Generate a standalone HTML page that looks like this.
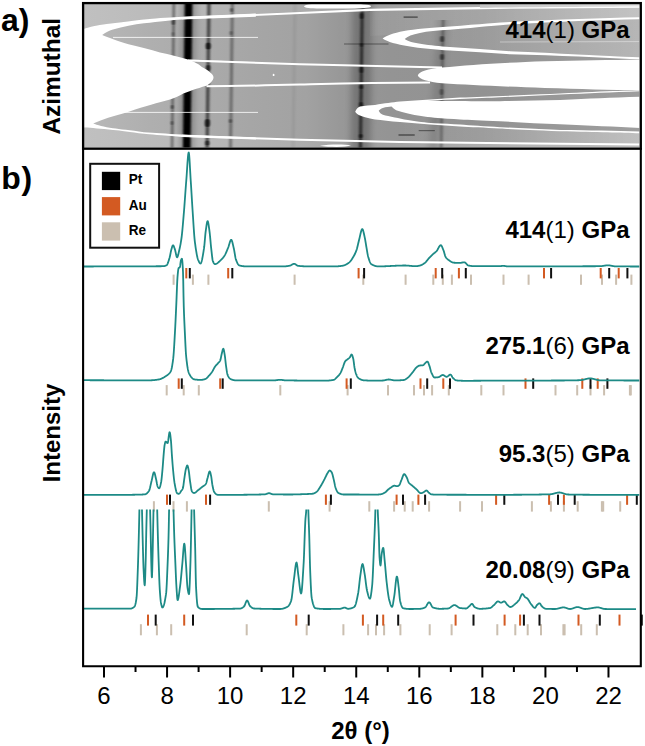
<!DOCTYPE html>
<html><head><meta charset="utf-8"><style>
html,body{margin:0;padding:0;background:#fff;width:645px;height:746px;overflow:hidden}
svg{display:block}
text{font-family:"Liberation Sans", sans-serif}
</style></head><body>
<svg width="645" height="746" viewBox="0 0 645 746">
<defs>
<clipPath id="ca"><rect x="84" y="4" width="555.5" height="143.6"/></clipPath>
<filter id="bl1" x="-100%" y="-5%" width="300%" height="110%"><feGaussianBlur stdDeviation="1.0 0.4"/></filter>
<filter id="bl2" x="-100%" y="-5%" width="300%" height="110%"><feGaussianBlur stdDeviation="3 0.5"/></filter>
<linearGradient id="gbg" x1="84" y1="0" x2="640" y2="0" gradientUnits="userSpaceOnUse">
      <stop offset="0" stop-color="#b8b8b8"/><stop offset="0.12" stop-color="#afafaf"/>
      <stop offset="0.30" stop-color="#a6a6a6"/><stop offset="0.40" stop-color="#a2a2a2"/>
      <stop offset="0.46" stop-color="#989898"/><stop offset="0.55" stop-color="#949494"/>
      <stop offset="0.64" stop-color="#939393"/><stop offset="0.72" stop-color="#929292"/><stop offset="0.85" stop-color="#989898"/><stop offset="1" stop-color="#9e9e9e"/></linearGradient>
<linearGradient id="gR0" x1="84" y1="0" x2="640" y2="0" gradientUnits="userSpaceOnUse">
      <stop offset="0" stop-color="#c0c0c0"/><stop offset="0.2" stop-color="#b8b8b8"/><stop offset="0.4" stop-color="#acacac"/>
      <stop offset="0.5" stop-color="#a0a0a0"/><stop offset="0.62" stop-color="#a6a6a6"/><stop offset="0.8" stop-color="#b4b4b4"/><stop offset="1" stop-color="#bcbcbc"/></linearGradient>
<linearGradient id="gTop" x1="480" y1="0" x2="640" y2="0" gradientUnits="userSpaceOnUse"><stop offset="0" stop-color="#c4c4c4"/><stop offset="0.6" stop-color="#d4d4d4"/><stop offset="1" stop-color="#e4e4e4"/></linearGradient>
<linearGradient id="gTB" x1="370" y1="0" x2="640" y2="0" gradientUnits="userSpaceOnUse"><stop offset="0" stop-color="#fff" stop-opacity="0.05"/><stop offset="0.5" stop-color="#fff" stop-opacity="0.2"/><stop offset="1" stop-color="#fff" stop-opacity="0.38"/></linearGradient>
<linearGradient id="gCI" x1="404" y1="0" x2="640" y2="0" gradientUnits="userSpaceOnUse"><stop offset="0" stop-color="#fff" stop-opacity="0.02"/><stop offset="0.5" stop-color="#fff" stop-opacity="0.12"/><stop offset="1" stop-color="#fff" stop-opacity="0.25"/></linearGradient>
<linearGradient id="gRB" x1="400" y1="0" x2="640" y2="0" gradientUnits="userSpaceOnUse"><stop offset="0" stop-color="#fff" stop-opacity="0.0"/><stop offset="0.5" stop-color="#fff" stop-opacity="0.15"/><stop offset="1" stop-color="#fff" stop-opacity="0.35"/></linearGradient>
<mask id="mw" maskUnits="userSpaceOnUse" x="0" y="0" width="645" height="160">
<path d="M84,28.7 C95,25.5 105,24 113,23.3 C125,21.8 135,20.3 144,19.4 C160,18 172,17.2 182,16.7 L256,13.6 L256,139.4 L182,136.9 C160,135.2 150,134.5 144,133.8 C130,131.8 120,130.6 113,129.9 C100,128.8 92,128 84,127.6 Z" fill="#fff"/><path d="M102.2,34.9 C106,32 110,30.3 113,29.5 C123,26.5 134,24.6 144,23.3 C160,21.3 172,20 182,19.4 L258,16.6 L258,62.3 L188,59.6 C178,56.3 170,54.5 160,52.4 C150,49.4 140,47 128.5,44.2 C117,40.5 108,37.5 102.2,34.9 Z" fill="#000"/><path d="M93.2,123.4 C103,119.3 113,116 123.9,113.3 L129.5,111.5 C145,106.5 158,102.6 170,99.6 C176,97.6 180,95.6 183.3,93.5 C193,89.8 201,87.2 206.5,85.7 L258,85.3 L258,137.7 L182,134.5 C165,133.5 155,133 144,132.2 C130,130.3 120,129.2 113,128.3 C104,126.6 97,125 93.2,123.4 Z" fill="#000"/><path d="M188,59.6 C195,62 199,64.5 201.9,67.1 C208,70.5 213.5,74 213.5,77.2 C213.5,80.5 210,83.5 206.5,85.7 L258,85.3 L258,62.3 Z" fill="#000"/>
<path d="M382.6,38.4 C390,32.5 410,28.5 450,26.4 C480,24 500,22.5 510,21.9 C560,19.5 600,18.2 640,17.3 L640,59.5 C600,57.5 560,55.6 510,54.3 C490,53 470,51.9 450,50.6 C420,48.5 392,45 382.6,38.4 Z" fill="#fff"/><path d="M404.7,39 C410,34 425,31 450,29.8 C480,26.8 500,25.2 510,24.4 C560,21.7 600,20.1 640,19.3 L640,57.3 C600,55.5 560,53.3 510,51.2 C490,49.8 470,48.4 450,47 C430,45.4 410,43.5 404.7,39 Z" fill="#000"/>
<path d="M417.8,75.4 C419,71.8 428,68.8 442,67.6 C470,64.8 500,62.8 545,61.2 C580,60.5 610,60 640,59.8 L640,90.6 C610,90 580,89 545,88 C500,86.3 470,85 442,83.2 C428,81.6 419,79 417.8,75.4 Z" fill="#fff"/>
<path d="M355.2,111.8 C356.5,109 358,107.4 360,106.6 C365,105.6 370,105.2 375,104.9 C385,103.4 392,102.5 400,101.6 C410,100.8 420,100.2 430,99.6 C440,98.9 450,98.2 460,97.6 C480,96.8 500,96.2 530,94.8 C560,93.5 580,92.5 600,91.5 C620,91 630,90.8 640,90.6 L640,133.2 C620,132.7 600,132.2 560,131.2 C530,130 510,129.1 500,128.5 C485,127.8 470,127.1 460,126.6 C450,125.9 440,125.3 430,124.6 C420,123.7 410,122.9 400,122 C390,121.1 382,120.2 375,119.4 C368,118.2 363,116.8 360,115.5 C357.5,114.6 356,113.3 355.2,111.8 Z" fill="#fff"/><path d="M378.7,110.8 C379.6,109.4 381,108.5 382.9,107.9 C386,107.2 389,106.8 391.5,106.6 C392.8,107.9 394.3,109.2 396.1,110.2 C400,111.4 404,112.5 407.9,113.4 C412,114.3 417,115.3 421.1,116.1 C425,116.7 430,117.3 434.3,117.7 C443,118.3 452,118.9 460,119.4 C470,119.9 480,120.3 500,121.2 C520,122.4 540,123.6 560,124.3 C590,125.6 615,126.8 640,127.9 L640,131.5 C615,131 590,130.6 560,130.1 C540,129.1 520,128.1 500,127.2 C485,126.5 470,125.4 460,124.6 C452,124.1 443,123.7 434.3,123.3 C430,122.9 425,122.5 421.1,122 C416,121.4 412,120.7 407.9,120 C403,119.1 399,118.2 394.8,117.4 C390,116.6 386,115.7 382.9,114.8 C381,114.1 379.5,112.5 378.7,110.8 Z M427.7,100.9 C438,100.2 450,99.5 460,99 C475,98.4 490,97.8 500,97.3 C520,96.4 540,95.4 560,94.5 C590,93.2 610,92.2 640,91.2 L640,96.8 C610,97.8 590,98.6 560,100 C540,100.5 520,100.9 500,101.2 C490,101.2 475,101.1 460,100.9 C450,100.9 438,100.9 427.7,100.9 Z" fill="#000"/>
</mask>
</defs>
<g clip-path="url(#ca)">
<rect x="84" y="4" width="556" height="144" fill="url(#gbg)"/>
<path d="M84,4 L84,28.7 C95,25.5 105,24 113,23.3 C135,20.3 160,18 182,16.7 C260,13.4 330,10.5 370,9.8 C470,8 560,7 640,6.6 L640,4 Z" fill="url(#gR0)"/>
<path d="M84,148 L84,127.6 C100,128.8 130,131.8 182,136.9 C260,139 330,141 400,141.9 C500,143.3 600,144.3 640,144.5 L640,148 Z" fill="url(#gR0)"/>
<path d="M370,9.8 C470,8 560,7 640,6.6 L640,19 C600,20 560,21.5 510,24 C470,26.5 430,29 405,34 L370,36 Z" fill="url(#gTB)"/>
<path d="M404.7,39 C410,34 425,31 450,29.8 C480,26.8 500,25.2 510,24.4 C560,21.7 600,20.1 640,19.3 L640,57.3 C600,55.5 560,53.3 510,51.2 C490,49.8 470,48.4 450,47 C430,45.4 410,43.5 404.7,39 Z" fill="url(#gCI)"/>
<path d="M400,121 C480,126.5 560,130.5 640,132.5 L640,144.5 C600,144.3 500,143.3 400,141.9 Z" fill="url(#gRB)"/>
<path d="M172.6,0 h2.6 L173.3,150 h-2.6 Z" fill="#000" opacity="0.42" filter="url(#bl1)"/>
<path d="M184.8,0 h7.6 L190.5,150 h-7.6 Z" fill="#000" opacity="1.0" filter="url(#bl1)"/>
<path d="M207.3,0 h3.4 L208.8,150 h-3.4 Z" fill="#000" opacity="0.58" filter="url(#bl1)"/>
<path d="M230.9,0 h3.0 L232.0,150 h-3.0 Z" fill="#000" opacity="0.36" filter="url(#bl1)"/>
<path d="M293.5,0 h3 L294.6,150 h-3 Z" fill="#000" opacity="0.05" filter="url(#bl1)"/>
<path d="M360.7,0 h3.2 L362.0,150 h-3.2 Z" fill="#000" opacity="0.62" filter="url(#bl1)"/>
<path d="M181.7,0 h14 L193.8,150 h-14 Z" fill="#000" opacity="0.22" filter="url(#bl2)"/>
<path d="M352.3,0 h20 L370.4,150 h-20 Z" fill="#000" opacity="0.22" filter="url(#bl2)"/>
<path d="M441.9,20 h2.5 L442.4,150 h-2.5 Z" fill="#000" opacity="0.3" filter="url(#bl1)"/>
<path d="M437.9,20 h10 L438.4,150 h-10 Z" fill="#000" opacity="0.12" filter="url(#bl2)"/>
<ellipse cx="173.3" cy="22" rx="1.6" ry="3" fill="#000" opacity="0.5" filter="url(#bl1)"/>
<ellipse cx="173" cy="34" rx="1.2" ry="2" fill="#000" opacity="0.3" filter="url(#bl1)"/>
<ellipse cx="172.2" cy="107" rx="1.3" ry="2" fill="#000" opacity="0.45" filter="url(#bl1)"/>
<ellipse cx="172" cy="123" rx="1.3" ry="2" fill="#000" opacity="0.4" filter="url(#bl1)"/>
<ellipse cx="208.2" cy="46" rx="2.4" ry="3.6" fill="#000" opacity="0.75" filter="url(#bl1)"/>
<ellipse cx="208.2" cy="68" rx="2.2" ry="3" fill="#000" opacity="0.6" filter="url(#bl1)"/>
<ellipse cx="207.4" cy="123" rx="2.6" ry="4" fill="#000" opacity="0.7" filter="url(#bl1)"/>
<ellipse cx="207.3" cy="143" rx="2.2" ry="2.5" fill="#000" opacity="0.6" filter="url(#bl1)"/>
<ellipse cx="231.5" cy="10" rx="1.5" ry="2" fill="#000" opacity="0.4" filter="url(#bl1)"/>
<ellipse cx="231" cy="33" rx="1.5" ry="2" fill="#000" opacity="0.3" filter="url(#bl1)"/>
<ellipse cx="230.4" cy="121" rx="1.5" ry="2" fill="#000" opacity="0.4" filter="url(#bl1)"/>
<ellipse cx="361.5" cy="16" rx="1.8" ry="3" fill="#000" opacity="0.6" filter="url(#bl1)"/>
<ellipse cx="361.5" cy="45" rx="1.6" ry="2" fill="#000" opacity="0.5" filter="url(#bl1)"/>
<ellipse cx="361.3" cy="70" rx="2.0" ry="3" fill="#000" opacity="0.5" filter="url(#bl1)"/>
<ellipse cx="361.2" cy="87" rx="1.8" ry="2" fill="#000" opacity="0.6" filter="url(#bl1)"/>
<ellipse cx="361" cy="105" rx="1.8" ry="3" fill="#000" opacity="0.6" filter="url(#bl1)"/>
<ellipse cx="360.8" cy="136" rx="1.8" ry="2" fill="#000" opacity="0.6" filter="url(#bl1)"/>
<ellipse cx="442" cy="39" rx="2" ry="3" fill="#000" opacity="0.5" filter="url(#bl1)"/>
<ellipse cx="442" cy="57" rx="2" ry="3" fill="#000" opacity="0.5" filter="url(#bl1)"/>
<ellipse cx="441.5" cy="92" rx="2" ry="3" fill="#000" opacity="0.3" filter="url(#bl1)"/>
<rect x="403.6" y="16.5" width="14.099999999999966" height="1.2" fill="#000" opacity="0.6"/>
<rect x="344" y="43.4" width="44.5" height="1.2" fill="#000" opacity="0.35"/>
<rect x="398.5" y="134.4" width="16.19999999999999" height="1.2" fill="#000" opacity="0.6"/>
<rect x="418.7" y="130.0" width="16.100000000000023" height="1.2" fill="#000" opacity="0.4"/>
<rect x="84" y="4" width="556" height="144" fill="#fff" mask="url(#mw)"/>
<path d="M182,18.1 C220,16.4 260,14.9 300,13 C330,11.6 350,10.6 370,9.8 C420,8.8 470,8 510,7.6 C560,7.1 600,6.8 640,6.6" fill="none" stroke="#fff" stroke-width="2.2" opacity="1"/>
<path d="M188,60.4 C220,61.7 260,63 300,64.2 C340,65.2 370,66.0 442,67.6" fill="none" stroke="#fff" stroke-width="2.0" opacity="1"/>
<path d="M206.5,86.3 C230,86.2 260,85.6 300,84.6 C340,83.6 370,82.7 430,82.6" fill="none" stroke="#fff" stroke-width="2.0" opacity="1"/>
<path d="M182,135.8 C220,137.2 250,138.3 300,139.8 C330,140.6 360,141.1 400,141.9 C450,142.7 500,143.3 560,143.8 C600,144.1 620,144.3 640,144.5" fill="none" stroke="#fff" stroke-width="2.0" opacity="1"/>
<path d="M113,37.4 L258,37.4" fill="none" stroke="#fff" stroke-width="1.0" opacity="0.8"/>
<path d="M124,112.4 L258,112.4" fill="none" stroke="#fff" stroke-width="1.0" opacity="0.8"/>
<path d="M500,42 L640,41.6" fill="none" stroke="#fff" stroke-width="1.0" opacity="0.4"/>
<path d="M480,4 L640,4 L640,6.6 C600,6.8 560,7.1 480,7.8 Z" fill="url(#gTop)"/>
<path d="M304,6.2 C306,4 312,4 320,4 L358,4 C366,4 371,5 371,6.3 C371,7.8 365,8.4 355,8.4 L320,8.4 C310,8.4 304,7.8 304,6.2 Z" fill="#fff"/>
<ellipse cx="273.6" cy="74.9" rx="0.9" ry="1.2" fill="#fff"/>
<path d="M320,145.8 C330,144.2 345,144.2 351,145.6 C345,147.4 330,147.4 320,145.8 Z" fill="#fff"/>
</g>
<rect x="83.1" y="3.1" width="557.7" height="145.6" fill="none" stroke="#000" stroke-width="2.3"/>
<text x="629.6" y="37.8" text-anchor="end" font-size="24" font-family='"Liberation Sans", sans-serif'><tspan font-weight="bold">414</tspan>(1)<tspan font-weight="bold"> GPa</tspan></text>
<defs><clipPath id="cb"><rect x="84" y="150" width="555.5" height="516"/></clipPath>
<clipPath id="c4"><rect x="84" y="509.5" width="560" height="200"/></clipPath></defs>
<rect x="172.6" y="274.6" width="2" height="10.2" fill="#cbbfb0"/>
<rect x="191.9" y="274.6" width="2" height="10.2" fill="#cbbfb0"/>
<rect x="207.4" y="274.6" width="2" height="10.2" fill="#cbbfb0"/>
<rect x="293.6" y="274.6" width="2" height="10.2" fill="#cbbfb0"/>
<rect x="362.3" y="274.6" width="2" height="10.2" fill="#cbbfb0"/>
<rect x="404.6" y="274.6" width="2" height="10.2" fill="#cbbfb0"/>
<rect x="432.3" y="274.6" width="2" height="10.2" fill="#cbbfb0"/>
<rect x="441.8" y="274.6" width="2" height="10.2" fill="#cbbfb0"/>
<rect x="450.9" y="274.6" width="2" height="10.2" fill="#cbbfb0"/>
<rect x="470.0" y="274.6" width="2" height="10.2" fill="#cbbfb0"/>
<rect x="502.5" y="274.6" width="2" height="10.2" fill="#cbbfb0"/>
<rect x="527.6" y="274.6" width="2" height="10.2" fill="#cbbfb0"/>
<rect x="580.0" y="274.6" width="2" height="10.2" fill="#cbbfb0"/>
<rect x="601.0" y="274.6" width="2" height="10.2" fill="#cbbfb0"/>
<rect x="615.1" y="274.6" width="2" height="10.2" fill="#cbbfb0"/>
<rect x="630.4" y="274.6" width="2" height="10.2" fill="#cbbfb0"/>
<rect x="185.3" y="268" width="2" height="10.4" fill="#d35a22"/>
<rect x="227.2" y="268" width="2" height="10.4" fill="#d35a22"/>
<rect x="357.6" y="268" width="2" height="10.4" fill="#d35a22"/>
<rect x="434.7" y="268" width="2" height="10.4" fill="#d35a22"/>
<rect x="457.9" y="268" width="2" height="10.4" fill="#d35a22"/>
<rect x="543.0" y="268" width="2" height="10.4" fill="#d35a22"/>
<rect x="599.7" y="268" width="2" height="10.4" fill="#d35a22"/>
<rect x="617.7" y="268" width="2" height="10.4" fill="#d35a22"/>
<rect x="188.8" y="268" width="2" height="10.4" fill="#111"/>
<rect x="231.3" y="268" width="2" height="10.4" fill="#111"/>
<rect x="363.1" y="268" width="2" height="10.4" fill="#111"/>
<rect x="441.2" y="268" width="2" height="10.4" fill="#111"/>
<rect x="464.8" y="268" width="2" height="10.4" fill="#111"/>
<rect x="550.1" y="268" width="2" height="10.4" fill="#111"/>
<rect x="608.2" y="268" width="2" height="10.4" fill="#111"/>
<rect x="626.4" y="268" width="2" height="10.4" fill="#111"/>
<rect x="165.7" y="385.1" width="2" height="10.3" fill="#cbbfb0"/>
<rect x="182.7" y="385.1" width="2" height="10.3" fill="#cbbfb0"/>
<rect x="197.8" y="385.1" width="2" height="10.3" fill="#cbbfb0"/>
<rect x="279.3" y="385.1" width="2" height="10.3" fill="#cbbfb0"/>
<rect x="346.6" y="385.1" width="2" height="10.3" fill="#cbbfb0"/>
<rect x="387.0" y="385.1" width="2" height="10.3" fill="#cbbfb0"/>
<rect x="413.0" y="385.1" width="2" height="10.3" fill="#cbbfb0"/>
<rect x="423.0" y="385.1" width="2" height="10.3" fill="#cbbfb0"/>
<rect x="431.1" y="385.1" width="2" height="10.3" fill="#cbbfb0"/>
<rect x="447.8" y="385.1" width="2" height="10.3" fill="#cbbfb0"/>
<rect x="480.3" y="385.1" width="2" height="10.3" fill="#cbbfb0"/>
<rect x="502.5" y="385.1" width="2" height="10.3" fill="#cbbfb0"/>
<rect x="554.5" y="385.1" width="2" height="10.3" fill="#cbbfb0"/>
<rect x="576.2" y="385.1" width="2" height="10.3" fill="#cbbfb0"/>
<rect x="589.5" y="385.1" width="2" height="10.3" fill="#cbbfb0"/>
<rect x="603.1" y="385.1" width="2" height="10.3" fill="#cbbfb0"/>
<rect x="628.9" y="385.1" width="2" height="10.3" fill="#cbbfb0"/>
<rect x="629.8" y="385.1" width="2" height="10.3" fill="#cbbfb0"/>
<rect x="177.7" y="378.4" width="2" height="10.4" fill="#d35a22"/>
<rect x="219.2" y="378.4" width="2" height="10.4" fill="#d35a22"/>
<rect x="345.6" y="378.4" width="2" height="10.4" fill="#d35a22"/>
<rect x="419.5" y="378.4" width="2" height="10.4" fill="#d35a22"/>
<rect x="442.3" y="378.4" width="2" height="10.4" fill="#d35a22"/>
<rect x="524.5" y="378.4" width="2" height="10.4" fill="#d35a22"/>
<rect x="581.3" y="378.4" width="2" height="10.4" fill="#d35a22"/>
<rect x="596.7" y="378.4" width="2" height="10.4" fill="#d35a22"/>
<rect x="180.8" y="378.4" width="2" height="10.4" fill="#111"/>
<rect x="221.7" y="378.4" width="2" height="10.4" fill="#111"/>
<rect x="349.8" y="378.4" width="2" height="10.4" fill="#111"/>
<rect x="426.2" y="378.4" width="2" height="10.4" fill="#111"/>
<rect x="449.0" y="378.4" width="2" height="10.4" fill="#111"/>
<rect x="532.2" y="378.4" width="2" height="10.4" fill="#111"/>
<rect x="589.5" y="378.4" width="2" height="10.4" fill="#111"/>
<rect x="606.4" y="378.4" width="2" height="10.4" fill="#111"/>
<rect x="152.9" y="501.2" width="2" height="10.4" fill="#cbbfb0"/>
<rect x="172.5" y="501.2" width="2" height="10.4" fill="#cbbfb0"/>
<rect x="185.9" y="501.2" width="2" height="10.4" fill="#cbbfb0"/>
<rect x="267.8" y="501.2" width="2" height="10.4" fill="#cbbfb0"/>
<rect x="328.6" y="501.2" width="2" height="10.4" fill="#cbbfb0"/>
<rect x="368.3" y="501.2" width="2" height="10.4" fill="#cbbfb0"/>
<rect x="393.1" y="501.2" width="2" height="10.4" fill="#cbbfb0"/>
<rect x="403.7" y="501.2" width="2" height="10.4" fill="#cbbfb0"/>
<rect x="411.7" y="501.2" width="2" height="10.4" fill="#cbbfb0"/>
<rect x="428.1" y="501.2" width="2" height="10.4" fill="#cbbfb0"/>
<rect x="459.1" y="501.2" width="2" height="10.4" fill="#cbbfb0"/>
<rect x="481.0" y="501.2" width="2" height="10.4" fill="#cbbfb0"/>
<rect x="530.9" y="501.2" width="2" height="10.4" fill="#cbbfb0"/>
<rect x="549.9" y="501.2" width="2" height="10.4" fill="#cbbfb0"/>
<rect x="562.9" y="501.2" width="2" height="10.4" fill="#cbbfb0"/>
<rect x="576.7" y="501.2" width="2" height="10.4" fill="#cbbfb0"/>
<rect x="600.9" y="501.2" width="2" height="10.4" fill="#cbbfb0"/>
<rect x="602.2" y="501.2" width="2" height="10.4" fill="#cbbfb0"/>
<rect x="619.2" y="501.2" width="2" height="10.4" fill="#cbbfb0"/>
<rect x="166.0" y="494.6" width="2" height="10.2" fill="#d35a22"/>
<rect x="205.0" y="494.6" width="2" height="10.2" fill="#d35a22"/>
<rect x="324.9" y="494.6" width="2" height="10.2" fill="#d35a22"/>
<rect x="395.6" y="494.6" width="2" height="10.2" fill="#d35a22"/>
<rect x="417.4" y="494.6" width="2" height="10.2" fill="#d35a22"/>
<rect x="495.1" y="494.6" width="2" height="10.2" fill="#d35a22"/>
<rect x="548.1" y="494.6" width="2" height="10.2" fill="#d35a22"/>
<rect x="562.9" y="494.6" width="2" height="10.2" fill="#d35a22"/>
<rect x="626.1" y="494.6" width="2" height="10.2" fill="#d35a22"/>
<rect x="169.0" y="494.6" width="2" height="10.2" fill="#111"/>
<rect x="209.1" y="494.6" width="2" height="10.2" fill="#111"/>
<rect x="329.9" y="494.6" width="2" height="10.2" fill="#111"/>
<rect x="402.0" y="494.6" width="2" height="10.2" fill="#111"/>
<rect x="424.1" y="494.6" width="2" height="10.2" fill="#111"/>
<rect x="503.3" y="494.6" width="2" height="10.2" fill="#111"/>
<rect x="557.0" y="494.6" width="2" height="10.2" fill="#111"/>
<rect x="573.7" y="494.6" width="2" height="10.2" fill="#111"/>
<rect x="635.8" y="494.6" width="2" height="10.2" fill="#111"/>
<rect x="139.9" y="624.2" width="2" height="11.1" fill="#cbbfb0"/>
<rect x="155.9" y="624.2" width="2" height="11.1" fill="#cbbfb0"/>
<rect x="170.2" y="624.2" width="2" height="11.1" fill="#cbbfb0"/>
<rect x="245.7" y="624.2" width="2" height="11.1" fill="#cbbfb0"/>
<rect x="305.7" y="624.2" width="2" height="11.1" fill="#cbbfb0"/>
<rect x="342.4" y="624.2" width="2" height="11.1" fill="#cbbfb0"/>
<rect x="367.1" y="624.2" width="2" height="11.1" fill="#cbbfb0"/>
<rect x="375.0" y="624.2" width="2" height="11.1" fill="#cbbfb0"/>
<rect x="383.1" y="624.2" width="2" height="11.1" fill="#cbbfb0"/>
<rect x="399.4" y="624.2" width="2" height="11.1" fill="#cbbfb0"/>
<rect x="428.7" y="624.2" width="2" height="11.1" fill="#cbbfb0"/>
<rect x="450.6" y="624.2" width="2" height="11.1" fill="#cbbfb0"/>
<rect x="496.3" y="624.2" width="2" height="11.1" fill="#cbbfb0"/>
<rect x="514.3" y="624.2" width="2" height="11.1" fill="#cbbfb0"/>
<rect x="526.7" y="624.2" width="2" height="11.1" fill="#cbbfb0"/>
<rect x="540.0" y="624.2" width="2" height="11.1" fill="#cbbfb0"/>
<rect x="562.4" y="624.2" width="2" height="11.1" fill="#cbbfb0"/>
<rect x="563.6" y="624.2" width="2" height="11.1" fill="#cbbfb0"/>
<rect x="580.2" y="624.2" width="2" height="11.1" fill="#cbbfb0"/>
<rect x="595.8" y="624.2" width="2" height="11.1" fill="#cbbfb0"/>
<rect x="147.0" y="614.6" width="2" height="11.0" fill="#d35a22"/>
<rect x="183.2" y="614.6" width="2" height="11.0" fill="#d35a22"/>
<rect x="295.3" y="614.6" width="2" height="11.0" fill="#d35a22"/>
<rect x="361.9" y="614.6" width="2" height="11.0" fill="#d35a22"/>
<rect x="382.2" y="614.6" width="2" height="11.0" fill="#d35a22"/>
<rect x="454.6" y="614.6" width="2" height="11.0" fill="#d35a22"/>
<rect x="503.6" y="614.6" width="2" height="11.0" fill="#d35a22"/>
<rect x="519.1" y="614.6" width="2" height="11.0" fill="#d35a22"/>
<rect x="577.5" y="614.6" width="2" height="11.0" fill="#d35a22"/>
<rect x="618.5" y="614.6" width="2" height="11.0" fill="#d35a22"/>
<rect x="154.7" y="614.6" width="2" height="11.0" fill="#111"/>
<rect x="192.0" y="614.6" width="2" height="11.0" fill="#111"/>
<rect x="307.7" y="614.6" width="2" height="11.0" fill="#111"/>
<rect x="376.1" y="614.6" width="2" height="11.0" fill="#111"/>
<rect x="397.2" y="614.6" width="2" height="11.0" fill="#111"/>
<rect x="472.5" y="614.6" width="2" height="11.0" fill="#111"/>
<rect x="522.9" y="614.6" width="2" height="11.0" fill="#111"/>
<rect x="538.5" y="614.6" width="2" height="11.0" fill="#111"/>
<rect x="598.8" y="614.6" width="2" height="11.0" fill="#111"/>
<rect x="640.8" y="614.6" width="2" height="11.0" fill="#111"/>
<g clip-path="url(#cb)">
<polyline points="84.00,266.50 84.25,266.50 84.50,266.50 84.75,266.50 85.00,266.50 85.25,266.50 85.50,266.50 85.75,266.50 86.00,266.50 86.25,266.49 86.50,266.49 86.75,266.49 87.00,266.49 87.25,266.49 87.50,266.49 87.75,266.49 88.00,266.49 88.25,266.49 88.50,266.49 88.75,266.49 89.00,266.49 89.25,266.49 89.50,266.49 89.75,266.49 90.00,266.48 90.25,266.48 90.50,266.48 90.75,266.48 91.00,266.48 91.25,266.48 91.50,266.48 91.75,266.48 92.00,266.48 92.25,266.48 92.50,266.48 92.75,266.48 93.00,266.48 93.25,266.48 93.50,266.48 93.75,266.47 94.00,266.47 94.25,266.47 94.50,266.47 94.75,266.47 95.00,266.47 95.25,266.47 95.50,266.47 95.75,266.47 96.00,266.47 96.25,266.47 96.50,266.47 96.75,266.47 97.00,266.47 97.25,266.47 97.50,266.46 97.75,266.46 98.00,266.46 98.25,266.46 98.50,266.46 98.75,266.46 99.00,266.46 99.25,266.46 99.50,266.46 99.75,266.46 100.00,266.46 100.25,266.46 100.50,266.46 100.75,266.46 101.00,266.46 101.25,266.45 101.50,266.45 101.75,266.45 102.00,266.45 102.25,266.45 102.50,266.45 102.75,266.45 103.00,266.45 103.25,266.45 103.50,266.45 103.75,266.45 104.00,266.45 104.25,266.45 104.50,266.45 104.75,266.44 105.00,266.44 105.25,266.44 105.50,266.44 105.75,266.44 106.00,266.44 106.25,266.44 106.50,266.44 106.75,266.44 107.00,266.44 107.25,266.44 107.50,266.44 107.75,266.44 108.00,266.44 108.25,266.43 108.50,266.43 108.75,266.43 109.00,266.43 109.25,266.43 109.50,266.43 109.75,266.43 110.00,266.43 110.25,266.43 110.50,266.43 110.75,266.43 111.00,266.43 111.25,266.43 111.50,266.43 111.75,266.42 112.00,266.42 112.25,266.42 112.50,266.42 112.75,266.42 113.00,266.42 113.25,266.42 113.50,266.42 113.75,266.42 114.00,266.42 114.25,266.42 114.50,266.42 114.75,266.42 115.00,266.42 115.25,266.41 115.50,266.41 115.75,266.41 116.00,266.41 116.25,266.41 116.50,266.41 116.75,266.41 117.00,266.41 117.25,266.41 117.50,266.41 117.75,266.41 118.00,266.41 118.25,266.41 118.50,266.40 118.75,266.40 119.00,266.40 119.25,266.40 119.50,266.40 119.75,266.40 120.00,266.40 120.25,266.40 120.50,266.40 120.75,266.40 121.00,266.40 121.25,266.40 121.50,266.40 121.75,266.39 122.00,266.39 122.25,266.39 122.50,266.39 122.75,266.39 123.00,266.39 123.25,266.39 123.50,266.39 123.75,266.39 124.00,266.39 124.25,266.39 124.50,266.39 124.75,266.39 125.00,266.39 125.25,266.38 125.50,266.38 125.75,266.38 126.00,266.38 126.25,266.38 126.50,266.38 126.75,266.38 127.00,266.38 127.25,266.38 127.50,266.38 127.75,266.38 128.00,266.38 128.25,266.38 128.50,266.38 128.75,266.37 129.00,266.37 129.25,266.37 129.50,266.37 129.75,266.37 130.00,266.37 130.25,266.37 130.50,266.37 130.75,266.37 131.00,266.37 131.25,266.37 131.50,266.37 131.75,266.37 132.00,266.37 132.25,266.37 132.50,266.36 132.75,266.36 133.00,266.36 133.25,266.36 133.50,266.36 133.75,266.36 134.00,266.36 134.25,266.36 134.50,266.36 134.75,266.36 135.00,266.36 135.25,266.36 135.50,266.36 135.75,266.35 136.00,266.35 136.25,266.35 136.50,266.35 136.75,266.35 137.00,266.35 137.25,266.35 137.50,266.35 137.75,266.35 138.00,266.35 138.25,266.35 138.50,266.35 138.75,266.35 139.00,266.34 139.25,266.34 139.50,266.34 139.75,266.34 140.00,266.34 140.25,266.34 140.50,266.34 140.75,266.34 141.00,266.34 141.25,266.34 141.50,266.34 141.75,266.33 142.00,266.33 142.25,266.33 142.50,266.33 142.75,266.33 143.00,266.33 143.25,266.33 143.50,266.33 143.75,266.33 144.00,266.33 144.25,266.33 144.50,266.32 144.75,266.32 145.00,266.32 145.25,266.32 145.50,266.32 145.75,266.32 146.00,266.32 146.25,266.32 146.50,266.32 146.75,266.31 147.00,266.31 147.25,266.31 147.50,266.31 147.75,266.31 148.00,266.31 148.25,266.31 148.50,266.31 148.75,266.31 149.00,266.30 149.25,266.30 149.50,266.30 149.75,266.30 150.00,266.30 150.25,266.30 150.50,266.30 150.75,266.30 151.00,266.30 151.25,266.29 151.50,266.29 151.75,266.29 152.00,266.29 152.25,266.29 152.50,266.29 152.75,266.29 153.00,266.29 153.25,266.29 153.50,266.29 153.75,266.28 154.00,266.28 154.25,266.28 154.50,266.28 154.75,266.28 155.00,266.28 155.25,266.28 155.50,266.28 155.75,266.28 156.00,266.27 156.25,266.27 156.50,266.27 156.75,266.27 157.00,266.27 157.25,266.27 157.50,266.27 157.75,266.26 158.00,266.26 158.25,266.26 158.50,266.26 158.75,266.26 159.00,266.25 159.25,266.25 159.50,266.25 159.75,266.25 160.00,266.24 160.25,266.24 160.50,266.24 160.75,266.23 161.00,266.23 161.25,266.23 161.50,266.22 161.75,266.22 162.00,266.22 162.25,266.21 162.50,266.21 162.75,266.20 163.00,266.20 163.25,266.19 163.50,266.17 163.75,266.15 164.00,266.11 164.25,266.06 164.50,266.01 164.75,265.95 165.00,265.88 165.25,265.80 165.50,265.72 165.75,265.62 166.00,265.52 166.25,265.42 166.50,265.30 166.75,265.12 167.00,264.82 167.25,264.41 167.50,263.91 167.75,263.33 168.00,262.68 168.25,261.97 168.50,261.22 168.75,260.43 169.00,259.63 169.25,258.81 169.50,258.00 169.75,257.08 170.00,255.98 170.25,254.76 170.50,253.48 170.75,252.20 171.00,250.99 171.25,249.90 171.50,249.00 171.75,248.18 172.00,247.34 172.25,246.56 172.50,245.91 172.75,245.46 173.00,245.30 173.25,245.42 173.50,245.74 173.75,246.22 174.00,246.82 174.25,247.49 174.50,248.19 174.75,248.87 175.00,249.61 175.25,250.58 175.50,251.72 175.75,252.93 176.00,254.13 176.25,255.25 176.50,256.20 176.75,256.90 177.00,257.27 177.25,257.24 177.50,256.91 177.75,256.32 178.00,255.53 178.25,254.59 178.50,253.53 178.75,252.42 179.00,251.29 179.25,250.21 179.50,249.16 179.75,248.05 180.00,246.88 180.25,245.63 180.50,244.30 180.75,242.88 181.00,241.36 181.25,239.74 181.50,238.00 181.75,236.06 182.00,233.84 182.25,231.41 182.50,228.78 182.75,225.99 183.00,223.10 183.25,220.12 183.50,217.11 183.75,214.09 184.00,211.09 184.25,207.95 184.50,204.66 184.75,201.26 185.00,197.80 185.25,194.30 185.50,190.81 185.75,187.38 186.00,184.04 186.25,180.82 186.50,177.57 186.75,173.96 187.00,170.15 187.25,166.32 187.50,162.63 187.75,159.27 188.00,156.40 188.25,154.21 188.50,152.86 188.75,152.53 189.00,153.61 189.25,156.00 189.50,159.40 189.75,163.49 190.00,168.00 190.25,172.61 190.50,177.02 190.75,180.95 191.00,184.81 191.25,188.82 191.50,192.93 191.75,197.09 192.00,201.24 192.25,205.32 192.50,209.27 192.75,213.05 193.00,216.87 193.25,220.80 193.50,224.72 193.75,228.54 194.00,232.15 194.25,235.46 194.50,238.37 194.75,240.79 195.00,242.78 195.25,244.69 195.50,246.52 195.75,248.26 196.00,249.91 196.25,251.47 196.50,252.94 196.75,254.30 197.00,255.56 197.25,256.71 197.50,257.75 197.75,258.67 198.00,259.48 198.25,260.15 198.50,260.71 198.75,261.24 199.00,261.75 199.25,262.22 199.50,262.64 199.75,263.00 200.00,263.27 200.25,263.44 200.50,263.50 200.75,263.38 201.00,263.05 201.25,262.52 201.50,261.80 201.75,260.91 202.00,259.88 202.25,258.72 202.50,257.44 202.75,256.07 203.00,254.62 203.25,253.11 203.50,251.56 203.75,249.98 204.00,248.40 204.25,246.47 204.50,243.99 204.75,241.17 205.00,238.24 205.25,235.42 205.50,232.92 205.75,230.95 206.00,229.12 206.25,227.28 206.50,225.51 206.75,223.92 207.00,222.60 207.25,221.64 207.50,221.15 207.75,221.20 208.00,221.80 208.25,222.83 208.50,224.22 208.75,225.85 209.00,227.64 209.25,229.49 209.50,231.30 209.75,233.31 210.00,235.73 210.25,238.40 210.50,241.20 210.75,243.96 211.00,246.55 211.25,248.83 211.50,251.10 211.75,253.43 212.00,255.69 212.25,257.75 212.50,259.47 212.75,260.72 213.00,261.44 213.25,262.00 213.50,262.51 213.75,262.96 214.00,263.35 214.25,263.67 214.50,263.90 214.75,264.05 215.00,264.10 215.25,264.09 215.50,264.05 215.75,263.99 216.00,263.91 216.25,263.81 216.50,263.69 216.75,263.55 217.00,263.40 217.25,263.23 217.50,263.05 217.75,262.86 218.00,262.66 218.25,262.44 218.50,262.23 218.75,262.00 219.00,261.77 219.25,261.54 219.50,261.31 219.75,261.08 220.00,260.84 220.25,260.61 220.50,260.39 220.75,260.17 221.00,259.94 221.25,259.70 221.50,259.45 221.75,259.19 222.00,258.93 222.25,258.65 222.50,258.36 222.75,258.07 223.00,257.76 223.25,257.44 223.50,257.11 223.75,256.77 224.00,256.41 224.25,256.05 224.50,255.67 224.75,255.28 225.00,254.87 225.25,254.41 225.50,253.93 225.75,253.41 226.00,252.86 226.25,252.29 226.50,251.69 226.75,251.09 227.00,250.47 227.25,249.85 227.50,249.23 227.75,248.60 228.00,247.99 228.25,247.38 228.50,246.70 228.75,245.93 229.00,245.11 229.25,244.26 229.50,243.41 229.75,242.59 230.00,241.82 230.25,241.13 230.50,240.56 230.75,240.13 231.00,239.87 231.25,239.81 231.50,239.99 231.75,240.42 232.00,241.04 232.25,241.84 232.50,242.77 232.75,243.80 233.00,244.89 233.25,246.01 233.50,247.12 233.75,248.19 234.00,249.30 234.25,250.63 234.50,252.10 234.75,253.63 235.00,255.16 235.25,256.61 235.50,257.89 235.75,258.92 236.00,259.67 236.25,260.34 236.50,260.99 236.75,261.60 237.00,262.19 237.25,262.73 237.50,263.24 237.75,263.71 238.00,264.13 238.25,264.50 238.50,264.81 238.75,265.06 239.00,265.26 239.25,265.38 239.50,265.46 239.75,265.53 240.00,265.61 240.25,265.67 240.50,265.74 240.75,265.80 241.00,265.85 241.25,265.91 241.50,265.96 241.75,266.00 242.00,266.05 242.25,266.09 242.50,266.12 242.75,266.16 243.00,266.19 243.25,266.21 243.50,266.24 243.75,266.26 244.00,266.27 244.25,266.28 244.50,266.29 244.75,266.30 245.00,266.30 245.25,266.30 245.50,266.30 245.75,266.30 246.00,266.30 246.25,266.30 246.50,266.30 246.75,266.30 247.00,266.30 247.25,266.30 247.50,266.30 247.75,266.30 248.00,266.30 248.25,266.30 248.50,266.30 248.75,266.30 249.00,266.30 249.25,266.30 249.50,266.30 249.75,266.30 250.00,266.30 250.25,266.30 250.50,266.30 250.75,266.30 251.00,266.30 251.25,266.30 251.50,266.30 251.75,266.30 252.00,266.30 252.25,266.30 252.50,266.30 252.75,266.30 253.00,266.30 253.25,266.30 253.50,266.30 253.75,266.30 254.00,266.30 254.25,266.30 254.50,266.30 254.75,266.30 255.00,266.30 255.25,266.30 255.50,266.30 255.75,266.30 256.00,266.30 256.25,266.30 256.50,266.30 256.75,266.30 257.00,266.30 257.25,266.30 257.50,266.30 257.75,266.30 258.00,266.30 258.25,266.30 258.50,266.30 258.75,266.30 259.00,266.30 259.25,266.30 259.50,266.30 259.75,266.30 260.00,266.30 260.25,266.30 260.50,266.30 260.75,266.30 261.00,266.30 261.25,266.30 261.50,266.30 261.75,266.30 262.00,266.30 262.25,266.30 262.50,266.30 262.75,266.30 263.00,266.30 263.25,266.30 263.50,266.30 263.75,266.30 264.00,266.30 264.25,266.30 264.50,266.30 264.75,266.30 265.00,266.30 265.25,266.30 265.50,266.30 265.75,266.30 266.00,266.30 266.25,266.30 266.50,266.30 266.75,266.30 267.00,266.30 267.25,266.30 267.50,266.30 267.75,266.30 268.00,266.30 268.25,266.30 268.50,266.30 268.75,266.30 269.00,266.30 269.25,266.30 269.50,266.30 269.75,266.30 270.00,266.30 270.25,266.30 270.50,266.30 270.75,266.30 271.00,266.30 271.25,266.30 271.50,266.30 271.75,266.30 272.00,266.30 272.25,266.30 272.50,266.30 272.75,266.30 273.00,266.30 273.25,266.30 273.50,266.30 273.75,266.30 274.00,266.30 274.25,266.30 274.50,266.30 274.75,266.30 275.00,266.30 275.25,266.30 275.50,266.30 275.75,266.30 276.00,266.30 276.25,266.30 276.50,266.30 276.75,266.30 277.00,266.30 277.25,266.30 277.50,266.30 277.75,266.30 278.00,266.30 278.25,266.30 278.50,266.30 278.75,266.30 279.00,266.30 279.25,266.30 279.50,266.30 279.75,266.30 280.00,266.30 280.25,266.30 280.50,266.30 280.75,266.30 281.00,266.30 281.25,266.30 281.50,266.30 281.75,266.30 282.00,266.30 282.25,266.30 282.50,266.30 282.75,266.30 283.00,266.30 283.25,266.30 283.50,266.30 283.75,266.30 284.00,266.30 284.25,266.30 284.50,266.30 284.75,266.30 285.00,266.30 285.25,266.30 285.50,266.29 285.75,266.28 286.00,266.26 286.25,266.24 286.50,266.22 286.75,266.19 287.00,266.16 287.25,266.12 287.50,266.08 287.75,266.04 288.00,266.00 288.25,265.96 288.50,265.91 288.75,265.86 289.00,265.81 289.25,265.76 289.50,265.71 289.75,265.65 290.00,265.60 290.25,265.53 290.50,265.44 290.75,265.33 291.00,265.21 291.25,265.07 291.50,264.92 291.75,264.77 292.00,264.62 292.25,264.47 292.50,264.33 292.75,264.19 293.00,264.07 293.25,263.97 293.50,263.89 293.75,263.83 294.00,263.80 294.25,263.81 294.50,263.85 294.75,263.94 295.00,264.05 295.25,264.19 295.50,264.34 295.75,264.52 296.00,264.70 296.25,264.88 296.50,265.06 296.75,265.24 297.00,265.40 297.25,265.54 297.50,265.66 297.75,265.75 298.00,265.80 298.25,265.83 298.50,265.87 298.75,265.90 299.00,265.93 299.25,265.95 299.50,265.98 299.75,266.01 300.00,266.03 300.25,266.06 300.50,266.08 300.75,266.10 301.00,266.12 301.25,266.14 301.50,266.16 301.75,266.18 302.00,266.19 302.25,266.21 302.50,266.22 302.75,266.24 303.00,266.25 303.25,266.26 303.50,266.27 303.75,266.28 304.00,266.28 304.25,266.29 304.50,266.29 304.75,266.30 305.00,266.30 305.25,266.30 305.50,266.30 305.75,266.31 306.00,266.31 306.25,266.31 306.50,266.31 306.75,266.31 307.00,266.31 307.25,266.32 307.50,266.32 307.75,266.32 308.00,266.32 308.25,266.32 308.50,266.33 308.75,266.33 309.00,266.33 309.25,266.33 309.50,266.33 309.75,266.33 310.00,266.33 310.25,266.34 310.50,266.34 310.75,266.34 311.00,266.34 311.25,266.34 311.50,266.34 311.75,266.34 312.00,266.35 312.25,266.35 312.50,266.35 312.75,266.35 313.00,266.35 313.25,266.35 313.50,266.35 313.75,266.36 314.00,266.36 314.25,266.36 314.50,266.36 314.75,266.36 315.00,266.36 315.25,266.36 315.50,266.36 315.75,266.36 316.00,266.37 316.25,266.37 316.50,266.37 316.75,266.37 317.00,266.37 317.25,266.37 317.50,266.37 317.75,266.37 318.00,266.37 318.25,266.37 318.50,266.37 318.75,266.38 319.00,266.38 319.25,266.38 319.50,266.38 319.75,266.38 320.00,266.38 320.25,266.38 320.50,266.38 320.75,266.38 321.00,266.38 321.25,266.38 321.50,266.38 321.75,266.38 322.00,266.39 322.25,266.39 322.50,266.39 322.75,266.39 323.00,266.39 323.25,266.39 323.50,266.39 323.75,266.39 324.00,266.39 324.25,266.39 324.50,266.39 324.75,266.39 325.00,266.39 325.25,266.39 325.50,266.39 325.75,266.39 326.00,266.39 326.25,266.39 326.50,266.39 326.75,266.39 327.00,266.39 327.25,266.40 327.50,266.40 327.75,266.40 328.00,266.40 328.25,266.40 328.50,266.40 328.75,266.40 329.00,266.40 329.25,266.40 329.50,266.40 329.75,266.40 330.00,266.40 330.25,266.40 330.50,266.40 330.75,266.40 331.00,266.40 331.25,266.40 331.50,266.40 331.75,266.40 332.00,266.40 332.25,266.40 332.50,266.40 332.75,266.40 333.00,266.40 333.25,266.40 333.50,266.40 333.75,266.40 334.00,266.40 334.25,266.40 334.50,266.40 334.75,266.40 335.00,266.40 335.25,266.40 335.50,266.40 335.75,266.39 336.00,266.39 336.25,266.38 336.50,266.37 336.75,266.36 337.00,266.35 337.25,266.33 337.50,266.32 337.75,266.30 338.00,266.28 338.25,266.26 338.50,266.24 338.75,266.22 339.00,266.19 339.25,266.17 339.50,266.14 339.75,266.11 340.00,266.09 340.25,266.06 340.50,266.03 340.75,265.99 341.00,265.96 341.25,265.93 341.50,265.89 341.75,265.86 342.00,265.82 342.25,265.78 342.50,265.75 342.75,265.71 343.00,265.67 343.25,265.62 343.50,265.56 343.75,265.49 344.00,265.41 344.25,265.33 344.50,265.24 344.75,265.14 345.00,265.04 345.25,264.93 345.50,264.81 345.75,264.68 346.00,264.55 346.25,264.42 346.50,264.28 346.75,264.13 347.00,263.98 347.25,263.82 347.50,263.66 347.75,263.49 348.00,263.32 348.25,263.15 348.50,262.97 348.75,262.79 349.00,262.60 349.25,262.40 349.50,262.18 349.75,261.94 350.00,261.68 350.25,261.40 350.50,261.11 350.75,260.79 351.00,260.46 351.25,260.12 351.50,259.77 351.75,259.40 352.00,259.02 352.25,258.63 352.50,258.23 352.75,257.83 353.00,257.41 353.25,256.99 353.50,256.57 353.75,256.14 354.00,255.70 354.25,255.24 354.50,254.76 354.75,254.26 355.00,253.74 355.25,253.20 355.50,252.63 355.75,252.03 356.00,251.41 356.25,250.76 356.50,250.07 356.75,249.35 357.00,248.53 357.25,247.60 357.50,246.59 357.75,245.51 358.00,244.41 358.25,243.30 358.50,242.21 358.75,241.17 359.00,240.20 359.25,239.23 359.50,238.18 359.75,237.09 360.00,235.97 360.25,234.85 360.50,233.76 360.75,232.72 361.00,231.76 361.25,230.92 361.50,230.20 361.75,229.64 362.00,229.27 362.25,229.10 362.50,229.19 362.75,229.55 363.00,230.14 363.25,230.92 363.50,231.86 363.75,232.92 364.00,234.06 364.25,235.24 364.50,236.42 364.75,237.58 365.00,238.76 365.25,240.12 365.50,241.61 365.75,243.16 366.00,244.73 366.25,246.24 366.50,247.66 366.75,249.12 367.00,250.62 367.25,252.11 367.50,253.54 367.75,254.87 368.00,256.05 368.25,257.03 368.50,257.85 368.75,258.64 369.00,259.41 369.25,260.14 369.50,260.84 369.75,261.49 370.00,262.08 370.25,262.63 370.50,263.10 370.75,263.51 371.00,263.84 371.25,264.09 371.50,264.26 371.75,264.41 372.00,264.55 372.25,264.69 372.50,264.82 372.75,264.95 373.00,265.07 373.25,265.19 373.50,265.30 373.75,265.41 374.00,265.51 374.25,265.61 374.50,265.70 374.75,265.79 375.00,265.87 375.25,265.94 375.50,266.01 375.75,266.07 376.00,266.13 376.25,266.18 376.50,266.23 376.75,266.27 377.00,266.31 377.25,266.34 377.50,266.36 377.75,266.38 378.00,266.39 378.25,266.40 378.50,266.40 378.75,266.40 379.00,266.40 379.25,266.40 379.50,266.40 379.75,266.39 380.00,266.39 380.25,266.39 380.50,266.38 380.75,266.38 381.00,266.38 381.25,266.37 381.50,266.37 381.75,266.36 382.00,266.36 382.25,266.35 382.50,266.34 382.75,266.34 383.00,266.33 383.25,266.32 383.50,266.31 383.75,266.31 384.00,266.30 384.25,266.29 384.50,266.28 384.75,266.27 385.00,266.26 385.25,266.25 385.50,266.24 385.75,266.23 386.00,266.22 386.25,266.21 386.50,266.20 386.75,266.19 387.00,266.18 387.25,266.17 387.50,266.16 387.75,266.14 388.00,266.13 388.25,266.12 388.50,266.11 388.75,266.10 389.00,266.09 389.25,266.07 389.50,266.06 389.75,266.05 390.00,266.04 390.25,266.02 390.50,266.01 390.75,266.00 391.00,265.99 391.25,265.97 391.50,265.96 391.75,265.95 392.00,265.93 392.25,265.92 392.50,265.91 392.75,265.90 393.00,265.88 393.25,265.87 393.50,265.86 393.75,265.85 394.00,265.83 394.25,265.82 394.50,265.81 394.75,265.80 395.00,265.79 395.25,265.77 395.50,265.76 395.75,265.75 396.00,265.74 396.25,265.73 396.50,265.72 396.75,265.71 397.00,265.70 397.25,265.68 397.50,265.67 397.75,265.66 398.00,265.65 398.25,265.64 398.50,265.63 398.75,265.63 399.00,265.62 399.25,265.61 399.50,265.60 399.75,265.59 400.00,265.58 400.25,265.58 400.50,265.57 400.75,265.56 401.00,265.55 401.25,265.55 401.50,265.54 401.75,265.54 402.00,265.53 402.25,265.53 402.50,265.52 402.75,265.52 403.00,265.51 403.25,265.51 403.50,265.51 403.75,265.51 404.00,265.50 404.25,265.50 404.50,265.50 404.75,265.50 405.00,265.50 405.25,265.50 405.50,265.50 405.75,265.51 406.00,265.52 406.25,265.53 406.50,265.54 406.75,265.55 407.00,265.57 407.25,265.58 407.50,265.60 407.75,265.62 408.00,265.64 408.25,265.66 408.50,265.68 408.75,265.70 409.00,265.73 409.25,265.75 409.50,265.78 409.75,265.80 410.00,265.83 410.25,265.85 410.50,265.87 410.75,265.90 411.00,265.92 411.25,265.95 411.50,265.97 411.75,266.00 412.00,266.02 412.25,266.04 412.50,266.06 412.75,266.08 413.00,266.10 413.25,266.12 413.50,266.13 413.75,266.15 414.00,266.16 414.25,266.17 414.50,266.18 414.75,266.19 415.00,266.20 415.25,266.20 415.50,266.20 415.75,266.20 416.00,266.19 416.25,266.17 416.50,266.16 416.75,266.13 417.00,266.10 417.25,266.07 417.50,266.04 417.75,266.00 418.00,265.95 418.25,265.91 418.50,265.86 418.75,265.81 419.00,265.75 419.25,265.70 419.50,265.64 419.75,265.58 420.00,265.52 420.25,265.46 420.50,265.39 420.75,265.31 421.00,265.21 421.25,265.11 421.50,265.00 421.75,264.88 422.00,264.75 422.25,264.61 422.50,264.47 422.75,264.32 423.00,264.16 423.25,264.00 423.50,263.83 423.75,263.66 424.00,263.48 424.25,263.30 424.50,263.12 424.75,262.94 425.00,262.74 425.25,262.53 425.50,262.30 425.75,262.05 426.00,261.78 426.25,261.50 426.50,261.21 426.75,260.91 427.00,260.60 427.25,260.29 427.50,259.98 427.75,259.66 428.00,259.35 428.25,259.04 428.50,258.73 428.75,258.43 429.00,258.14 429.25,257.86 429.50,257.59 429.75,257.33 430.00,257.07 430.25,256.81 430.50,256.55 430.75,256.29 431.00,256.04 431.25,255.78 431.50,255.53 431.75,255.29 432.00,255.04 432.25,254.80 432.50,254.57 432.75,254.34 433.00,254.11 433.25,253.89 433.50,253.69 433.75,253.49 434.00,253.30 434.25,253.11 434.50,252.92 434.75,252.73 435.00,252.53 435.25,252.34 435.50,252.13 435.75,251.92 436.00,251.69 436.25,251.45 436.50,251.19 436.75,250.89 437.00,250.53 437.25,250.14 437.50,249.71 437.75,249.26 438.00,248.80 438.25,248.33 438.50,247.87 438.75,247.41 439.00,246.98 439.25,246.57 439.50,246.20 439.75,245.88 440.00,245.61 440.25,245.40 440.50,245.26 440.75,245.20 441.00,245.25 441.25,245.44 441.50,245.75 441.75,246.17 442.00,246.67 442.25,247.24 442.50,247.85 442.75,248.48 443.00,249.12 443.25,249.74 443.50,250.35 443.75,251.06 444.00,251.87 444.25,252.75 444.50,253.65 444.75,254.54 445.00,255.38 445.25,256.12 445.50,256.73 445.75,257.18 446.00,257.54 446.25,257.87 446.50,258.17 446.75,258.45 447.00,258.71 447.25,258.94 447.50,259.16 447.75,259.37 448.00,259.56 448.25,259.75 448.50,259.93 448.75,260.11 449.00,260.28 449.25,260.46 449.50,260.64 449.75,260.82 450.00,260.99 450.25,261.16 450.50,261.33 450.75,261.49 451.00,261.65 451.25,261.80 451.50,261.94 451.75,262.07 452.00,262.19 452.25,262.30 452.50,262.40 452.75,262.49 453.00,262.56 453.25,262.62 453.50,262.67 453.75,262.70 454.00,262.71 454.25,262.73 454.50,262.74 454.75,262.76 455.00,262.77 455.25,262.78 455.50,262.80 455.75,262.81 456.00,262.82 456.25,262.83 456.50,262.84 456.75,262.85 457.00,262.86 457.25,262.86 457.50,262.87 457.75,262.88 458.00,262.88 458.25,262.89 458.50,262.89 458.75,262.89 459.00,262.90 459.25,262.90 459.50,262.90 459.75,262.90 460.00,262.89 460.25,262.88 460.50,262.85 460.75,262.82 461.00,262.78 461.25,262.74 461.50,262.70 461.75,262.65 462.00,262.60 462.25,262.55 462.50,262.50 462.75,262.46 463.00,262.42 463.25,262.38 463.50,262.35 463.75,262.32 464.00,262.31 464.25,262.30 464.50,262.32 464.75,262.40 465.00,262.53 465.25,262.70 465.50,262.91 465.75,263.15 466.00,263.41 466.25,263.68 466.50,263.96 466.75,264.24 467.00,264.51 467.25,264.77 467.50,264.99 467.75,265.19 468.00,265.35 468.25,265.46 468.50,265.52 468.75,265.57 469.00,265.62 469.25,265.66 469.50,265.71 469.75,265.75 470.00,265.79 470.25,265.83 470.50,265.87 470.75,265.90 471.00,265.94 471.25,265.97 471.50,266.00 471.75,266.03 472.00,266.06 472.25,266.08 472.50,266.10 472.75,266.12 473.00,266.14 473.25,266.15 473.50,266.17 473.75,266.18 474.00,266.19 474.25,266.19 474.50,266.20 474.75,266.20 475.00,266.20 475.25,266.20 475.50,266.20 475.75,266.20 476.00,266.20 476.25,266.20 476.50,266.20 476.75,266.20 477.00,266.20 477.25,266.20 477.50,266.20 477.75,266.20 478.00,266.20 478.25,266.20 478.50,266.20 478.75,266.20 479.00,266.20 479.25,266.20 479.50,266.20 479.75,266.20 480.00,266.20 480.25,266.20 480.50,266.20 480.75,266.20 481.00,266.20 481.25,266.20 481.50,266.20 481.75,266.20 482.00,266.20 482.25,266.20 482.50,266.20 482.75,266.20 483.00,266.20 483.25,266.20 483.50,266.20 483.75,266.20 484.00,266.20 484.25,266.20 484.50,266.20 484.75,266.20 485.00,266.20 485.25,266.20 485.50,266.20 485.75,266.20 486.00,266.20 486.25,266.20 486.50,266.20 486.75,266.20 487.00,266.20 487.25,266.20 487.50,266.20 487.75,266.20 488.00,266.20 488.25,266.20 488.50,266.20 488.75,266.20 489.00,266.20 489.25,266.20 489.50,266.20 489.75,266.20 490.00,266.20 490.25,266.20 490.50,266.20 490.75,266.20 491.00,266.20 491.25,266.20 491.50,266.20 491.75,266.20 492.00,266.20 492.25,266.20 492.50,266.20 492.75,266.20 493.00,266.20 493.25,266.20 493.50,266.20 493.75,266.20 494.00,266.20 494.25,266.20 494.50,266.20 494.75,266.20 495.00,266.20 495.25,266.20 495.50,266.20 495.75,266.20 496.00,266.20 496.25,266.20 496.50,266.20 496.75,266.20 497.00,266.20 497.25,266.20 497.50,266.20 497.75,266.20 498.00,266.20 498.25,266.20 498.50,266.20 498.75,266.20 499.00,266.20 499.25,266.20 499.50,266.20 499.75,266.20 500.00,266.20 500.25,266.19 500.50,266.17 500.75,266.14 501.00,266.10 501.25,266.05 501.50,266.00 501.75,265.95 502.00,265.90 502.25,265.86 502.50,265.83 502.75,265.81 503.00,265.80 503.25,265.81 503.50,265.82 503.75,265.85 504.00,265.88 504.25,265.92 504.50,265.96 504.75,266.00 505.00,266.05 505.25,266.10 505.50,266.14 505.75,266.18 506.00,266.22 506.25,266.25 506.50,266.28 506.75,266.29 507.00,266.30 507.25,266.30 507.50,266.30 507.75,266.30 508.00,266.30 508.25,266.30 508.50,266.30 508.75,266.30 509.00,266.30 509.25,266.30 509.50,266.30 509.75,266.30 510.00,266.30 510.25,266.30 510.50,266.30 510.75,266.30 511.00,266.30 511.25,266.30 511.50,266.30 511.75,266.30 512.00,266.30 512.25,266.30 512.50,266.30 512.75,266.30 513.00,266.30 513.25,266.30 513.50,266.30 513.75,266.30 514.00,266.30 514.25,266.30 514.50,266.30 514.75,266.30 515.00,266.30 515.25,266.30 515.50,266.30 515.75,266.30 516.00,266.30 516.25,266.30 516.50,266.30 516.75,266.30 517.00,266.30 517.25,266.30 517.50,266.30 517.75,266.30 518.00,266.30 518.25,266.30 518.50,266.30 518.75,266.30 519.00,266.30 519.25,266.30 519.50,266.30 519.75,266.30 520.00,266.30 520.25,266.30 520.50,266.30 520.75,266.30 521.00,266.30 521.25,266.30 521.50,266.30 521.75,266.30 522.00,266.30 522.25,266.30 522.50,266.30 522.75,266.30 523.00,266.30 523.25,266.30 523.50,266.30 523.75,266.30 524.00,266.30 524.25,266.30 524.50,266.30 524.75,266.30 525.00,266.30 525.25,266.30 525.50,266.30 525.75,266.30 526.00,266.30 526.25,266.30 526.50,266.30 526.75,266.30 527.00,266.30 527.25,266.30 527.50,266.30 527.75,266.30 528.00,266.30 528.25,266.30 528.50,266.30 528.75,266.30 529.00,266.30 529.25,266.30 529.50,266.30 529.75,266.30 530.00,266.30 530.25,266.30 530.50,266.30 530.75,266.30 531.00,266.30 531.25,266.30 531.50,266.30 531.75,266.30 532.00,266.30 532.25,266.30 532.50,266.30 532.75,266.30 533.00,266.30 533.25,266.30 533.50,266.30 533.75,266.30 534.00,266.30 534.25,266.30 534.50,266.30 534.75,266.30 535.00,266.30 535.25,266.30 535.50,266.30 535.75,266.30 536.00,266.30 536.25,266.30 536.50,266.30 536.75,266.30 537.00,266.30 537.25,266.30 537.50,266.30 537.75,266.30 538.00,266.30 538.25,266.30 538.50,266.30 538.75,266.30 539.00,266.30 539.25,266.30 539.50,266.30 539.75,266.30 540.00,266.30 540.25,266.30 540.50,266.30 540.75,266.30 541.00,266.30 541.25,266.30 541.50,266.30 541.75,266.30 542.00,266.30 542.25,266.30 542.50,266.30 542.75,266.30 543.00,266.30 543.25,266.30 543.50,266.30 543.75,266.30 544.00,266.30 544.25,266.30 544.50,266.30 544.75,266.30 545.00,266.30 545.25,266.30 545.50,266.30 545.75,266.30 546.00,266.30 546.25,266.30 546.50,266.30 546.75,266.30 547.00,266.30 547.25,266.30 547.50,266.30 547.75,266.30 548.00,266.30 548.25,266.30 548.50,266.30 548.75,266.30 549.00,266.30 549.25,266.30 549.50,266.30 549.75,266.30 550.00,266.30 550.25,266.30 550.50,266.30 550.75,266.30 551.00,266.30 551.25,266.30 551.50,266.30 551.75,266.30 552.00,266.30 552.25,266.30 552.50,266.30 552.75,266.30 553.00,266.30 553.25,266.30 553.50,266.30 553.75,266.30 554.00,266.30 554.25,266.30 554.50,266.30 554.75,266.30 555.00,266.30 555.25,266.30 555.50,266.30 555.75,266.30 556.00,266.30 556.25,266.30 556.50,266.30 556.75,266.30 557.00,266.30 557.25,266.30 557.50,266.30 557.75,266.30 558.00,266.30 558.25,266.30 558.50,266.30 558.75,266.30 559.00,266.30 559.25,266.30 559.50,266.30 559.75,266.30 560.00,266.30 560.25,266.30 560.50,266.30 560.75,266.30 561.00,266.30 561.25,266.30 561.50,266.30 561.75,266.30 562.00,266.30 562.25,266.30 562.50,266.30 562.75,266.30 563.00,266.30 563.25,266.30 563.50,266.30 563.75,266.30 564.00,266.30 564.25,266.30 564.50,266.30 564.75,266.30 565.00,266.30 565.25,266.30 565.50,266.30 565.75,266.30 566.00,266.30 566.25,266.30 566.50,266.30 566.75,266.30 567.00,266.30 567.25,266.30 567.50,266.30 567.75,266.30 568.00,266.30 568.25,266.30 568.50,266.30 568.75,266.30 569.00,266.30 569.25,266.30 569.50,266.30 569.75,266.30 570.00,266.30 570.25,266.30 570.50,266.30 570.75,266.30 571.00,266.30 571.25,266.29 571.50,266.29 571.75,266.29 572.00,266.29 572.25,266.29 572.50,266.29 572.75,266.29 573.00,266.29 573.25,266.29 573.50,266.29 573.75,266.29 574.00,266.29 574.25,266.29 574.50,266.29 574.75,266.29 575.00,266.29 575.25,266.29 575.50,266.29 575.75,266.29 576.00,266.29 576.25,266.29 576.50,266.29 576.75,266.29 577.00,266.29 577.25,266.29 577.50,266.29 577.75,266.29 578.00,266.29 578.25,266.28 578.50,266.28 578.75,266.28 579.00,266.28 579.25,266.28 579.50,266.28 579.75,266.28 580.00,266.28 580.25,266.28 580.50,266.28 580.75,266.28 581.00,266.28 581.25,266.28 581.50,266.28 581.75,266.28 582.00,266.28 582.25,266.28 582.50,266.28 582.75,266.27 583.00,266.27 583.25,266.27 583.50,266.27 583.75,266.27 584.00,266.27 584.25,266.27 584.50,266.27 584.75,266.27 585.00,266.27 585.25,266.27 585.50,266.27 585.75,266.27 586.00,266.26 586.25,266.26 586.50,266.26 586.75,266.26 587.00,266.26 587.25,266.26 587.50,266.26 587.75,266.26 588.00,266.26 588.25,266.26 588.50,266.26 588.75,266.26 589.00,266.25 589.25,266.25 589.50,266.25 589.75,266.25 590.00,266.25 590.25,266.25 590.50,266.25 590.75,266.25 591.00,266.25 591.25,266.25 591.50,266.24 591.75,266.24 592.00,266.24 592.25,266.24 592.50,266.24 592.75,266.24 593.00,266.24 593.25,266.24 593.50,266.24 593.75,266.23 594.00,266.23 594.25,266.23 594.50,266.23 594.75,266.23 595.00,266.23 595.25,266.23 595.50,266.23 595.75,266.22 596.00,266.22 596.25,266.22 596.50,266.22 596.75,266.22 597.00,266.22 597.25,266.22 597.50,266.21 597.75,266.21 598.00,266.21 598.25,266.21 598.50,266.21 598.75,266.21 599.00,266.21 599.25,266.20 599.50,266.20 599.75,266.20 600.00,266.20 600.25,266.20 600.50,266.19 600.75,266.17 601.00,266.16 601.25,266.14 601.50,266.11 601.75,266.08 602.00,266.05 602.25,266.02 602.50,265.98 602.75,265.95 603.00,265.91 603.25,265.87 603.50,265.83 603.75,265.79 604.00,265.74 604.25,265.70 604.50,265.66 604.75,265.62 605.00,265.58 605.25,265.54 605.50,265.51 605.75,265.47 606.00,265.44 606.25,265.41 606.50,265.38 606.75,265.36 607.00,265.34 607.25,265.32 607.50,265.31 607.75,265.30 608.00,265.30 608.25,265.30 608.50,265.31 608.75,265.33 609.00,265.35 609.25,265.38 609.50,265.41 609.75,265.45 610.00,265.49 610.25,265.53 610.50,265.58 610.75,265.63 611.00,265.68 611.25,265.73 611.50,265.78 611.75,265.84 612.00,265.89 612.25,265.94 612.50,265.99 612.75,266.04 613.00,266.08 613.25,266.13 613.50,266.16 613.75,266.20 614.00,266.23 614.25,266.26 614.50,266.28 614.75,266.29 615.00,266.30 615.25,266.30 615.50,266.31 615.75,266.31 616.00,266.32 616.25,266.32 616.50,266.33 616.75,266.33 617.00,266.33 617.25,266.34 617.50,266.34 617.75,266.35 618.00,266.35 618.25,266.35 618.50,266.36 618.75,266.36 619.00,266.37 619.25,266.37 619.50,266.37 619.75,266.38 620.00,266.38 620.25,266.38 620.50,266.39 620.75,266.39 621.00,266.39 621.25,266.40 621.50,266.40 621.75,266.40 622.00,266.41 622.25,266.41 622.50,266.41 622.75,266.41 623.00,266.42 623.25,266.42 623.50,266.42 623.75,266.43 624.00,266.43 624.25,266.43 624.50,266.43 624.75,266.44 625.00,266.44 625.25,266.44 625.50,266.44 625.75,266.44 626.00,266.45 626.25,266.45 626.50,266.45 626.75,266.45 627.00,266.45 627.25,266.46 627.50,266.46 627.75,266.46 628.00,266.46 628.25,266.46 628.50,266.47 628.75,266.47 629.00,266.47 629.25,266.47 629.50,266.47 629.75,266.47 630.00,266.47 630.25,266.48 630.50,266.48 630.75,266.48 631.00,266.48 631.25,266.48 631.50,266.48 631.75,266.48 632.00,266.48 632.25,266.49 632.50,266.49 632.75,266.49 633.00,266.49 633.25,266.49 633.50,266.49 633.75,266.49 634.00,266.49 634.25,266.49 634.50,266.49 634.75,266.49 635.00,266.49 635.25,266.50 635.50,266.50 635.75,266.50 636.00,266.50 636.25,266.50 636.50,266.50 636.75,266.50 637.00,266.50 637.25,266.50 637.50,266.50 637.75,266.50 638.00,266.50 638.25,266.50 638.50,266.50 638.75,266.50 639.00,266.50 639.25,266.50 639.50,266.50" fill="none" stroke="#1d8a86" stroke-width="1.8" stroke-linejoin="round"/>
<polyline points="84.00,380.20 84.25,380.20 84.50,380.20 84.75,380.20 85.00,380.20 85.25,380.21 85.50,380.21 85.75,380.21 86.00,380.21 86.25,380.21 86.50,380.21 86.75,380.21 87.00,380.21 87.25,380.21 87.50,380.21 87.75,380.22 88.00,380.22 88.25,380.22 88.50,380.22 88.75,380.22 89.00,380.22 89.25,380.22 89.50,380.22 89.75,380.22 90.00,380.23 90.25,380.23 90.50,380.23 90.75,380.23 91.00,380.23 91.25,380.23 91.50,380.23 91.75,380.23 92.00,380.23 92.25,380.23 92.50,380.24 92.75,380.24 93.00,380.24 93.25,380.24 93.50,380.24 93.75,380.24 94.00,380.24 94.25,380.24 94.50,380.24 94.75,380.24 95.00,380.25 95.25,380.25 95.50,380.25 95.75,380.25 96.00,380.25 96.25,380.25 96.50,380.25 96.75,380.25 97.00,380.25 97.25,380.25 97.50,380.25 97.75,380.26 98.00,380.26 98.25,380.26 98.50,380.26 98.75,380.26 99.00,380.26 99.25,380.26 99.50,380.26 99.75,380.26 100.00,380.26 100.25,380.26 100.50,380.26 100.75,380.27 101.00,380.27 101.25,380.27 101.50,380.27 101.75,380.27 102.00,380.27 102.25,380.27 102.50,380.27 102.75,380.27 103.00,380.27 103.25,380.27 103.50,380.27 103.75,380.27 104.00,380.28 104.25,380.28 104.50,380.28 104.75,380.28 105.00,380.28 105.25,380.28 105.50,380.28 105.75,380.28 106.00,380.28 106.25,380.28 106.50,380.28 106.75,380.28 107.00,380.28 107.25,380.28 107.50,380.28 107.75,380.28 108.00,380.29 108.25,380.29 108.50,380.29 108.75,380.29 109.00,380.29 109.25,380.29 109.50,380.29 109.75,380.29 110.00,380.29 110.25,380.29 110.50,380.29 110.75,380.29 111.00,380.29 111.25,380.29 111.50,380.29 111.75,380.29 112.00,380.29 112.25,380.29 112.50,380.29 112.75,380.29 113.00,380.29 113.25,380.30 113.50,380.30 113.75,380.30 114.00,380.30 114.25,380.30 114.50,380.30 114.75,380.30 115.00,380.30 115.25,380.30 115.50,380.30 115.75,380.30 116.00,380.30 116.25,380.30 116.50,380.30 116.75,380.30 117.00,380.30 117.25,380.30 117.50,380.30 117.75,380.30 118.00,380.30 118.25,380.30 118.50,380.30 118.75,380.30 119.00,380.30 119.25,380.30 119.50,380.30 119.75,380.30 120.00,380.30 120.25,380.30 120.50,380.30 120.75,380.30 121.00,380.30 121.25,380.30 121.50,380.30 121.75,380.30 122.00,380.30 122.25,380.30 122.50,380.30 122.75,380.30 123.00,380.30 123.25,380.30 123.50,380.30 123.75,380.30 124.00,380.30 124.25,380.30 124.50,380.30 124.75,380.30 125.00,380.30 125.25,380.30 125.50,380.30 125.75,380.30 126.00,380.30 126.25,380.30 126.50,380.30 126.75,380.30 127.00,380.30 127.25,380.30 127.50,380.30 127.75,380.30 128.00,380.30 128.25,380.30 128.50,380.30 128.75,380.30 129.00,380.30 129.25,380.30 129.50,380.30 129.75,380.30 130.00,380.30 130.25,380.30 130.50,380.30 130.75,380.30 131.00,380.30 131.25,380.30 131.50,380.30 131.75,380.30 132.00,380.30 132.25,380.30 132.50,380.30 132.75,380.30 133.00,380.30 133.25,380.30 133.50,380.30 133.75,380.30 134.00,380.30 134.25,380.30 134.50,380.30 134.75,380.30 135.00,380.30 135.25,380.30 135.50,380.30 135.75,380.30 136.00,380.30 136.25,380.30 136.50,380.30 136.75,380.30 137.00,380.30 137.25,380.30 137.50,380.30 137.75,380.30 138.00,380.30 138.25,380.30 138.50,380.30 138.75,380.30 139.00,380.30 139.25,380.30 139.50,380.30 139.75,380.30 140.00,380.30 140.25,380.30 140.50,380.30 140.75,380.30 141.00,380.30 141.25,380.30 141.50,380.30 141.75,380.30 142.00,380.30 142.25,380.30 142.50,380.30 142.75,380.30 143.00,380.30 143.25,380.30 143.50,380.30 143.75,380.30 144.00,380.30 144.25,380.30 144.50,380.30 144.75,380.30 145.00,380.30 145.25,380.30 145.50,380.30 145.75,380.30 146.00,380.30 146.25,380.30 146.50,380.30 146.75,380.30 147.00,380.30 147.25,380.30 147.50,380.30 147.75,380.30 148.00,380.30 148.25,380.30 148.50,380.30 148.75,380.30 149.00,380.30 149.25,380.30 149.50,380.30 149.75,380.30 150.00,380.30 150.25,380.30 150.50,380.30 150.75,380.29 151.00,380.29 151.25,380.28 151.50,380.27 151.75,380.26 152.00,380.25 152.25,380.23 152.50,380.22 152.75,380.20 153.00,380.18 153.25,380.16 153.50,380.14 153.75,380.12 154.00,380.10 154.25,380.07 154.50,380.05 154.75,380.02 155.00,379.99 155.25,379.96 155.50,379.93 155.75,379.90 156.00,379.87 156.25,379.84 156.50,379.80 156.75,379.77 157.00,379.73 157.25,379.70 157.50,379.66 157.75,379.62 158.00,379.58 158.25,379.54 158.50,379.50 158.75,379.46 159.00,379.42 159.25,379.37 159.50,379.32 159.75,379.26 160.00,379.20 160.25,379.12 160.50,379.04 160.75,378.95 161.00,378.86 161.25,378.76 161.50,378.65 161.75,378.54 162.00,378.42 162.25,378.30 162.50,378.17 162.75,378.04 163.00,377.90 163.25,377.76 163.50,377.62 163.75,377.47 164.00,377.32 164.25,377.16 164.50,377.00 164.75,376.84 165.00,376.68 165.25,376.51 165.50,376.35 165.75,376.18 166.00,376.01 166.25,375.83 166.50,375.66 166.75,375.49 167.00,375.33 167.25,375.15 167.50,374.98 167.75,374.80 168.00,374.61 168.25,374.40 168.50,374.19 168.75,373.96 169.00,373.71 169.25,373.44 169.50,373.15 169.75,372.84 170.00,372.50 170.25,372.13 170.50,371.73 170.75,371.29 171.00,370.77 171.25,370.04 171.50,369.12 171.75,368.02 172.00,366.74 172.25,365.31 172.50,363.73 172.75,362.01 173.00,360.16 173.25,358.19 173.50,355.66 173.75,352.48 174.00,348.78 174.25,344.69 174.50,340.34 174.75,335.87 175.00,331.40 175.25,326.74 175.50,321.68 175.75,316.35 176.00,310.88 176.25,305.39 176.50,299.60 176.75,293.13 177.00,286.72 177.25,281.12 177.50,277.10 177.75,274.19 178.00,271.60 178.25,269.56 178.50,268.32 178.75,267.93 179.00,267.76 179.25,267.65 179.50,267.55 179.75,267.37 180.00,266.91 180.25,265.17 180.50,262.87 180.75,261.09 181.00,260.28 181.25,259.60 181.50,259.07 181.75,258.76 182.00,258.84 182.25,260.31 182.50,263.15 182.75,267.05 183.00,271.70 183.25,281.35 183.50,295.28 183.75,305.92 184.00,313.23 184.25,319.49 184.50,325.08 184.75,330.35 185.00,335.66 185.25,341.00 185.50,346.11 185.75,350.70 186.00,354.50 186.25,357.28 186.50,359.56 186.75,361.70 187.00,363.69 187.25,365.51 187.50,367.16 187.75,368.65 188.00,369.95 188.25,371.08 188.50,372.01 188.75,372.75 189.00,373.31 189.25,373.81 189.50,374.29 189.75,374.76 190.00,375.20 190.25,375.62 190.50,376.02 190.75,376.40 191.00,376.75 191.25,377.09 191.50,377.40 191.75,377.70 192.00,377.96 192.25,378.21 192.50,378.44 192.75,378.64 193.00,378.82 193.25,378.98 193.50,379.11 193.75,379.22 194.00,379.31 194.25,379.37 194.50,379.42 194.75,379.45 195.00,379.49 195.25,379.52 195.50,379.55 195.75,379.59 196.00,379.62 196.25,379.64 196.50,379.67 196.75,379.70 197.00,379.72 197.25,379.74 197.50,379.77 197.75,379.79 198.00,379.80 198.25,379.82 198.50,379.84 198.75,379.85 199.00,379.86 199.25,379.87 199.50,379.88 199.75,379.89 200.00,379.89 200.25,379.90 200.50,379.90 200.75,379.90 201.00,379.90 201.25,379.88 201.50,379.87 201.75,379.84 202.00,379.81 202.25,379.78 202.50,379.74 202.75,379.70 203.00,379.65 203.25,379.59 203.50,379.54 203.75,379.48 204.00,379.41 204.25,379.35 204.50,379.28 204.75,379.20 205.00,379.13 205.25,379.05 205.50,378.94 205.75,378.80 206.00,378.64 206.25,378.46 206.50,378.26 206.75,378.04 207.00,377.81 207.25,377.56 207.50,377.30 207.75,377.04 208.00,376.77 208.25,376.50 208.50,376.23 208.75,375.96 209.00,375.70 209.25,375.44 209.50,375.16 209.75,374.88 210.00,374.59 210.25,374.29 210.50,373.98 210.75,373.66 211.00,373.33 211.25,373.00 211.50,372.65 211.75,372.30 212.00,371.95 212.25,371.57 212.50,371.17 212.75,370.74 213.00,370.29 213.25,369.82 213.50,369.35 213.75,368.87 214.00,368.40 214.25,367.94 214.50,367.50 214.75,367.08 215.00,366.69 215.25,366.33 215.50,366.00 215.75,365.69 216.00,365.40 216.25,365.12 216.50,364.85 216.75,364.58 217.00,364.32 217.25,364.06 217.50,363.80 217.75,363.53 218.00,363.25 218.25,362.96 218.50,362.67 218.75,362.41 219.00,362.15 219.25,361.89 219.50,361.60 219.75,361.27 220.00,360.87 220.25,360.39 220.50,359.62 220.75,358.56 221.00,357.33 221.25,356.04 221.50,354.83 221.75,353.81 222.00,352.77 222.25,351.66 222.50,350.60 222.75,349.68 223.00,349.02 223.25,348.71 223.50,348.89 223.75,349.61 224.00,350.72 224.25,352.11 224.50,353.65 224.75,355.20 225.00,356.88 225.25,359.01 225.50,361.34 225.75,363.63 226.00,365.60 226.25,367.37 226.50,369.14 226.75,370.84 227.00,372.38 227.25,373.67 227.50,374.63 227.75,375.25 228.00,375.79 228.25,376.28 228.50,376.74 228.75,377.15 229.00,377.53 229.25,377.86 229.50,378.16 229.75,378.42 230.00,378.65 230.25,378.84 230.50,379.00 230.75,379.12 231.00,379.23 231.25,379.34 231.50,379.45 231.75,379.55 232.00,379.64 232.25,379.73 232.50,379.81 232.75,379.89 233.00,379.96 233.25,380.03 233.50,380.09 233.75,380.14 234.00,380.19 234.25,380.23 234.50,380.26 234.75,380.28 235.00,380.29 235.25,380.30 235.50,380.30 235.75,380.30 236.00,380.30 236.25,380.30 236.50,380.30 236.75,380.30 237.00,380.30 237.25,380.30 237.50,380.30 237.75,380.30 238.00,380.30 238.25,380.30 238.50,380.30 238.75,380.30 239.00,380.30 239.25,380.30 239.50,380.30 239.75,380.30 240.00,380.30 240.25,380.30 240.50,380.30 240.75,380.30 241.00,380.30 241.25,380.30 241.50,380.30 241.75,380.30 242.00,380.30 242.25,380.30 242.50,380.30 242.75,380.30 243.00,380.30 243.25,380.30 243.50,380.30 243.75,380.30 244.00,380.30 244.25,380.30 244.50,380.30 244.75,380.30 245.00,380.30 245.25,380.30 245.50,380.30 245.75,380.30 246.00,380.30 246.25,380.30 246.50,380.30 246.75,380.30 247.00,380.30 247.25,380.30 247.50,380.30 247.75,380.30 248.00,380.30 248.25,380.30 248.50,380.30 248.75,380.30 249.00,380.30 249.25,380.30 249.50,380.30 249.75,380.30 250.00,380.30 250.25,380.30 250.50,380.30 250.75,380.30 251.00,380.30 251.25,380.30 251.50,380.30 251.75,380.30 252.00,380.30 252.25,380.30 252.50,380.30 252.75,380.30 253.00,380.30 253.25,380.30 253.50,380.30 253.75,380.30 254.00,380.30 254.25,380.30 254.50,380.30 254.75,380.30 255.00,380.30 255.25,380.30 255.50,380.30 255.75,380.30 256.00,380.30 256.25,380.30 256.50,380.30 256.75,380.30 257.00,380.30 257.25,380.30 257.50,380.30 257.75,380.30 258.00,380.30 258.25,380.30 258.50,380.30 258.75,380.30 259.00,380.30 259.25,380.30 259.50,380.30 259.75,380.30 260.00,380.30 260.25,380.30 260.50,380.30 260.75,380.30 261.00,380.30 261.25,380.30 261.50,380.30 261.75,380.30 262.00,380.30 262.25,380.30 262.50,380.30 262.75,380.30 263.00,380.30 263.25,380.30 263.50,380.30 263.75,380.30 264.00,380.30 264.25,380.30 264.50,380.30 264.75,380.30 265.00,380.30 265.25,380.30 265.50,380.30 265.75,380.30 266.00,380.30 266.25,380.30 266.50,380.30 266.75,380.30 267.00,380.30 267.25,380.30 267.50,380.30 267.75,380.30 268.00,380.30 268.25,380.30 268.50,380.30 268.75,380.30 269.00,380.30 269.25,380.30 269.50,380.30 269.75,380.30 270.00,380.30 270.25,380.30 270.50,380.30 270.75,380.30 271.00,380.30 271.25,380.30 271.50,380.30 271.75,380.30 272.00,380.30 272.25,380.30 272.50,380.30 272.75,380.30 273.00,380.30 273.25,380.30 273.50,380.30 273.75,380.30 274.00,380.30 274.25,380.30 274.50,380.30 274.75,380.30 275.00,380.30 275.25,380.30 275.50,380.29 275.75,380.27 276.00,380.25 276.25,380.22 276.50,380.19 276.75,380.16 277.00,380.12 277.25,380.09 277.50,380.05 277.75,380.01 278.00,379.98 278.25,379.94 278.50,379.91 278.75,379.88 279.00,379.85 279.25,379.83 279.50,379.81 279.75,379.80 280.00,379.80 280.25,379.80 280.50,379.81 280.75,379.83 281.00,379.85 281.25,379.87 281.50,379.90 281.75,379.93 282.00,379.96 282.25,380.00 282.50,380.04 282.75,380.07 283.00,380.11 283.25,380.14 283.50,380.18 283.75,380.21 284.00,380.23 284.25,380.26 284.50,380.28 284.75,380.29 285.00,380.30 285.25,380.31 285.50,380.31 285.75,380.32 286.00,380.32 286.25,380.33 286.50,380.33 286.75,380.34 287.00,380.34 287.25,380.35 287.50,380.36 287.75,380.36 288.00,380.37 288.25,380.37 288.50,380.38 288.75,380.38 289.00,380.39 289.25,380.39 289.50,380.40 289.75,380.40 290.00,380.41 290.25,380.41 290.50,380.42 290.75,380.42 291.00,380.42 291.25,380.43 291.50,380.43 291.75,380.44 292.00,380.44 292.25,380.45 292.50,380.45 292.75,380.46 293.00,380.46 293.25,380.46 293.50,380.47 293.75,380.47 294.00,380.48 294.25,380.48 294.50,380.48 294.75,380.49 295.00,380.49 295.25,380.50 295.50,380.50 295.75,380.50 296.00,380.51 296.25,380.51 296.50,380.51 296.75,380.52 297.00,380.52 297.25,380.53 297.50,380.53 297.75,380.53 298.00,380.54 298.25,380.54 298.50,380.54 298.75,380.55 299.00,380.55 299.25,380.55 299.50,380.56 299.75,380.56 300.00,380.56 300.25,380.56 300.50,380.57 300.75,380.57 301.00,380.57 301.25,380.58 301.50,380.58 301.75,380.58 302.00,380.59 302.25,380.59 302.50,380.59 302.75,380.59 303.00,380.60 303.25,380.60 303.50,380.60 303.75,380.60 304.00,380.61 304.25,380.61 304.50,380.61 304.75,380.61 305.00,380.62 305.25,380.62 305.50,380.62 305.75,380.62 306.00,380.62 306.25,380.63 306.50,380.63 306.75,380.63 307.00,380.63 307.25,380.63 307.50,380.64 307.75,380.64 308.00,380.64 308.25,380.64 308.50,380.64 308.75,380.65 309.00,380.65 309.25,380.65 309.50,380.65 309.75,380.65 310.00,380.65 310.25,380.66 310.50,380.66 310.75,380.66 311.00,380.66 311.25,380.66 311.50,380.66 311.75,380.67 312.00,380.67 312.25,380.67 312.50,380.67 312.75,380.67 313.00,380.67 313.25,380.67 313.50,380.67 313.75,380.68 314.00,380.68 314.25,380.68 314.50,380.68 314.75,380.68 315.00,380.68 315.25,380.68 315.50,380.68 315.75,380.68 316.00,380.68 316.25,380.69 316.50,380.69 316.75,380.69 317.00,380.69 317.25,380.69 317.50,380.69 317.75,380.69 318.00,380.69 318.25,380.69 318.50,380.69 318.75,380.69 319.00,380.69 319.25,380.69 319.50,380.69 319.75,380.69 320.00,380.70 320.25,380.70 320.50,380.70 320.75,380.70 321.00,380.70 321.25,380.70 321.50,380.70 321.75,380.70 322.00,380.70 322.25,380.70 322.50,380.70 322.75,380.70 323.00,380.70 323.25,380.70 323.50,380.70 323.75,380.70 324.00,380.70 324.25,380.70 324.50,380.70 324.75,380.70 325.00,380.70 325.25,380.70 325.50,380.70 325.75,380.69 326.00,380.69 326.25,380.68 326.50,380.67 326.75,380.67 327.00,380.66 327.25,380.64 327.50,380.63 327.75,380.62 328.00,380.60 328.25,380.58 328.50,380.56 328.75,380.54 329.00,380.52 329.25,380.50 329.50,380.47 329.75,380.45 330.00,380.42 330.25,380.39 330.50,380.36 330.75,380.33 331.00,380.30 331.25,380.27 331.50,380.23 331.75,380.19 332.00,380.16 332.25,380.12 332.50,380.08 332.75,380.03 333.00,379.99 333.25,379.95 333.50,379.90 333.75,379.84 334.00,379.74 334.25,379.62 334.50,379.48 334.75,379.31 335.00,379.12 335.25,378.91 335.50,378.69 335.75,378.46 336.00,378.22 336.25,377.97 336.50,377.71 336.75,377.46 337.00,377.20 337.25,376.95 337.50,376.70 337.75,376.45 338.00,376.19 338.25,375.92 338.50,375.64 338.75,375.35 339.00,375.05 339.25,374.74 339.50,374.40 339.75,374.06 340.00,373.69 340.25,373.31 340.50,372.90 340.75,372.45 341.00,371.95 341.25,371.39 341.50,370.80 341.75,370.18 342.00,369.54 342.25,368.90 342.50,368.25 342.75,367.62 343.00,366.98 343.25,366.29 343.50,365.55 343.75,364.80 344.00,364.05 344.25,363.34 344.50,362.67 344.75,362.09 345.00,361.60 345.25,361.24 345.50,360.94 345.75,360.68 346.00,360.46 346.25,360.25 346.50,360.06 346.75,359.87 347.00,359.69 347.25,359.50 347.50,359.30 347.75,359.10 348.00,358.90 348.25,358.72 348.50,358.54 348.75,358.35 349.00,358.15 349.25,357.94 349.50,357.71 349.75,357.45 350.00,357.13 350.25,356.67 350.50,356.14 350.75,355.59 351.00,355.10 351.25,354.73 351.50,354.52 351.75,354.55 352.00,354.85 352.25,355.36 352.50,356.06 352.75,356.90 353.00,357.82 353.25,358.80 353.50,360.03 353.75,361.83 354.00,363.89 354.25,365.88 354.50,367.50 354.75,368.78 355.00,369.99 355.25,371.09 355.50,372.09 355.75,372.96 356.00,373.70 356.25,374.35 356.50,374.97 356.75,375.55 357.00,376.09 357.25,376.59 357.50,377.03 357.75,377.41 358.00,377.72 358.25,377.96 358.50,378.15 358.75,378.33 359.00,378.50 359.25,378.66 359.50,378.81 359.75,378.96 360.00,379.10 360.25,379.24 360.50,379.36 360.75,379.48 361.00,379.59 361.25,379.70 361.50,379.79 361.75,379.88 362.00,379.96 362.25,380.03 362.50,380.10 362.75,380.15 363.00,380.20 363.25,380.24 363.50,380.27 363.75,380.30 364.00,380.31 364.25,380.33 364.50,380.35 364.75,380.37 365.00,380.38 365.25,380.40 365.50,380.41 365.75,380.43 366.00,380.44 366.25,380.46 366.50,380.47 366.75,380.49 367.00,380.50 367.25,380.51 367.50,380.52 367.75,380.53 368.00,380.55 368.25,380.56 368.50,380.57 368.75,380.58 369.00,380.59 369.25,380.60 369.50,380.61 369.75,380.61 370.00,380.62 370.25,380.63 370.50,380.64 370.75,380.64 371.00,380.65 371.25,380.66 371.50,380.66 371.75,380.67 372.00,380.67 372.25,380.68 372.50,380.68 372.75,380.68 373.00,380.69 373.25,380.69 373.50,380.69 373.75,380.70 374.00,380.70 374.25,380.70 374.50,380.70 374.75,380.70 375.00,380.70 375.25,380.70 375.50,380.70 375.75,380.70 376.00,380.70 376.25,380.69 376.50,380.69 376.75,380.69 377.00,380.69 377.25,380.68 377.50,380.68 377.75,380.67 378.00,380.67 378.25,380.66 378.50,380.66 378.75,380.65 379.00,380.65 379.25,380.64 379.50,380.63 379.75,380.62 380.00,380.62 380.25,380.61 380.50,380.60 380.75,380.59 381.00,380.58 381.25,380.57 381.50,380.56 381.75,380.55 382.00,380.54 382.25,380.53 382.50,380.52 382.75,380.51 383.00,380.50 383.25,380.48 383.50,380.46 383.75,380.43 384.00,380.39 384.25,380.34 384.50,380.29 384.75,380.24 385.00,380.18 385.25,380.12 385.50,380.06 385.75,379.99 386.00,379.93 386.25,379.87 386.50,379.81 386.75,379.75 387.00,379.70 387.25,379.65 387.50,379.61 387.75,379.57 388.00,379.54 388.25,379.52 388.50,379.50 388.75,379.50 389.00,379.51 389.25,379.52 389.50,379.54 389.75,379.57 390.00,379.60 390.25,379.64 390.50,379.68 390.75,379.72 391.00,379.77 391.25,379.82 391.50,379.88 391.75,379.93 392.00,379.98 392.25,380.04 392.50,380.09 392.75,380.14 393.00,380.19 393.25,380.23 393.50,380.27 393.75,380.31 394.00,380.34 394.25,380.36 394.50,380.38 394.75,380.40 395.00,380.40 395.25,380.40 395.50,380.40 395.75,380.40 396.00,380.39 396.25,380.39 396.50,380.39 396.75,380.38 397.00,380.38 397.25,380.37 397.50,380.37 397.75,380.36 398.00,380.35 398.25,380.35 398.50,380.34 398.75,380.33 399.00,380.32 399.25,380.31 399.50,380.30 399.75,380.28 400.00,380.27 400.25,380.26 400.50,380.24 400.75,380.23 401.00,380.21 401.25,380.20 401.50,380.18 401.75,380.16 402.00,380.14 402.25,380.12 402.50,380.10 402.75,380.08 403.00,380.06 403.25,380.04 403.50,380.02 403.75,379.99 404.00,379.96 404.25,379.90 404.50,379.82 404.75,379.72 405.00,379.60 405.25,379.47 405.50,379.33 405.75,379.17 406.00,379.01 406.25,378.83 406.50,378.65 406.75,378.47 407.00,378.28 407.25,378.08 407.50,377.89 407.75,377.69 408.00,377.50 408.25,377.30 408.50,377.08 408.75,376.85 409.00,376.61 409.25,376.35 409.50,376.08 409.75,375.80 410.00,375.51 410.25,375.22 410.50,374.92 410.75,374.62 411.00,374.31 411.25,374.00 411.50,373.69 411.75,373.38 412.00,373.08 412.25,372.78 412.50,372.48 412.75,372.17 413.00,371.85 413.25,371.51 413.50,371.17 413.75,370.82 414.00,370.46 414.25,370.11 414.50,369.76 414.75,369.41 415.00,369.07 415.25,368.74 415.50,368.43 415.75,368.13 416.00,367.85 416.25,367.60 416.50,367.37 416.75,367.16 417.00,366.96 417.25,366.77 417.50,366.58 417.75,366.40 418.00,366.23 418.25,366.07 418.50,365.93 418.75,365.81 419.00,365.71 419.25,365.63 419.50,365.58 419.75,365.54 420.00,365.51 420.25,365.49 420.50,365.46 420.75,365.45 421.00,365.43 421.25,365.42 421.50,365.40 421.75,365.39 422.00,365.37 422.25,365.34 422.50,365.32 422.75,365.28 423.00,365.24 423.25,365.19 423.50,365.05 423.75,364.81 424.00,364.50 424.25,364.17 424.50,363.84 424.75,363.55 425.00,363.31 425.25,363.08 425.50,362.84 425.75,362.60 426.00,362.36 426.25,362.14 426.50,361.95 426.75,361.79 427.00,361.68 427.25,361.61 427.50,361.62 427.75,361.80 428.00,362.17 428.25,362.67 428.50,363.28 428.75,363.97 429.00,364.69 429.25,365.41 429.50,366.10 429.75,366.84 430.00,367.72 430.25,368.67 430.50,369.65 430.75,370.61 431.00,371.49 431.25,372.24 431.50,372.82 431.75,373.37 432.00,373.92 432.25,374.46 432.50,374.97 432.75,375.47 433.00,375.92 433.25,376.34 433.50,376.70 433.75,377.01 434.00,377.25 434.25,377.41 434.50,377.49 434.75,377.50 435.00,377.50 435.25,377.49 435.50,377.48 435.75,377.47 436.00,377.45 436.25,377.43 436.50,377.41 436.75,377.39 437.00,377.37 437.25,377.34 437.50,377.31 437.75,377.28 438.00,377.25 438.25,377.22 438.50,377.18 438.75,377.12 439.00,377.03 439.25,376.91 439.50,376.77 439.75,376.62 440.00,376.45 440.25,376.28 440.50,376.10 440.75,375.92 441.00,375.75 441.25,375.58 441.50,375.43 441.75,375.29 442.00,375.18 442.25,375.09 442.50,375.03 442.75,375.00 443.00,375.01 443.25,375.07 443.50,375.16 443.75,375.28 444.00,375.43 444.25,375.59 444.50,375.76 444.75,375.94 445.00,376.11 445.25,376.28 445.50,376.43 445.75,376.57 446.00,376.68 446.25,376.76 446.50,376.80 446.75,376.79 447.00,376.73 447.25,376.63 447.50,376.49 447.75,376.32 448.00,376.12 448.25,375.92 448.50,375.70 448.75,375.48 449.00,375.28 449.25,375.08 449.50,374.91 449.75,374.77 450.00,374.67 450.25,374.61 450.50,374.61 450.75,374.72 451.00,374.95 451.25,375.25 451.50,375.62 451.75,376.04 452.00,376.47 452.25,376.91 452.50,377.32 452.75,377.69 453.00,378.00 453.25,378.24 453.50,378.48 453.75,378.72 454.00,378.96 454.25,379.19 454.50,379.41 454.75,379.62 455.00,379.82 455.25,379.99 455.50,380.14 455.75,380.25 456.00,380.34 456.25,380.39 456.50,380.42 456.75,380.44 457.00,380.47 457.25,380.49 457.50,380.51 457.75,380.53 458.00,380.55 458.25,380.57 458.50,380.59 458.75,380.60 459.00,380.62 459.25,380.64 459.50,380.65 459.75,380.66 460.00,380.68 460.25,380.69 460.50,380.70 460.75,380.71 461.00,380.72 461.25,380.73 461.50,380.74 461.75,380.75 462.00,380.76 462.25,380.76 462.50,380.77 462.75,380.78 463.00,380.78 463.25,380.79 463.50,380.79 463.75,380.79 464.00,380.80 464.25,380.80 464.50,380.80 464.75,380.80 465.00,380.80 465.25,380.80 465.50,380.80 465.75,380.80 466.00,380.80 466.25,380.80 466.50,380.80 466.75,380.80 467.00,380.80 467.25,380.80 467.50,380.80 467.75,380.80 468.00,380.80 468.25,380.80 468.50,380.80 468.75,380.79 469.00,380.79 469.25,380.79 469.50,380.79 469.75,380.79 470.00,380.79 470.25,380.79 470.50,380.79 470.75,380.79 471.00,380.79 471.25,380.79 471.50,380.78 471.75,380.78 472.00,380.78 472.25,380.78 472.50,380.78 472.75,380.78 473.00,380.78 473.25,380.78 473.50,380.77 473.75,380.77 474.00,380.77 474.25,380.77 474.50,380.77 474.75,380.77 475.00,380.77 475.25,380.76 475.50,380.76 475.75,380.76 476.00,380.76 476.25,380.76 476.50,380.76 476.75,380.75 477.00,380.75 477.25,380.75 477.50,380.75 477.75,380.75 478.00,380.75 478.25,380.74 478.50,380.74 478.75,380.74 479.00,380.74 479.25,380.74 479.50,380.74 479.75,380.73 480.00,380.73 480.25,380.73 480.50,380.73 480.75,380.73 481.00,380.72 481.25,380.72 481.50,380.72 481.75,380.72 482.00,380.72 482.25,380.71 482.50,380.71 482.75,380.71 483.00,380.71 483.25,380.71 483.50,380.70 483.75,380.70 484.00,380.70 484.25,380.70 484.50,380.70 484.75,380.69 485.00,380.69 485.25,380.69 485.50,380.69 485.75,380.69 486.00,380.68 486.25,380.68 486.50,380.68 486.75,380.68 487.00,380.68 487.25,380.67 487.50,380.67 487.75,380.67 488.00,380.67 488.25,380.67 488.50,380.66 488.75,380.66 489.00,380.66 489.25,380.66 489.50,380.66 489.75,380.66 490.00,380.65 490.25,380.65 490.50,380.65 490.75,380.65 491.00,380.65 491.25,380.64 491.50,380.64 491.75,380.64 492.00,380.64 492.25,380.64 492.50,380.64 492.75,380.63 493.00,380.63 493.25,380.63 493.50,380.63 493.75,380.63 494.00,380.63 494.25,380.63 494.50,380.62 494.75,380.62 495.00,380.62 495.25,380.62 495.50,380.62 495.75,380.62 496.00,380.62 496.25,380.61 496.50,380.61 496.75,380.61 497.00,380.61 497.25,380.61 497.50,380.61 497.75,380.61 498.00,380.61 498.25,380.61 498.50,380.60 498.75,380.60 499.00,380.60 499.25,380.60 499.50,380.60 499.75,380.60 500.00,380.60 500.25,380.60 500.50,380.60 500.75,380.60 501.00,380.60 501.25,380.60 501.50,380.60 501.75,380.60 502.00,380.59 502.25,380.59 502.50,380.59 502.75,380.59 503.00,380.59 503.25,380.59 503.50,380.59 503.75,380.59 504.00,380.59 504.25,380.59 504.50,380.59 504.75,380.59 505.00,380.59 505.25,380.59 505.50,380.59 505.75,380.59 506.00,380.59 506.25,380.59 506.50,380.58 506.75,380.58 507.00,380.58 507.25,380.58 507.50,380.58 507.75,380.58 508.00,380.58 508.25,380.58 508.50,380.58 508.75,380.58 509.00,380.58 509.25,380.58 509.50,380.58 509.75,380.58 510.00,380.58 510.25,380.58 510.50,380.58 510.75,380.58 511.00,380.58 511.25,380.58 511.50,380.58 511.75,380.58 512.00,380.58 512.25,380.58 512.50,380.57 512.75,380.57 513.00,380.57 513.25,380.57 513.50,380.57 513.75,380.57 514.00,380.57 514.25,380.57 514.50,380.57 514.75,380.57 515.00,380.57 515.25,380.57 515.50,380.57 515.75,380.57 516.00,380.57 516.25,380.57 516.50,380.57 516.75,380.57 517.00,380.57 517.25,380.57 517.50,380.57 517.75,380.57 518.00,380.57 518.25,380.57 518.50,380.57 518.75,380.57 519.00,380.57 519.25,380.57 519.50,380.57 519.75,380.57 520.00,380.57 520.25,380.57 520.50,380.56 520.75,380.56 521.00,380.56 521.25,380.56 521.50,380.56 521.75,380.56 522.00,380.56 522.25,380.56 522.50,380.56 522.75,380.56 523.00,380.56 523.25,380.56 523.50,380.56 523.75,380.56 524.00,380.56 524.25,380.56 524.50,380.56 524.75,380.56 525.00,380.56 525.25,380.56 525.50,380.56 525.75,380.56 526.00,380.56 526.25,380.56 526.50,380.56 526.75,380.56 527.00,380.56 527.25,380.56 527.50,380.56 527.75,380.56 528.00,380.56 528.25,380.56 528.50,380.56 528.75,380.56 529.00,380.56 529.25,380.56 529.50,380.56 529.75,380.56 530.00,380.56 530.25,380.56 530.50,380.56 530.75,380.55 531.00,380.55 531.25,380.55 531.50,380.55 531.75,380.55 532.00,380.55 532.25,380.55 532.50,380.55 532.75,380.55 533.00,380.55 533.25,380.55 533.50,380.55 533.75,380.55 534.00,380.55 534.25,380.55 534.50,380.55 534.75,380.55 535.00,380.55 535.25,380.55 535.50,380.55 535.75,380.55 536.00,380.55 536.25,380.55 536.50,380.55 536.75,380.55 537.00,380.55 537.25,380.55 537.50,380.55 537.75,380.55 538.00,380.55 538.25,380.55 538.50,380.55 538.75,380.55 539.00,380.55 539.25,380.55 539.50,380.55 539.75,380.54 540.00,380.54 540.25,380.54 540.50,380.54 540.75,380.54 541.00,380.54 541.25,380.54 541.50,380.54 541.75,380.54 542.00,380.54 542.25,380.54 542.50,380.54 542.75,380.54 543.00,380.54 543.25,380.54 543.50,380.54 543.75,380.54 544.00,380.54 544.25,380.54 544.50,380.54 544.75,380.54 545.00,380.54 545.25,380.54 545.50,380.54 545.75,380.54 546.00,380.54 546.25,380.54 546.50,380.53 546.75,380.53 547.00,380.53 547.25,380.53 547.50,380.53 547.75,380.53 548.00,380.53 548.25,380.53 548.50,380.53 548.75,380.53 549.00,380.53 549.25,380.53 549.50,380.53 549.75,380.53 550.00,380.53 550.25,380.53 550.50,380.53 550.75,380.53 551.00,380.53 551.25,380.52 551.50,380.52 551.75,380.52 552.00,380.52 552.25,380.52 552.50,380.52 552.75,380.52 553.00,380.52 553.25,380.52 553.50,380.52 553.75,380.52 554.00,380.52 554.25,380.52 554.50,380.52 554.75,380.52 555.00,380.52 555.25,380.51 555.50,380.51 555.75,380.51 556.00,380.51 556.25,380.51 556.50,380.51 556.75,380.51 557.00,380.51 557.25,380.51 557.50,380.51 557.75,380.51 558.00,380.51 558.25,380.51 558.50,380.51 558.75,380.50 559.00,380.50 559.25,380.50 559.50,380.50 559.75,380.50 560.00,380.50 560.25,380.50 560.50,380.50 560.75,380.50 561.00,380.50 561.25,380.50 561.50,380.49 561.75,380.49 562.00,380.49 562.25,380.49 562.50,380.49 562.75,380.49 563.00,380.49 563.25,380.48 563.50,380.48 563.75,380.48 564.00,380.48 564.25,380.48 564.50,380.48 564.75,380.47 565.00,380.47 565.25,380.47 565.50,380.47 565.75,380.47 566.00,380.46 566.25,380.46 566.50,380.46 566.75,380.46 567.00,380.45 567.25,380.45 567.50,380.45 567.75,380.45 568.00,380.44 568.25,380.44 568.50,380.44 568.75,380.43 569.00,380.43 569.25,380.43 569.50,380.42 569.75,380.42 570.00,380.42 570.25,380.41 570.50,380.41 570.75,380.41 571.00,380.40 571.25,380.40 571.50,380.40 571.75,380.39 572.00,380.39 572.25,380.38 572.50,380.38 572.75,380.37 573.00,380.37 573.25,380.36 573.50,380.36 573.75,380.36 574.00,380.35 574.25,380.35 574.50,380.34 574.75,380.33 575.00,380.33 575.25,380.32 575.50,380.32 575.75,380.31 576.00,380.31 576.25,380.30 576.50,380.30 576.75,380.29 577.00,380.28 577.25,380.28 577.50,380.27 577.75,380.26 578.00,380.26 578.25,380.25 578.50,380.24 578.75,380.24 579.00,380.23 579.25,380.22 579.50,380.22 579.75,380.21 580.00,380.20 580.25,380.19 580.50,380.17 580.75,380.15 581.00,380.12 581.25,380.09 581.50,380.06 581.75,380.02 582.00,379.97 582.25,379.93 582.50,379.88 582.75,379.82 583.00,379.77 583.25,379.71 583.50,379.65 583.75,379.59 584.00,379.52 584.25,379.46 584.50,379.39 584.75,379.33 585.00,379.26 585.25,379.20 585.50,379.13 585.75,379.07 586.00,379.00 586.25,378.94 586.50,378.88 586.75,378.83 587.00,378.77 587.25,378.72 587.50,378.67 587.75,378.62 588.00,378.58 588.25,378.54 588.50,378.50 588.75,378.47 589.00,378.45 589.25,378.43 589.50,378.41 589.75,378.40 590.00,378.40 590.25,378.40 590.50,378.41 590.75,378.43 591.00,378.45 591.25,378.48 591.50,378.51 591.75,378.55 592.00,378.59 592.25,378.64 592.50,378.69 592.75,378.75 593.00,378.80 593.25,378.86 593.50,378.93 593.75,378.99 594.00,379.06 594.25,379.13 594.50,379.19 594.75,379.26 595.00,379.33 595.25,379.41 595.50,379.48 595.75,379.55 596.00,379.61 596.25,379.68 596.50,379.75 596.75,379.81 597.00,379.87 597.25,379.93 597.50,379.99 597.75,380.04 598.00,380.09 598.25,380.13 598.50,380.17 598.75,380.21 599.00,380.24 599.25,380.26 599.50,380.28 599.75,380.29 600.00,380.30 600.25,380.30 600.50,380.31 600.75,380.31 601.00,380.31 601.25,380.31 601.50,380.32 601.75,380.32 602.00,380.32 602.25,380.33 602.50,380.33 602.75,380.33 603.00,380.33 603.25,380.34 603.50,380.34 603.75,380.34 604.00,380.35 604.25,380.35 604.50,380.35 604.75,380.35 605.00,380.36 605.25,380.36 605.50,380.36 605.75,380.36 606.00,380.36 606.25,380.37 606.50,380.37 606.75,380.37 607.00,380.37 607.25,380.38 607.50,380.38 607.75,380.38 608.00,380.38 608.25,380.39 608.50,380.39 608.75,380.39 609.00,380.39 609.25,380.39 609.50,380.40 609.75,380.40 610.00,380.40 610.25,380.40 610.50,380.40 610.75,380.41 611.00,380.41 611.25,380.41 611.50,380.41 611.75,380.41 612.00,380.41 612.25,380.42 612.50,380.42 612.75,380.42 613.00,380.42 613.25,380.42 613.50,380.43 613.75,380.43 614.00,380.43 614.25,380.43 614.50,380.43 614.75,380.43 615.00,380.43 615.25,380.44 615.50,380.44 615.75,380.44 616.00,380.44 616.25,380.44 616.50,380.44 616.75,380.44 617.00,380.45 617.25,380.45 617.50,380.45 617.75,380.45 618.00,380.45 618.25,380.45 618.50,380.45 618.75,380.46 619.00,380.46 619.25,380.46 619.50,380.46 619.75,380.46 620.00,380.46 620.25,380.46 620.50,380.46 620.75,380.46 621.00,380.47 621.25,380.47 621.50,380.47 621.75,380.47 622.00,380.47 622.25,380.47 622.50,380.47 622.75,380.47 623.00,380.47 623.25,380.47 623.50,380.47 623.75,380.48 624.00,380.48 624.25,380.48 624.50,380.48 624.75,380.48 625.00,380.48 625.25,380.48 625.50,380.48 625.75,380.48 626.00,380.48 626.25,380.48 626.50,380.48 626.75,380.48 627.00,380.49 627.25,380.49 627.50,380.49 627.75,380.49 628.00,380.49 628.25,380.49 628.50,380.49 628.75,380.49 629.00,380.49 629.25,380.49 629.50,380.49 629.75,380.49 630.00,380.49 630.25,380.49 630.50,380.49 630.75,380.49 631.00,380.49 631.25,380.49 631.50,380.49 631.75,380.49 632.00,380.50 632.25,380.50 632.50,380.50 632.75,380.50 633.00,380.50 633.25,380.50 633.50,380.50 633.75,380.50 634.00,380.50 634.25,380.50 634.50,380.50 634.75,380.50 635.00,380.50 635.25,380.50 635.50,380.50 635.75,380.50 636.00,380.50 636.25,380.50 636.50,380.50 636.75,380.50 637.00,380.50 637.25,380.50 637.50,380.50 637.75,380.50 638.00,380.50 638.25,380.50 638.50,380.50 638.75,380.50 639.00,380.50 639.25,380.50 639.50,380.50" fill="none" stroke="#1d8a86" stroke-width="1.8" stroke-linejoin="round"/>
<polyline points="84.00,494.90 84.25,494.90 84.50,494.90 84.75,494.90 85.00,494.90 85.25,494.90 85.50,494.90 85.75,494.90 86.00,494.90 86.25,494.90 86.50,494.90 86.75,494.90 87.00,494.90 87.25,494.90 87.50,494.90 87.75,494.90 88.00,494.90 88.25,494.90 88.50,494.90 88.75,494.90 89.00,494.90 89.25,494.90 89.50,494.90 89.75,494.90 90.00,494.90 90.25,494.90 90.50,494.90 90.75,494.90 91.00,494.90 91.25,494.90 91.50,494.90 91.75,494.90 92.00,494.90 92.25,494.90 92.50,494.90 92.75,494.90 93.00,494.90 93.25,494.90 93.50,494.90 93.75,494.90 94.00,494.90 94.25,494.90 94.50,494.90 94.75,494.90 95.00,494.90 95.25,494.90 95.50,494.90 95.75,494.90 96.00,494.90 96.25,494.90 96.50,494.90 96.75,494.90 97.00,494.90 97.25,494.90 97.50,494.90 97.75,494.90 98.00,494.90 98.25,494.90 98.50,494.90 98.75,494.90 99.00,494.90 99.25,494.90 99.50,494.90 99.75,494.90 100.00,494.90 100.25,494.90 100.50,494.90 100.75,494.90 101.00,494.90 101.25,494.90 101.50,494.90 101.75,494.90 102.00,494.90 102.25,494.90 102.50,494.90 102.75,494.90 103.00,494.90 103.25,494.90 103.50,494.90 103.75,494.90 104.00,494.90 104.25,494.90 104.50,494.90 104.75,494.90 105.00,494.90 105.25,494.90 105.50,494.90 105.75,494.90 106.00,494.90 106.25,494.90 106.50,494.90 106.75,494.90 107.00,494.90 107.25,494.90 107.50,494.90 107.75,494.90 108.00,494.90 108.25,494.90 108.50,494.90 108.75,494.90 109.00,494.90 109.25,494.90 109.50,494.90 109.75,494.90 110.00,494.90 110.25,494.90 110.50,494.90 110.75,494.90 111.00,494.90 111.25,494.90 111.50,494.90 111.75,494.90 112.00,494.90 112.25,494.90 112.50,494.90 112.75,494.90 113.00,494.90 113.25,494.90 113.50,494.90 113.75,494.90 114.00,494.90 114.25,494.90 114.50,494.90 114.75,494.90 115.00,494.90 115.25,494.90 115.50,494.90 115.75,494.90 116.00,494.90 116.25,494.90 116.50,494.90 116.75,494.90 117.00,494.90 117.25,494.90 117.50,494.90 117.75,494.90 118.00,494.90 118.25,494.90 118.50,494.90 118.75,494.90 119.00,494.90 119.25,494.90 119.50,494.90 119.75,494.90 120.00,494.90 120.25,494.90 120.50,494.90 120.75,494.90 121.00,494.90 121.25,494.90 121.50,494.90 121.75,494.90 122.00,494.90 122.25,494.90 122.50,494.89 122.75,494.89 123.00,494.89 123.25,494.89 123.50,494.89 123.75,494.89 124.00,494.89 124.25,494.88 124.50,494.88 124.75,494.88 125.00,494.88 125.25,494.88 125.50,494.87 125.75,494.87 126.00,494.87 126.25,494.87 126.50,494.86 126.75,494.86 127.00,494.86 127.25,494.86 127.50,494.85 127.75,494.85 128.00,494.85 128.25,494.84 128.50,494.84 128.75,494.84 129.00,494.83 129.25,494.83 129.50,494.83 129.75,494.82 130.00,494.82 130.25,494.81 130.50,494.81 130.75,494.81 131.00,494.80 131.25,494.80 131.50,494.79 131.75,494.79 132.00,494.78 132.25,494.78 132.50,494.77 132.75,494.77 133.00,494.77 133.25,494.76 133.50,494.76 133.75,494.75 134.00,494.74 134.25,494.74 134.50,494.73 134.75,494.73 135.00,494.72 135.25,494.72 135.50,494.71 135.75,494.71 136.00,494.70 136.25,494.70 136.50,494.69 136.75,494.68 137.00,494.68 137.25,494.67 137.50,494.67 137.75,494.66 138.00,494.65 138.25,494.65 138.50,494.64 138.75,494.63 139.00,494.63 139.25,494.62 139.50,494.61 139.75,494.61 140.00,494.60 140.25,494.59 140.50,494.59 140.75,494.58 141.00,494.57 141.25,494.56 141.50,494.55 141.75,494.54 142.00,494.53 142.25,494.52 142.50,494.51 142.75,494.49 143.00,494.48 143.25,494.46 143.50,494.44 143.75,494.42 144.00,494.40 144.25,494.38 144.50,494.35 144.75,494.33 145.00,494.30 145.25,494.26 145.50,494.19 145.75,494.09 146.00,493.97 146.25,493.82 146.50,493.65 146.75,493.46 147.00,493.24 147.25,493.00 147.50,492.74 147.75,492.46 148.00,492.17 148.25,491.85 148.50,491.52 148.75,491.17 149.00,490.80 149.25,490.32 149.50,489.63 149.75,488.78 150.00,487.81 150.25,486.74 150.50,485.62 150.75,484.48 151.00,483.36 151.25,482.29 151.50,481.30 151.75,480.29 152.00,479.16 152.25,477.97 152.50,476.76 152.75,475.59 153.00,474.51 153.25,473.58 153.50,472.85 153.75,472.37 154.00,472.20 154.25,472.37 154.50,472.86 154.75,473.59 155.00,474.51 155.25,475.56 155.50,476.68 155.75,477.81 156.00,478.89 156.25,479.95 156.50,481.22 156.75,482.60 157.00,483.96 157.25,485.16 157.50,486.05 157.75,486.61 158.00,487.10 158.25,487.53 158.50,487.89 158.75,488.15 159.00,488.29 159.25,488.25 159.50,487.97 159.75,487.48 160.00,486.79 160.25,485.94 160.50,484.97 160.75,483.90 161.00,482.76 161.25,481.49 161.50,479.69 161.75,477.44 162.00,474.87 162.25,472.12 162.50,469.31 162.75,466.43 163.00,463.13 163.25,459.67 163.50,456.39 163.75,453.45 164.00,450.51 164.25,447.81 164.50,445.70 164.75,444.32 165.00,443.12 165.25,442.17 165.50,441.65 165.75,441.62 166.00,441.76 166.25,441.97 166.50,442.24 166.75,442.52 167.00,442.78 167.25,442.98 167.50,443.09 167.75,442.93 168.00,441.97 168.25,440.39 168.50,438.46 168.75,436.43 169.00,434.55 169.25,433.08 169.50,432.28 169.75,432.36 170.00,433.23 170.25,434.72 170.50,436.62 170.75,438.77 171.00,441.11 171.25,444.57 171.50,448.76 171.75,452.96 172.00,456.57 172.25,459.94 172.50,463.20 172.75,466.29 173.00,469.14 173.25,471.75 173.50,474.29 173.75,476.73 174.00,478.98 174.25,481.00 174.50,482.72 174.75,484.13 175.00,485.49 175.25,486.82 175.50,488.08 175.75,489.26 176.00,490.33 176.25,491.27 176.50,492.06 176.75,492.69 177.00,493.11 177.25,493.33 177.50,493.46 177.75,493.58 178.00,493.67 178.25,493.75 178.50,493.79 178.75,493.80 179.00,493.73 179.25,493.59 179.50,493.37 179.75,493.09 180.00,492.77 180.25,492.41 180.50,492.02 180.75,491.63 181.00,491.24 181.25,490.86 181.50,490.50 181.75,490.18 182.00,489.87 182.25,489.53 182.50,489.13 182.75,488.62 183.00,487.82 183.25,486.52 183.50,484.84 183.75,482.93 184.00,480.94 184.25,479.01 184.50,477.30 184.75,475.68 185.00,474.00 185.25,472.35 185.50,470.85 185.75,469.60 186.00,468.65 186.25,467.76 186.50,466.93 186.75,466.23 187.00,465.74 187.25,465.51 187.50,465.65 187.75,466.22 188.00,467.10 188.25,468.20 188.50,469.42 188.75,470.66 189.00,472.28 189.25,474.32 189.50,476.57 189.75,478.80 190.00,480.81 190.25,482.50 190.50,484.21 190.75,485.92 191.00,487.54 191.25,488.98 191.50,490.17 191.75,491.00 192.00,491.44 192.25,491.78 192.50,492.08 192.75,492.34 193.00,492.57 193.25,492.75 193.50,492.89 193.75,492.97 194.00,493.00 194.25,492.98 194.50,492.92 194.75,492.84 195.00,492.72 195.25,492.57 195.50,492.41 195.75,492.22 196.00,492.02 196.25,491.81 196.50,491.59 196.75,491.36 197.00,491.13 197.25,490.91 197.50,490.69 197.75,490.47 198.00,490.28 198.25,490.09 198.50,489.90 198.75,489.71 199.00,489.51 199.25,489.31 199.50,489.11 199.75,488.90 200.00,488.70 200.25,488.49 200.50,488.28 200.75,488.08 201.00,487.87 201.25,487.66 201.50,487.45 201.75,487.25 202.00,487.04 202.25,486.84 202.50,486.65 202.75,486.47 203.00,486.30 203.25,486.15 203.50,485.99 203.75,485.84 204.00,485.68 204.25,485.52 204.50,485.34 204.75,485.14 205.00,484.92 205.25,484.67 205.50,484.39 205.75,484.07 206.00,483.64 206.25,482.99 206.50,482.16 206.75,481.22 207.00,480.23 207.25,479.25 207.50,478.34 207.75,477.49 208.00,476.52 208.25,475.49 208.50,474.45 208.75,473.47 209.00,472.61 209.25,471.93 209.50,471.51 209.75,471.41 210.00,471.71 210.25,472.36 210.50,473.26 210.75,474.33 211.00,475.45 211.25,476.68 211.50,478.37 211.75,480.34 212.00,482.35 212.25,484.14 212.50,485.51 212.75,486.77 213.00,487.98 213.25,489.11 213.50,490.12 213.75,490.97 214.00,491.63 214.25,492.07 214.50,492.42 214.75,492.74 215.00,493.05 215.25,493.33 215.50,493.60 215.75,493.84 216.00,494.05 216.25,494.24 216.50,494.41 216.75,494.55 217.00,494.66 217.25,494.73 217.50,494.78 217.75,494.80 218.00,494.81 218.25,494.82 218.50,494.82 218.75,494.83 219.00,494.84 219.25,494.84 219.50,494.85 219.75,494.85 220.00,494.86 220.25,494.86 220.50,494.87 220.75,494.87 221.00,494.87 221.25,494.88 221.50,494.88 221.75,494.88 222.00,494.89 222.25,494.89 222.50,494.89 222.75,494.89 223.00,494.89 223.25,494.90 223.50,494.90 223.75,494.90 224.00,494.90 224.25,494.90 224.50,494.90 224.75,494.90 225.00,494.90 225.25,494.90 225.50,494.90 225.75,494.90 226.00,494.90 226.25,494.90 226.50,494.90 226.75,494.90 227.00,494.90 227.25,494.90 227.50,494.90 227.75,494.90 228.00,494.90 228.25,494.90 228.50,494.90 228.75,494.89 229.00,494.89 229.25,494.89 229.50,494.89 229.75,494.89 230.00,494.89 230.25,494.89 230.50,494.89 230.75,494.89 231.00,494.89 231.25,494.89 231.50,494.88 231.75,494.88 232.00,494.88 232.25,494.88 232.50,494.88 232.75,494.88 233.00,494.88 233.25,494.87 233.50,494.87 233.75,494.87 234.00,494.87 234.25,494.87 234.50,494.87 234.75,494.86 235.00,494.86 235.25,494.86 235.50,494.86 235.75,494.86 236.00,494.86 236.25,494.85 236.50,494.85 236.75,494.85 237.00,494.85 237.25,494.84 237.50,494.84 237.75,494.84 238.00,494.84 238.25,494.84 238.50,494.83 238.75,494.83 239.00,494.83 239.25,494.83 239.50,494.82 239.75,494.82 240.00,494.82 240.25,494.82 240.50,494.81 240.75,494.81 241.00,494.81 241.25,494.80 241.50,494.80 241.75,494.80 242.00,494.80 242.25,494.79 242.50,494.79 242.75,494.79 243.00,494.78 243.25,494.78 243.50,494.78 243.75,494.77 244.00,494.77 244.25,494.77 244.50,494.77 244.75,494.76 245.00,494.76 245.25,494.76 245.50,494.75 245.75,494.75 246.00,494.74 246.25,494.74 246.50,494.74 246.75,494.73 247.00,494.73 247.25,494.73 247.50,494.72 247.75,494.72 248.00,494.72 248.25,494.71 248.50,494.71 248.75,494.70 249.00,494.70 249.25,494.70 249.50,494.69 249.75,494.69 250.00,494.68 250.25,494.68 250.50,494.68 250.75,494.67 251.00,494.67 251.25,494.66 251.50,494.66 251.75,494.66 252.00,494.65 252.25,494.65 252.50,494.64 252.75,494.64 253.00,494.63 253.25,494.63 253.50,494.63 253.75,494.62 254.00,494.62 254.25,494.61 254.50,494.61 254.75,494.60 255.00,494.60 255.25,494.59 255.50,494.59 255.75,494.58 256.00,494.58 256.25,494.57 256.50,494.57 256.75,494.56 257.00,494.56 257.25,494.56 257.50,494.55 257.75,494.55 258.00,494.54 258.25,494.54 258.50,494.53 258.75,494.53 259.00,494.52 259.25,494.52 259.50,494.51 259.75,494.51 260.00,494.50 260.25,494.49 260.50,494.49 260.75,494.48 261.00,494.48 261.25,494.47 261.50,494.46 261.75,494.46 262.00,494.45 262.25,494.44 262.50,494.43 262.75,494.42 263.00,494.41 263.25,494.40 263.50,494.39 263.75,494.38 264.00,494.36 264.25,494.35 264.50,494.33 264.75,494.32 265.00,494.30 265.25,494.27 265.50,494.23 265.75,494.16 266.00,494.09 266.25,494.00 266.50,493.91 266.75,493.81 267.00,493.71 267.25,493.62 267.50,493.52 267.75,493.44 268.00,493.36 268.25,493.29 268.50,493.24 268.75,493.21 269.00,493.20 269.25,493.21 269.50,493.25 269.75,493.30 270.00,493.37 270.25,493.45 270.50,493.54 270.75,493.64 271.00,493.74 271.25,493.84 271.50,493.94 271.75,494.03 272.00,494.11 272.25,494.18 272.50,494.24 272.75,494.28 273.00,494.30 273.25,494.31 273.50,494.31 273.75,494.32 274.00,494.33 274.25,494.33 274.50,494.34 274.75,494.35 275.00,494.35 275.25,494.36 275.50,494.36 275.75,494.37 276.00,494.37 276.25,494.38 276.50,494.38 276.75,494.39 277.00,494.39 277.25,494.40 277.50,494.40 277.75,494.41 278.00,494.41 278.25,494.42 278.50,494.42 278.75,494.42 279.00,494.43 279.25,494.43 279.50,494.43 279.75,494.44 280.00,494.44 280.25,494.44 280.50,494.45 280.75,494.45 281.00,494.45 281.25,494.46 281.50,494.46 281.75,494.46 282.00,494.46 282.25,494.47 282.50,494.47 282.75,494.47 283.00,494.47 283.25,494.48 283.50,494.48 283.75,494.48 284.00,494.48 284.25,494.48 284.50,494.48 284.75,494.49 285.00,494.49 285.25,494.49 285.50,494.49 285.75,494.49 286.00,494.49 286.25,494.49 286.50,494.49 286.75,494.49 287.00,494.50 287.25,494.50 287.50,494.50 287.75,494.50 288.00,494.50 288.25,494.50 288.50,494.50 288.75,494.50 289.00,494.50 289.25,494.50 289.50,494.50 289.75,494.50 290.00,494.50 290.25,494.50 290.50,494.50 290.75,494.50 291.00,494.50 291.25,494.50 291.50,494.49 291.75,494.49 292.00,494.49 292.25,494.49 292.50,494.48 292.75,494.48 293.00,494.48 293.25,494.47 293.50,494.47 293.75,494.46 294.00,494.46 294.25,494.45 294.50,494.45 294.75,494.44 295.00,494.44 295.25,494.43 295.50,494.42 295.75,494.42 296.00,494.41 296.25,494.40 296.50,494.40 296.75,494.39 297.00,494.38 297.25,494.38 297.50,494.37 297.75,494.36 298.00,494.35 298.25,494.34 298.50,494.34 298.75,494.33 299.00,494.32 299.25,494.31 299.50,494.30 299.75,494.29 300.00,494.28 300.25,494.28 300.50,494.27 300.75,494.26 301.00,494.25 301.25,494.24 301.50,494.23 301.75,494.22 302.00,494.21 302.25,494.20 302.50,494.19 302.75,494.18 303.00,494.17 303.25,494.16 303.50,494.16 303.75,494.15 304.00,494.14 304.25,494.13 304.50,494.12 304.75,494.11 305.00,494.10 305.25,494.09 305.50,494.08 305.75,494.07 306.00,494.07 306.25,494.06 306.50,494.05 306.75,494.04 307.00,494.03 307.25,494.03 307.50,494.02 307.75,494.01 308.00,494.00 308.25,493.99 308.50,493.98 308.75,493.97 309.00,493.96 309.25,493.95 309.50,493.94 309.75,493.93 310.00,493.91 310.25,493.90 310.50,493.88 310.75,493.87 311.00,493.85 311.25,493.83 311.50,493.82 311.75,493.80 312.00,493.78 312.25,493.75 312.50,493.73 312.75,493.71 313.00,493.67 313.25,493.62 313.50,493.56 313.75,493.48 314.00,493.38 314.25,493.28 314.50,493.15 314.75,493.02 315.00,492.88 315.25,492.73 315.50,492.57 315.75,492.40 316.00,492.23 316.25,492.05 316.50,491.87 316.75,491.68 317.00,491.46 317.25,491.21 317.50,490.93 317.75,490.62 318.00,490.29 318.25,489.95 318.50,489.58 318.75,489.20 319.00,488.81 319.25,488.41 319.50,488.01 319.75,487.60 320.00,487.20 320.25,486.80 320.50,486.40 320.75,486.00 321.00,485.60 321.25,485.18 321.50,484.75 321.75,484.32 322.00,483.88 322.25,483.43 322.50,482.97 322.75,482.51 323.00,482.05 323.25,481.58 323.50,481.11 323.75,480.63 324.00,480.16 324.25,479.68 324.50,479.21 324.75,478.71 325.00,478.19 325.25,477.66 325.50,477.12 325.75,476.58 326.00,476.04 326.25,475.51 326.50,474.99 326.75,474.50 327.00,474.03 327.25,473.60 327.50,473.20 327.75,472.81 328.00,472.40 328.25,471.98 328.50,471.59 328.75,471.23 329.00,470.92 329.25,470.68 329.50,470.54 329.75,470.50 330.00,470.56 330.25,470.69 330.50,470.88 330.75,471.13 331.00,471.42 331.25,471.75 331.50,472.10 331.75,472.48 332.00,473.00 332.25,473.70 332.50,474.54 332.75,475.49 333.00,476.50 333.25,477.55 333.50,478.59 333.75,479.60 334.00,480.70 334.25,481.91 334.50,483.18 334.75,484.45 335.00,485.65 335.25,486.72 335.50,487.61 335.75,488.30 336.00,488.95 336.25,489.57 336.50,490.16 336.75,490.71 337.00,491.22 337.25,491.67 337.50,492.07 337.75,492.41 338.00,492.68 338.25,492.87 338.50,493.01 338.75,493.14 339.00,493.26 339.25,493.38 339.50,493.50 339.75,493.61 340.00,493.71 340.25,493.81 340.50,493.90 340.75,493.98 341.00,494.06 341.25,494.13 341.50,494.20 341.75,494.26 342.00,494.32 342.25,494.36 342.50,494.40 342.75,494.44 343.00,494.46 343.25,494.48 343.50,494.49 343.75,494.50 344.00,494.50 344.25,494.50 344.50,494.50 344.75,494.50 345.00,494.50 345.25,494.50 345.50,494.50 345.75,494.50 346.00,494.50 346.25,494.50 346.50,494.50 346.75,494.50 347.00,494.50 347.25,494.50 347.50,494.50 347.75,494.50 348.00,494.50 348.25,494.50 348.50,494.50 348.75,494.50 349.00,494.50 349.25,494.50 349.50,494.50 349.75,494.50 350.00,494.50 350.25,494.50 350.50,494.50 350.75,494.50 351.00,494.50 351.25,494.50 351.50,494.50 351.75,494.50 352.00,494.50 352.25,494.50 352.50,494.50 352.75,494.50 353.00,494.50 353.25,494.50 353.50,494.50 353.75,494.50 354.00,494.50 354.25,494.50 354.50,494.50 354.75,494.50 355.00,494.50 355.25,494.50 355.50,494.50 355.75,494.50 356.00,494.50 356.25,494.50 356.50,494.50 356.75,494.50 357.00,494.51 357.25,494.51 357.50,494.51 357.75,494.51 358.00,494.51 358.25,494.51 358.50,494.52 358.75,494.52 359.00,494.52 359.25,494.52 359.50,494.53 359.75,494.53 360.00,494.53 360.25,494.53 360.50,494.54 360.75,494.54 361.00,494.54 361.25,494.55 361.50,494.55 361.75,494.55 362.00,494.56 362.25,494.56 362.50,494.56 362.75,494.57 363.00,494.57 363.25,494.57 363.50,494.58 363.75,494.58 364.00,494.59 364.25,494.59 364.50,494.59 364.75,494.60 365.00,494.60 365.25,494.60 365.50,494.61 365.75,494.61 366.00,494.61 366.25,494.62 366.50,494.62 366.75,494.63 367.00,494.63 367.25,494.63 367.50,494.64 367.75,494.64 368.00,494.64 368.25,494.65 368.50,494.65 368.75,494.65 369.00,494.66 369.25,494.66 369.50,494.66 369.75,494.67 370.00,494.67 370.25,494.67 370.50,494.67 370.75,494.68 371.00,494.68 371.25,494.68 371.50,494.68 371.75,494.69 372.00,494.69 372.25,494.69 372.50,494.69 372.75,494.69 373.00,494.69 373.25,494.70 373.50,494.70 373.75,494.70 374.00,494.70 374.25,494.70 374.50,494.70 374.75,494.70 375.00,494.70 375.25,494.70 375.50,494.70 375.75,494.69 376.00,494.68 376.25,494.67 376.50,494.66 376.75,494.65 377.00,494.64 377.25,494.62 377.50,494.60 377.75,494.58 378.00,494.56 378.25,494.54 378.50,494.51 378.75,494.49 379.00,494.46 379.25,494.43 379.50,494.40 379.75,494.37 380.00,494.34 380.25,494.31 380.50,494.27 380.75,494.24 381.00,494.20 381.25,494.16 381.50,494.10 381.75,494.04 382.00,493.96 382.25,493.87 382.50,493.77 382.75,493.67 383.00,493.56 383.25,493.44 383.50,493.31 383.75,493.18 384.00,493.04 384.25,492.90 384.50,492.76 384.75,492.61 385.00,492.46 385.25,492.31 385.50,492.13 385.75,491.93 386.00,491.71 386.25,491.48 386.50,491.24 386.75,490.99 387.00,490.73 387.25,490.48 387.50,490.22 387.75,489.97 388.00,489.73 388.25,489.50 388.50,489.28 388.75,489.08 389.00,488.88 389.25,488.69 389.50,488.50 389.75,488.32 390.00,488.14 390.25,487.96 390.50,487.79 390.75,487.62 391.00,487.46 391.25,487.30 391.50,487.13 391.75,486.95 392.00,486.77 392.25,486.59 392.50,486.41 392.75,486.24 393.00,486.09 393.25,485.95 393.50,485.84 393.75,485.76 394.00,485.71 394.25,485.70 394.50,485.71 394.75,485.74 395.00,485.79 395.25,485.84 395.50,485.90 395.75,485.96 396.00,486.02 396.25,486.08 396.50,486.13 396.75,486.17 397.00,486.19 397.25,486.20 397.50,486.17 397.75,486.10 398.00,486.00 398.25,485.88 398.50,485.72 398.75,485.55 399.00,485.36 399.25,485.16 399.50,484.84 399.75,484.38 400.00,483.82 400.25,483.17 400.50,482.49 400.75,481.78 401.00,481.09 401.25,480.45 401.50,479.87 401.75,479.24 402.00,478.57 402.25,477.86 402.50,477.15 402.75,476.45 403.00,475.81 403.25,475.23 403.50,474.74 403.75,474.38 404.00,474.16 404.25,474.10 404.50,474.17 404.75,474.34 405.00,474.59 405.25,474.90 405.50,475.27 405.75,475.69 406.00,476.13 406.25,476.59 406.50,477.05 406.75,477.51 407.00,478.00 407.25,478.62 407.50,479.32 407.75,480.05 408.00,480.79 408.25,481.47 408.50,482.07 408.75,482.53 409.00,482.86 409.25,483.16 409.50,483.44 409.75,483.69 410.00,483.91 410.25,484.13 410.50,484.32 410.75,484.51 411.00,484.70 411.25,484.88 411.50,485.06 411.75,485.25 412.00,485.45 412.25,485.66 412.50,485.88 412.75,486.10 413.00,486.32 413.25,486.53 413.50,486.75 413.75,486.97 414.00,487.19 414.25,487.41 414.50,487.63 414.75,487.85 415.00,488.07 415.25,488.28 415.50,488.50 415.75,488.72 416.00,488.94 416.25,489.16 416.50,489.38 416.75,489.63 417.00,489.89 417.25,490.16 417.50,490.45 417.75,490.73 418.00,491.02 418.25,491.31 418.50,491.59 418.75,491.86 419.00,492.12 419.25,492.36 419.50,492.57 419.75,492.76 420.00,492.92 420.25,493.05 420.50,493.14 420.75,493.19 421.00,493.20 421.25,493.17 421.50,493.12 421.75,493.05 422.00,492.96 422.25,492.85 422.50,492.73 422.75,492.61 423.00,492.47 423.25,492.34 423.50,492.20 423.75,492.07 424.00,491.95 424.25,491.80 424.50,491.61 424.75,491.42 425.00,491.22 425.25,491.02 425.50,490.84 425.75,490.69 426.00,490.58 426.25,490.51 426.50,490.51 426.75,490.59 427.00,490.74 427.25,490.95 427.50,491.20 427.75,491.48 428.00,491.77 428.25,492.06 428.50,492.34 428.75,492.58 429.00,492.78 429.25,492.98 429.50,493.19 429.75,493.40 430.00,493.61 430.25,493.81 430.50,493.99 430.75,494.14 431.00,494.27 431.25,494.36 431.50,494.40 431.75,494.42 432.00,494.44 432.25,494.46 432.50,494.47 432.75,494.49 433.00,494.50 433.25,494.52 433.50,494.53 433.75,494.55 434.00,494.56 434.25,494.57 434.50,494.58 434.75,494.59 435.00,494.60 435.25,494.61 435.50,494.62 435.75,494.63 436.00,494.64 436.25,494.65 436.50,494.65 436.75,494.66 437.00,494.66 437.25,494.67 437.50,494.67 437.75,494.68 438.00,494.68 438.25,494.69 438.50,494.69 438.75,494.69 439.00,494.69 439.25,494.70 439.50,494.70 439.75,494.70 440.00,494.70 440.25,494.70 440.50,494.70 440.75,494.70 441.00,494.70 441.25,494.71 441.50,494.71 441.75,494.71 442.00,494.71 442.25,494.71 442.50,494.71 442.75,494.71 443.00,494.71 443.25,494.71 443.50,494.71 443.75,494.71 444.00,494.72 444.25,494.72 444.50,494.72 444.75,494.72 445.00,494.72 445.25,494.72 445.50,494.72 445.75,494.72 446.00,494.72 446.25,494.72 446.50,494.72 446.75,494.73 447.00,494.73 447.25,494.73 447.50,494.73 447.75,494.73 448.00,494.73 448.25,494.73 448.50,494.73 448.75,494.73 449.00,494.73 449.25,494.73 449.50,494.73 449.75,494.74 450.00,494.74 450.25,494.74 450.50,494.74 450.75,494.74 451.00,494.74 451.25,494.74 451.50,494.74 451.75,494.74 452.00,494.74 452.25,494.74 452.50,494.74 452.75,494.74 453.00,494.74 453.25,494.75 453.50,494.75 453.75,494.75 454.00,494.75 454.25,494.75 454.50,494.75 454.75,494.75 455.00,494.75 455.25,494.75 455.50,494.75 455.75,494.75 456.00,494.75 456.25,494.75 456.50,494.75 456.75,494.75 457.00,494.76 457.25,494.76 457.50,494.76 457.75,494.76 458.00,494.76 458.25,494.76 458.50,494.76 458.75,494.76 459.00,494.76 459.25,494.76 459.50,494.76 459.75,494.76 460.00,494.76 460.25,494.76 460.50,494.76 460.75,494.76 461.00,494.76 461.25,494.77 461.50,494.77 461.75,494.77 462.00,494.77 462.25,494.77 462.50,494.77 462.75,494.77 463.00,494.77 463.25,494.77 463.50,494.77 463.75,494.77 464.00,494.77 464.25,494.77 464.50,494.77 464.75,494.77 465.00,494.77 465.25,494.77 465.50,494.77 465.75,494.77 466.00,494.77 466.25,494.77 466.50,494.78 466.75,494.78 467.00,494.78 467.25,494.78 467.50,494.78 467.75,494.78 468.00,494.78 468.25,494.78 468.50,494.78 468.75,494.78 469.00,494.78 469.25,494.78 469.50,494.78 469.75,494.78 470.00,494.78 470.25,494.78 470.50,494.78 470.75,494.78 471.00,494.78 471.25,494.78 471.50,494.78 471.75,494.78 472.00,494.78 472.25,494.78 472.50,494.78 472.75,494.78 473.00,494.79 473.25,494.79 473.50,494.79 473.75,494.79 474.00,494.79 474.25,494.79 474.50,494.79 474.75,494.79 475.00,494.79 475.25,494.79 475.50,494.79 475.75,494.79 476.00,494.79 476.25,494.79 476.50,494.79 476.75,494.79 477.00,494.79 477.25,494.79 477.50,494.79 477.75,494.79 478.00,494.79 478.25,494.79 478.50,494.79 478.75,494.79 479.00,494.79 479.25,494.79 479.50,494.79 479.75,494.79 480.00,494.79 480.25,494.79 480.50,494.79 480.75,494.79 481.00,494.79 481.25,494.79 481.50,494.79 481.75,494.79 482.00,494.79 482.25,494.79 482.50,494.79 482.75,494.79 483.00,494.79 483.25,494.79 483.50,494.80 483.75,494.80 484.00,494.80 484.25,494.80 484.50,494.80 484.75,494.80 485.00,494.80 485.25,494.80 485.50,494.80 485.75,494.80 486.00,494.80 486.25,494.80 486.50,494.80 486.75,494.80 487.00,494.80 487.25,494.80 487.50,494.80 487.75,494.80 488.00,494.80 488.25,494.80 488.50,494.80 488.75,494.80 489.00,494.80 489.25,494.80 489.50,494.80 489.75,494.80 490.00,494.80 490.25,494.80 490.50,494.80 490.75,494.80 491.00,494.80 491.25,494.80 491.50,494.80 491.75,494.80 492.00,494.80 492.25,494.80 492.50,494.80 492.75,494.80 493.00,494.80 493.25,494.80 493.50,494.80 493.75,494.80 494.00,494.80 494.25,494.80 494.50,494.80 494.75,494.80 495.00,494.80 495.25,494.80 495.50,494.80 495.75,494.80 496.00,494.80 496.25,494.80 496.50,494.80 496.75,494.80 497.00,494.80 497.25,494.80 497.50,494.80 497.75,494.80 498.00,494.80 498.25,494.80 498.50,494.80 498.75,494.80 499.00,494.80 499.25,494.80 499.50,494.80 499.75,494.80 500.00,494.80 500.25,494.80 500.50,494.80 500.75,494.80 501.00,494.80 501.25,494.80 501.50,494.80 501.75,494.80 502.00,494.80 502.25,494.80 502.50,494.80 502.75,494.80 503.00,494.80 503.25,494.80 503.50,494.80 503.75,494.80 504.00,494.80 504.25,494.80 504.50,494.80 504.75,494.80 505.00,494.80 505.25,494.80 505.50,494.80 505.75,494.80 506.00,494.80 506.25,494.79 506.50,494.79 506.75,494.79 507.00,494.79 507.25,494.79 507.50,494.79 507.75,494.79 508.00,494.79 508.25,494.79 508.50,494.79 508.75,494.79 509.00,494.79 509.25,494.79 509.50,494.79 509.75,494.79 510.00,494.79 510.25,494.79 510.50,494.78 510.75,494.78 511.00,494.78 511.25,494.78 511.50,494.78 511.75,494.78 512.00,494.78 512.25,494.78 512.50,494.78 512.75,494.78 513.00,494.78 513.25,494.78 513.50,494.77 513.75,494.77 514.00,494.77 514.25,494.77 514.50,494.77 514.75,494.77 515.00,494.77 515.25,494.77 515.50,494.77 515.75,494.76 516.00,494.76 516.25,494.76 516.50,494.76 516.75,494.76 517.00,494.76 517.25,494.76 517.50,494.75 517.75,494.75 518.00,494.75 518.25,494.75 518.50,494.75 518.75,494.75 519.00,494.75 519.25,494.74 519.50,494.74 519.75,494.74 520.00,494.74 520.25,494.74 520.50,494.74 520.75,494.73 521.00,494.73 521.25,494.73 521.50,494.73 521.75,494.73 522.00,494.72 522.25,494.72 522.50,494.72 522.75,494.72 523.00,494.72 523.25,494.71 523.50,494.71 523.75,494.71 524.00,494.71 524.25,494.71 524.50,494.70 524.75,494.70 525.00,494.70 525.25,494.70 525.50,494.70 525.75,494.69 526.00,494.69 526.25,494.69 526.50,494.69 526.75,494.68 527.00,494.68 527.25,494.68 527.50,494.68 527.75,494.67 528.00,494.67 528.25,494.67 528.50,494.67 528.75,494.66 529.00,494.66 529.25,494.66 529.50,494.65 529.75,494.65 530.00,494.65 530.25,494.65 530.50,494.64 530.75,494.64 531.00,494.64 531.25,494.63 531.50,494.63 531.75,494.63 532.00,494.62 532.25,494.62 532.50,494.62 532.75,494.61 533.00,494.61 533.25,494.61 533.50,494.60 533.75,494.60 534.00,494.60 534.25,494.59 534.50,494.59 534.75,494.59 535.00,494.58 535.25,494.58 535.50,494.58 535.75,494.57 536.00,494.57 536.25,494.57 536.50,494.56 536.75,494.56 537.00,494.55 537.25,494.55 537.50,494.55 537.75,494.54 538.00,494.54 538.25,494.53 538.50,494.53 538.75,494.53 539.00,494.52 539.25,494.52 539.50,494.51 539.75,494.51 540.00,494.51 540.25,494.50 540.50,494.50 540.75,494.49 541.00,494.49 541.25,494.48 541.50,494.48 541.75,494.47 542.00,494.47 542.25,494.46 542.50,494.46 542.75,494.46 543.00,494.45 543.25,494.45 543.50,494.44 543.75,494.44 544.00,494.43 544.25,494.43 544.50,494.42 544.75,494.42 545.00,494.41 545.25,494.41 545.50,494.40 545.75,494.40 546.00,494.39 546.25,494.38 546.50,494.38 546.75,494.37 547.00,494.37 547.25,494.36 547.50,494.36 547.75,494.35 548.00,494.35 548.25,494.34 548.50,494.34 548.75,494.33 549.00,494.32 549.25,494.32 549.50,494.31 549.75,494.31 550.00,494.30 550.25,494.29 550.50,494.27 550.75,494.25 551.00,494.22 551.25,494.19 551.50,494.15 551.75,494.11 552.00,494.06 552.25,494.00 552.50,493.95 552.75,493.89 553.00,493.83 553.25,493.76 553.50,493.69 553.75,493.63 554.00,493.56 554.25,493.49 554.50,493.41 554.75,493.34 555.00,493.27 555.25,493.20 555.50,493.13 555.75,493.07 556.00,493.00 556.25,492.94 556.50,492.88 556.75,492.82 557.00,492.77 557.25,492.72 557.50,492.67 557.75,492.63 558.00,492.59 558.25,492.56 558.50,492.54 558.75,492.52 559.00,492.51 559.25,492.50 559.50,492.50 559.75,492.52 560.00,492.54 560.25,492.56 560.50,492.60 560.75,492.64 561.00,492.69 561.25,492.75 561.50,492.81 561.75,492.88 562.00,492.95 562.25,493.02 562.50,493.10 562.75,493.18 563.00,493.26 563.25,493.34 563.50,493.43 563.75,493.51 564.00,493.59 564.25,493.68 564.50,493.76 564.75,493.84 565.00,493.92 565.25,494.00 565.50,494.07 565.75,494.14 566.00,494.21 566.25,494.27 566.50,494.32 566.75,494.37 567.00,494.41 567.25,494.44 567.50,494.47 567.75,494.49 568.00,494.50 568.25,494.51 568.50,494.51 568.75,494.52 569.00,494.52 569.25,494.53 569.50,494.53 569.75,494.54 570.00,494.54 570.25,494.55 570.50,494.55 570.75,494.56 571.00,494.56 571.25,494.57 571.50,494.57 571.75,494.58 572.00,494.58 572.25,494.58 572.50,494.59 572.75,494.59 573.00,494.60 573.25,494.60 573.50,494.61 573.75,494.61 574.00,494.61 574.25,494.62 574.50,494.62 574.75,494.63 575.00,494.63 575.25,494.63 575.50,494.64 575.75,494.64 576.00,494.65 576.25,494.65 576.50,494.65 576.75,494.66 577.00,494.66 577.25,494.66 577.50,494.67 577.75,494.67 578.00,494.67 578.25,494.68 578.50,494.68 578.75,494.68 579.00,494.69 579.25,494.69 579.50,494.69 579.75,494.69 580.00,494.70 580.25,494.70 580.50,494.70 580.75,494.71 581.00,494.71 581.25,494.71 581.50,494.71 581.75,494.72 582.00,494.72 582.25,494.72 582.50,494.72 582.75,494.73 583.00,494.73 583.25,494.73 583.50,494.73 583.75,494.74 584.00,494.74 584.25,494.74 584.50,494.74 584.75,494.74 585.00,494.75 585.25,494.75 585.50,494.75 585.75,494.75 586.00,494.75 586.25,494.76 586.50,494.76 586.75,494.76 587.00,494.76 587.25,494.76 587.50,494.76 587.75,494.77 588.00,494.77 588.25,494.77 588.50,494.77 588.75,494.77 589.00,494.77 589.25,494.77 589.50,494.77 589.75,494.78 590.00,494.78 590.25,494.78 590.50,494.78 590.75,494.78 591.00,494.78 591.25,494.78 591.50,494.78 591.75,494.78 592.00,494.79 592.25,494.79 592.50,494.79 592.75,494.79 593.00,494.79 593.25,494.79 593.50,494.79 593.75,494.79 594.00,494.79 594.25,494.79 594.50,494.79 594.75,494.79 595.00,494.79 595.25,494.80 595.50,494.80 595.75,494.80 596.00,494.80 596.25,494.80 596.50,494.80 596.75,494.80 597.00,494.80 597.25,494.80 597.50,494.80 597.75,494.80 598.00,494.80 598.25,494.80 598.50,494.80 598.75,494.80 599.00,494.80 599.25,494.80 599.50,494.80 599.75,494.80 600.00,494.80 600.25,494.80 600.50,494.80 600.75,494.80 601.00,494.80 601.25,494.80 601.50,494.80 601.75,494.80 602.00,494.80 602.25,494.80 602.50,494.80 602.75,494.80 603.00,494.80 603.25,494.80 603.50,494.80 603.75,494.80 604.00,494.80 604.25,494.80 604.50,494.80 604.75,494.80 605.00,494.80 605.25,494.80 605.50,494.80 605.75,494.80 606.00,494.80 606.25,494.80 606.50,494.80 606.75,494.80 607.00,494.80 607.25,494.80 607.50,494.80 607.75,494.80 608.00,494.80 608.25,494.80 608.50,494.80 608.75,494.80 609.00,494.80 609.25,494.80 609.50,494.80 609.75,494.80 610.00,494.80 610.25,494.80 610.50,494.80 610.75,494.80 611.00,494.80 611.25,494.80 611.50,494.80 611.75,494.80 612.00,494.80 612.25,494.80 612.50,494.80 612.75,494.80 613.00,494.80 613.25,494.80 613.50,494.80 613.75,494.80 614.00,494.80 614.25,494.80 614.50,494.80 614.75,494.80 615.00,494.80 615.25,494.80 615.50,494.80 615.75,494.80 616.00,494.80 616.25,494.80 616.50,494.80 616.75,494.80 617.00,494.80 617.25,494.80 617.50,494.80 617.75,494.80 618.00,494.80 618.25,494.80 618.50,494.80 618.75,494.80 619.00,494.80 619.25,494.80 619.50,494.80 619.75,494.80 620.00,494.80 620.25,494.80 620.50,494.80 620.75,494.80 621.00,494.80 621.25,494.80 621.50,494.80 621.75,494.80 622.00,494.80 622.25,494.80 622.50,494.80 622.75,494.80 623.00,494.80 623.25,494.80 623.50,494.80 623.75,494.80 624.00,494.80 624.25,494.80 624.50,494.80 624.75,494.80 625.00,494.80 625.25,494.80 625.50,494.80 625.75,494.80 626.00,494.80 626.25,494.80 626.50,494.80 626.75,494.80 627.00,494.80 627.25,494.80 627.50,494.80 627.75,494.80 628.00,494.80 628.25,494.80 628.50,494.80 628.75,494.80 629.00,494.80 629.25,494.80 629.50,494.80 629.75,494.80 630.00,494.80 630.25,494.80 630.50,494.80 630.75,494.80 631.00,494.80 631.25,494.80 631.50,494.80 631.75,494.80 632.00,494.80 632.25,494.80 632.50,494.80 632.75,494.80 633.00,494.80 633.25,494.80 633.50,494.80 633.75,494.80 634.00,494.80 634.25,494.80 634.50,494.80 634.75,494.80 635.00,494.80 635.25,494.80 635.50,494.80 635.75,494.80 636.00,494.80 636.25,494.80 636.50,494.80 636.75,494.80 637.00,494.80 637.25,494.80 637.50,494.80 637.75,494.80 638.00,494.80 638.25,494.80 638.50,494.80 638.75,494.80 639.00,494.80 639.25,494.80 639.50,494.80" fill="none" stroke="#1d8a86" stroke-width="1.8" stroke-linejoin="round"/>
<g clip-path="url(#c4)"><polyline points="84.00,608.70 84.25,608.70 84.50,608.70 84.75,608.70 85.00,608.70 85.25,608.70 85.50,608.70 85.75,608.70 86.00,608.70 86.25,608.70 86.50,608.70 86.75,608.70 87.00,608.70 87.25,608.70 87.50,608.70 87.75,608.70 88.00,608.70 88.25,608.70 88.50,608.70 88.75,608.70 89.00,608.70 89.25,608.70 89.50,608.70 89.75,608.70 90.00,608.70 90.25,608.70 90.50,608.70 90.75,608.70 91.00,608.70 91.25,608.70 91.50,608.70 91.75,608.70 92.00,608.70 92.25,608.70 92.50,608.70 92.75,608.70 93.00,608.70 93.25,608.70 93.50,608.70 93.75,608.70 94.00,608.70 94.25,608.70 94.50,608.70 94.75,608.70 95.00,608.70 95.25,608.70 95.50,608.70 95.75,608.70 96.00,608.70 96.25,608.70 96.50,608.70 96.75,608.70 97.00,608.70 97.25,608.70 97.50,608.70 97.75,608.70 98.00,608.70 98.25,608.70 98.50,608.70 98.75,608.70 99.00,608.70 99.25,608.70 99.50,608.70 99.75,608.70 100.00,608.70 100.25,608.70 100.50,608.70 100.75,608.70 101.00,608.70 101.25,608.70 101.50,608.70 101.75,608.70 102.00,608.70 102.25,608.70 102.50,608.70 102.75,608.70 103.00,608.70 103.25,608.70 103.50,608.70 103.75,608.70 104.00,608.70 104.25,608.70 104.50,608.70 104.75,608.70 105.00,608.70 105.25,608.70 105.50,608.70 105.75,608.70 106.00,608.70 106.25,608.70 106.50,608.70 106.75,608.70 107.00,608.70 107.25,608.70 107.50,608.70 107.75,608.70 108.00,608.70 108.25,608.70 108.50,608.70 108.75,608.70 109.00,608.70 109.25,608.70 109.50,608.70 109.75,608.70 110.00,608.70 110.25,608.70 110.50,608.70 110.75,608.70 111.00,608.70 111.25,608.70 111.50,608.70 111.75,608.70 112.00,608.70 112.25,608.70 112.50,608.70 112.75,608.70 113.00,608.70 113.25,608.70 113.50,608.70 113.75,608.70 114.00,608.70 114.25,608.70 114.50,608.70 114.75,608.70 115.00,608.70 115.25,608.70 115.50,608.70 115.75,608.70 116.00,608.70 116.25,608.70 116.50,608.70 116.75,608.70 117.00,608.70 117.25,608.70 117.50,608.70 117.75,608.70 118.00,608.70 118.25,608.70 118.50,608.70 118.75,608.70 119.00,608.70 119.25,608.70 119.50,608.70 119.75,608.70 120.00,608.70 120.25,608.70 120.50,608.70 120.75,608.70 121.00,608.70 121.25,608.70 121.50,608.70 121.75,608.70 122.00,608.70 122.25,608.70 122.50,608.70 122.75,608.70 123.00,608.70 123.25,608.70 123.50,608.70 123.75,608.70 124.00,608.70 124.25,608.70 124.50,608.70 124.75,608.70 125.00,608.70 125.25,608.70 125.50,608.70 125.75,608.70 126.00,608.70 126.25,608.70 126.50,608.70 126.75,608.70 127.00,608.70 127.25,608.70 127.50,608.70 127.75,608.70 128.00,608.70 128.25,608.70 128.50,608.70 128.75,608.70 129.00,608.70 129.25,608.70 129.50,608.70 129.75,608.70 130.00,608.70 130.25,608.69 130.50,608.67 130.75,608.64 131.00,608.59 131.25,608.53 131.50,608.46 131.75,608.37 132.00,608.26 132.25,608.15 132.50,608.02 132.75,607.88 133.00,607.72 133.25,607.55 133.50,607.37 133.75,607.17 134.00,606.96 134.25,606.74 134.50,606.50 134.75,606.15 135.00,605.60 135.25,604.83 135.50,603.87 135.75,602.70 136.00,601.33 136.25,599.76 136.50,598.00 136.75,595.11 137.00,590.49 137.25,584.65 137.50,578.09 137.75,571.33 138.00,564.32 138.25,556.28 138.50,547.45 138.75,538.08 139.00,527.85 139.25,516.71 139.50,504.49 139.75,488.41 140.00,470.62 140.25,454.45 140.50,443.21 140.75,440.21 141.00,446.90 141.25,460.51 141.50,477.73 141.75,495.23 142.00,509.70 142.25,521.26 142.50,532.06 142.75,541.90 143.00,551.49 143.25,560.45 143.50,567.77 143.75,573.02 144.00,577.87 144.25,581.95 144.50,584.65 144.75,585.30 145.00,582.10 145.25,575.52 145.50,567.07 145.75,558.13 146.00,545.75 146.25,532.33 146.50,521.62 146.75,511.74 147.00,500.50 147.25,487.15 147.50,473.14 147.75,459.94 148.00,449.04 148.25,441.94 148.50,440.13 148.75,444.23 149.00,453.03 149.25,465.02 149.50,478.73 149.75,492.66 150.00,505.32 150.25,515.71 150.50,525.69 150.75,537.49 151.00,551.16 151.25,561.74 151.50,570.44 151.75,576.74 152.00,577.22 152.25,570.01 152.50,559.22 152.75,548.24 153.00,535.18 153.25,522.38 153.50,509.70 153.75,495.91 154.00,480.32 154.25,464.21 154.50,448.89 154.75,435.63 155.00,425.74 155.25,420.50 155.50,421.19 155.75,427.82 156.00,439.00 156.25,453.26 156.50,469.14 156.75,485.16 157.00,499.87 157.25,511.86 157.50,522.28 157.75,531.84 158.00,540.79 158.25,549.23 158.50,557.06 158.75,564.34 159.00,571.55 159.25,578.36 159.50,584.38 159.75,589.21 160.00,592.92 160.25,596.24 160.50,599.09 160.75,601.38 161.00,603.00 161.25,604.23 161.50,605.35 161.75,606.30 162.00,607.02 162.25,607.43 162.50,607.49 162.75,607.36 163.00,607.09 163.25,606.68 163.50,606.14 163.75,605.46 164.00,604.67 164.25,603.75 164.50,602.71 164.75,601.55 165.00,600.29 165.25,598.92 165.50,597.44 165.75,595.87 166.00,594.19 166.25,592.14 166.50,588.69 166.75,584.04 167.00,578.54 167.25,572.55 167.50,566.42 167.75,560.35 168.00,553.85 168.25,546.57 168.50,538.21 168.75,527.71 169.00,514.34 169.25,502.23 169.50,489.31 169.75,475.78 170.00,462.32 170.25,449.62 170.50,438.36 170.75,429.23 171.00,422.91 171.25,420.09 171.50,421.46 171.75,426.93 172.00,435.67 172.25,446.83 172.50,459.56 172.75,473.03 173.00,486.39 173.25,498.80 173.50,509.40 173.75,518.91 174.00,528.04 174.25,535.96 174.50,542.81 174.75,549.02 175.00,554.86 175.25,560.55 175.50,566.36 175.75,572.44 176.00,578.33 176.25,583.53 176.50,587.67 176.75,591.69 177.00,595.41 177.25,598.34 177.50,599.94 177.75,600.02 178.00,599.53 178.25,598.66 178.50,597.46 178.75,596.00 179.00,594.34 179.25,592.53 179.50,590.64 179.75,588.72 180.00,586.83 180.25,584.96 180.50,582.84 180.75,580.49 181.00,577.96 181.25,575.31 181.50,572.58 181.75,569.84 182.00,567.13 182.25,564.51 182.50,561.79 182.75,558.63 183.00,555.26 183.25,551.91 183.50,548.84 183.75,546.27 184.00,544.45 184.25,543.63 184.50,544.10 184.75,545.94 185.00,548.81 185.25,552.39 185.50,556.34 185.75,560.32 186.00,564.00 186.25,567.88 186.50,572.39 186.75,577.07 187.00,581.47 187.25,585.13 187.50,587.60 187.75,589.28 188.00,590.84 188.25,592.19 188.50,593.25 188.75,593.95 189.00,594.20 189.25,592.74 189.50,588.79 189.75,582.99 190.00,576.02 190.25,568.50 190.50,560.80 190.75,550.95 191.00,539.24 191.25,526.65 191.50,514.15 191.75,501.64 192.00,486.45 192.25,470.96 192.50,458.08 192.75,450.74 193.00,451.71 193.25,460.79 193.50,474.83 193.75,490.60 194.00,504.85 194.25,515.28 194.50,524.22 194.75,532.71 195.00,541.49 195.25,551.35 195.50,564.26 195.75,577.38 196.00,586.10 196.25,590.85 196.50,595.10 196.75,598.78 197.00,601.84 197.25,604.22 197.50,605.87 197.75,606.73 198.00,607.01 198.25,607.26 198.50,607.49 198.75,607.71 199.00,607.90 199.25,608.08 199.50,608.24 199.75,608.38 200.00,608.50 200.25,608.62 200.50,608.71 200.75,608.79 201.00,608.86 201.25,608.91 201.50,608.95 201.75,608.98 202.00,609.00 202.25,609.00 202.50,609.00 202.75,609.00 203.00,609.00 203.25,609.00 203.50,609.00 203.75,609.00 204.00,609.00 204.25,609.00 204.50,609.00 204.75,609.00 205.00,609.00 205.25,609.00 205.50,609.00 205.75,609.00 206.00,609.00 206.25,609.00 206.50,609.00 206.75,609.00 207.00,609.00 207.25,609.00 207.50,609.00 207.75,609.00 208.00,609.00 208.25,609.00 208.50,608.99 208.75,608.99 209.00,608.99 209.25,608.99 209.50,608.99 209.75,608.99 210.00,608.99 210.25,608.99 210.50,608.99 210.75,608.99 211.00,608.99 211.25,608.99 211.50,608.99 211.75,608.99 212.00,608.99 212.25,608.99 212.50,608.98 212.75,608.98 213.00,608.98 213.25,608.98 213.50,608.98 213.75,608.98 214.00,608.98 214.25,608.98 214.50,608.98 214.75,608.97 215.00,608.97 215.25,608.97 215.50,608.97 215.75,608.97 216.00,608.97 216.25,608.97 216.50,608.97 216.75,608.96 217.00,608.96 217.25,608.96 217.50,608.96 217.75,608.96 218.00,608.96 218.25,608.95 218.50,608.95 218.75,608.95 219.00,608.95 219.25,608.95 219.50,608.95 219.75,608.94 220.00,608.94 220.25,608.94 220.50,608.94 220.75,608.94 221.00,608.93 221.25,608.93 221.50,608.93 221.75,608.93 222.00,608.92 222.25,608.92 222.50,608.92 222.75,608.92 223.00,608.91 223.25,608.91 223.50,608.91 223.75,608.91 224.00,608.90 224.25,608.90 224.50,608.90 224.75,608.89 225.00,608.89 225.25,608.89 225.50,608.89 225.75,608.88 226.00,608.88 226.25,608.88 226.50,608.87 226.75,608.87 227.00,608.87 227.25,608.86 227.50,608.86 227.75,608.86 228.00,608.85 228.25,608.85 228.50,608.84 228.75,608.84 229.00,608.84 229.25,608.83 229.50,608.83 229.75,608.82 230.00,608.82 230.25,608.82 230.50,608.81 230.75,608.81 231.00,608.80 231.25,608.80 231.50,608.79 231.75,608.79 232.00,608.79 232.25,608.78 232.50,608.78 232.75,608.77 233.00,608.77 233.25,608.76 233.50,608.76 233.75,608.75 234.00,608.75 234.25,608.74 234.50,608.74 234.75,608.73 235.00,608.72 235.25,608.72 235.50,608.71 235.75,608.71 236.00,608.70 236.25,608.70 236.50,608.69 236.75,608.68 237.00,608.68 237.25,608.67 237.50,608.67 237.75,608.66 238.00,608.65 238.25,608.65 238.50,608.64 238.75,608.63 239.00,608.63 239.25,608.62 239.50,608.61 239.75,608.61 240.00,608.60 240.25,608.58 240.50,608.55 240.75,608.49 241.00,608.41 241.25,608.32 241.50,608.22 241.75,608.09 242.00,607.96 242.25,607.81 242.50,607.65 242.75,607.48 243.00,607.30 243.25,607.11 243.50,606.91 243.75,606.71 244.00,606.50 244.25,606.21 244.50,605.78 244.75,605.25 245.00,604.64 245.25,603.98 245.50,603.31 245.75,602.64 246.00,602.02 246.25,601.46 246.50,601.01 246.75,600.68 247.00,600.52 247.25,600.54 247.50,600.74 247.75,601.10 248.00,601.57 248.25,602.14 248.50,602.77 248.75,603.42 249.00,604.07 249.25,604.69 249.50,605.24 249.75,605.68 250.00,606.00 250.25,606.24 250.50,606.47 250.75,606.70 251.00,606.92 251.25,607.14 251.50,607.34 251.75,607.53 252.00,607.71 252.25,607.87 252.50,608.02 252.75,608.15 253.00,608.26 253.25,608.36 253.50,608.43 253.75,608.48 254.00,608.50 254.25,608.51 254.50,608.52 254.75,608.54 255.00,608.55 255.25,608.56 255.50,608.57 255.75,608.58 256.00,608.59 256.25,608.60 256.50,608.61 256.75,608.62 257.00,608.63 257.25,608.64 257.50,608.65 257.75,608.66 258.00,608.67 258.25,608.68 258.50,608.69 258.75,608.70 259.00,608.71 259.25,608.71 259.50,608.72 259.75,608.73 260.00,608.74 260.25,608.75 260.50,608.76 260.75,608.76 261.00,608.77 261.25,608.78 261.50,608.78 261.75,608.79 262.00,608.80 262.25,608.81 262.50,608.81 262.75,608.82 263.00,608.82 263.25,608.83 263.50,608.84 263.75,608.84 264.00,608.85 264.25,608.85 264.50,608.86 264.75,608.86 265.00,608.87 265.25,608.88 265.50,608.88 265.75,608.89 266.00,608.89 266.25,608.89 266.50,608.90 266.75,608.90 267.00,608.91 267.25,608.91 267.50,608.92 267.75,608.92 268.00,608.92 268.25,608.93 268.50,608.93 268.75,608.93 269.00,608.94 269.25,608.94 269.50,608.94 269.75,608.95 270.00,608.95 270.25,608.95 270.50,608.96 270.75,608.96 271.00,608.96 271.25,608.96 271.50,608.97 271.75,608.97 272.00,608.97 272.25,608.97 272.50,608.97 272.75,608.98 273.00,608.98 273.25,608.98 273.50,608.98 273.75,608.98 274.00,608.98 274.25,608.99 274.50,608.99 274.75,608.99 275.00,608.99 275.25,608.99 275.50,608.99 275.75,608.99 276.00,608.99 276.25,608.99 276.50,609.00 276.75,609.00 277.00,609.00 277.25,609.00 277.50,609.00 277.75,609.00 278.00,609.00 278.25,609.00 278.50,609.00 278.75,609.00 279.00,609.00 279.25,609.00 279.50,609.00 279.75,609.00 280.00,609.00 280.25,609.00 280.50,608.99 280.75,608.97 281.00,608.95 281.25,608.93 281.50,608.90 281.75,608.86 282.00,608.82 282.25,608.77 282.50,608.72 282.75,608.66 283.00,608.60 283.25,608.53 283.50,608.46 283.75,608.39 284.00,608.31 284.25,608.22 284.50,608.13 284.75,608.04 285.00,607.94 285.25,607.84 285.50,607.73 285.75,607.62 286.00,607.51 286.25,607.39 286.50,607.27 286.75,607.14 287.00,607.01 287.25,606.88 287.50,606.74 287.75,606.58 288.00,606.38 288.25,606.14 288.50,605.87 288.75,605.57 289.00,605.23 289.25,604.85 289.50,604.44 289.75,603.99 290.00,603.50 290.25,602.98 290.50,602.41 290.75,601.81 291.00,601.17 291.25,600.41 291.50,599.28 291.75,597.79 292.00,596.00 292.25,593.99 292.50,591.81 292.75,589.52 293.00,587.19 293.25,584.88 293.50,582.66 293.75,580.58 294.00,578.70 294.25,576.83 294.50,574.77 294.75,572.63 295.00,570.48 295.25,568.41 295.50,566.52 295.75,564.90 296.00,563.62 296.25,562.80 296.50,562.50 296.75,562.94 297.00,564.12 297.25,565.87 297.50,567.98 297.75,570.29 298.00,572.59 298.25,574.70 298.50,576.50 298.75,578.41 299.00,580.50 299.25,582.67 299.50,584.84 299.75,586.94 300.00,588.88 300.25,590.59 300.50,591.97 300.75,592.95 301.00,593.45 301.25,593.33 301.50,592.35 301.75,590.59 302.00,588.16 302.25,585.16 302.50,581.72 302.75,577.93 303.00,573.92 303.25,569.78 303.50,565.64 303.75,561.25 304.00,555.51 304.25,548.78 304.50,541.57 304.75,534.40 305.00,527.80 305.25,522.28 305.50,518.34 305.75,515.80 306.00,513.52 306.25,510.27 306.50,501.91 306.75,485.89 307.00,469.51 307.25,460.31 307.50,464.00 307.75,477.06 308.00,493.51 308.25,507.44 308.50,515.76 308.75,522.38 309.00,528.72 309.25,536.14 309.50,545.59 309.75,555.91 310.00,565.44 310.25,572.62 310.50,578.60 310.75,584.19 311.00,589.17 311.25,593.31 311.50,596.37 311.75,598.17 312.00,599.45 312.25,600.64 312.50,601.74 312.75,602.76 313.00,603.70 313.25,604.54 313.50,605.30 313.75,605.97 314.00,606.56 314.25,607.05 314.50,607.46 314.75,607.78 315.00,608.01 315.25,608.16 315.50,608.22 315.75,608.26 316.00,608.31 316.25,608.35 316.50,608.39 316.75,608.43 317.00,608.47 317.25,608.50 317.50,608.54 317.75,608.57 318.00,608.60 318.25,608.63 318.50,608.66 318.75,608.69 319.00,608.72 319.25,608.74 319.50,608.77 319.75,608.79 320.00,608.81 320.25,608.83 320.50,608.85 320.75,608.87 321.00,608.88 321.25,608.90 321.50,608.91 321.75,608.92 322.00,608.94 322.25,608.95 322.50,608.96 322.75,608.96 323.00,608.97 323.25,608.98 323.50,608.98 323.75,608.99 324.00,608.99 324.25,609.00 324.50,609.00 324.75,609.00 325.00,609.00 325.25,609.00 325.50,609.00 325.75,609.00 326.00,609.00 326.25,609.00 326.50,609.00 326.75,609.00 327.00,609.00 327.25,609.00 327.50,609.00 327.75,608.99 328.00,608.99 328.25,608.99 328.50,608.99 328.75,608.99 329.00,608.99 329.25,608.99 329.50,608.99 329.75,608.98 330.00,608.98 330.25,608.98 330.50,608.98 330.75,608.98 331.00,608.97 331.25,608.97 331.50,608.97 331.75,608.97 332.00,608.96 332.25,608.96 332.50,608.96 332.75,608.95 333.00,608.95 333.25,608.95 333.50,608.94 333.75,608.94 334.00,608.94 334.25,608.93 334.50,608.93 334.75,608.92 335.00,608.92 335.25,608.91 335.50,608.91 335.75,608.90 336.00,608.90 336.25,608.89 336.50,608.89 336.75,608.88 337.00,608.88 337.25,608.87 337.50,608.87 337.75,608.86 338.00,608.85 338.25,608.85 338.50,608.84 338.75,608.84 339.00,608.83 339.25,608.82 339.50,608.81 339.75,608.81 340.00,608.80 340.25,608.78 340.50,608.75 340.75,608.70 341.00,608.64 341.25,608.57 341.50,608.49 341.75,608.40 342.00,608.31 342.25,608.22 342.50,608.13 342.75,608.03 343.00,607.95 343.25,607.86 343.50,607.79 343.75,607.72 344.00,607.67 344.25,607.63 344.50,607.61 344.75,607.60 345.00,607.63 345.25,607.69 345.50,607.78 345.75,607.89 346.00,608.01 346.25,608.15 346.50,608.28 346.75,608.41 347.00,608.54 347.25,608.64 347.50,608.73 347.75,608.78 348.00,608.80 348.25,608.80 348.50,608.79 348.75,608.77 349.00,608.75 349.25,608.72 349.50,608.69 349.75,608.65 350.00,608.60 350.25,608.55 350.50,608.49 350.75,608.43 351.00,608.36 351.25,608.28 351.50,608.20 351.75,608.11 352.00,608.02 352.25,607.91 352.50,607.81 352.75,607.70 353.00,607.58 353.25,607.45 353.50,607.32 353.75,607.18 354.00,607.04 354.25,606.89 354.50,606.73 354.75,606.44 355.00,606.02 355.25,605.48 355.50,604.81 355.75,604.05 356.00,603.19 356.25,602.24 356.50,601.21 356.75,600.12 357.00,598.97 357.25,597.78 357.50,596.55 357.75,595.29 358.00,594.01 358.25,592.66 358.50,590.97 358.75,588.99 359.00,586.82 359.25,584.55 359.50,582.25 359.75,580.03 360.00,577.96 360.25,576.13 360.50,574.46 360.75,572.69 361.00,570.88 361.25,569.13 361.50,567.50 361.75,566.09 362.00,564.99 362.25,564.26 362.50,564.00 362.75,564.23 363.00,564.86 363.25,565.83 363.50,567.06 363.75,568.47 364.00,570.01 364.25,571.58 364.50,573.13 364.75,574.59 365.00,576.19 365.25,578.01 365.50,579.98 365.75,582.02 366.00,584.05 366.25,585.98 366.50,587.76 366.75,589.29 367.00,590.50 367.25,591.53 367.50,592.55 367.75,593.55 368.00,594.51 368.25,595.42 368.50,596.25 368.75,596.98 369.00,597.61 369.25,598.11 369.50,598.47 369.75,598.67 370.00,598.66 370.25,598.27 370.50,597.49 370.75,596.35 371.00,594.91 371.25,593.21 371.50,591.30 371.75,589.21 372.00,587.01 372.25,584.48 372.50,580.79 372.75,576.09 373.00,570.66 373.25,564.76 373.50,558.67 373.75,552.66 374.00,546.96 374.25,541.33 374.50,535.52 374.75,529.34 375.00,522.60 375.25,514.73 375.50,505.70 375.75,494.86 376.00,483.71 376.25,474.66 376.50,470.15 376.75,472.37 377.00,480.45 377.25,491.46 377.50,502.51 377.75,510.74 378.00,516.73 378.25,522.02 378.50,527.29 378.75,533.19 379.00,541.03 379.25,550.21 379.50,556.60 379.75,560.01 380.00,562.84 380.25,564.78 380.50,565.50 380.75,564.41 381.00,561.76 381.25,558.44 381.50,555.37 381.75,553.41 382.00,551.99 382.25,550.64 382.50,549.46 382.75,548.53 383.00,547.95 383.25,547.83 383.50,548.71 383.75,550.58 384.00,553.13 384.25,556.01 384.50,558.90 384.75,561.49 385.00,564.10 385.25,566.91 385.50,569.83 385.75,572.77 386.00,575.63 386.25,578.34 386.50,580.80 386.75,583.00 387.00,585.16 387.25,587.28 387.50,589.34 387.75,591.31 388.00,593.17 388.25,594.90 388.50,596.46 388.75,597.84 389.00,599.00 389.25,599.97 389.50,600.91 389.75,601.83 390.00,602.72 390.25,603.56 390.50,604.33 390.75,605.02 391.00,605.62 391.25,606.12 391.50,606.49 391.75,606.72 392.00,606.80 392.25,606.57 392.50,605.93 392.75,604.96 393.00,603.72 393.25,602.30 393.50,600.75 393.75,599.16 394.00,597.59 394.25,596.10 394.50,594.36 394.75,592.27 395.00,589.93 395.25,587.47 395.50,585.00 395.75,582.65 396.00,580.52 396.25,578.73 396.50,577.39 396.75,576.63 397.00,576.56 397.25,577.18 397.50,578.37 397.75,579.99 398.00,581.90 398.25,583.96 398.50,586.03 398.75,587.99 399.00,590.36 399.25,593.13 399.50,595.96 399.75,598.50 400.00,600.40 400.25,601.52 400.50,602.50 400.75,603.42 401.00,604.27 401.25,605.05 401.50,605.76 401.75,606.39 402.00,606.93 402.25,607.38 402.50,607.74 402.75,608.01 403.00,608.17 403.25,608.24 403.50,608.30 403.75,608.35 404.00,608.41 404.25,608.46 404.50,608.51 404.75,608.56 405.00,608.60 405.25,608.64 405.50,608.68 405.75,608.72 406.00,608.75 406.25,608.78 406.50,608.81 406.75,608.84 407.00,608.86 407.25,608.89 407.50,608.91 407.75,608.92 408.00,608.94 408.25,608.95 408.50,608.97 408.75,608.98 409.00,608.99 409.25,608.99 409.50,609.00 409.75,609.00 410.00,609.00 410.25,609.00 410.50,609.00 410.75,609.00 411.00,609.00 411.25,609.00 411.50,609.00 411.75,608.99 412.00,608.99 412.25,608.99 412.50,608.99 412.75,608.99 413.00,608.98 413.25,608.98 413.50,608.98 413.75,608.97 414.00,608.97 414.25,608.96 414.50,608.96 414.75,608.96 415.00,608.95 415.25,608.95 415.50,608.94 415.75,608.94 416.00,608.93 416.25,608.92 416.50,608.92 416.75,608.91 417.00,608.90 417.25,608.90 417.50,608.89 417.75,608.88 418.00,608.87 418.25,608.87 418.50,608.86 418.75,608.85 419.00,608.84 419.25,608.83 419.50,608.82 419.75,608.81 420.00,608.80 420.25,608.79 420.50,608.77 420.75,608.74 421.00,608.71 421.25,608.67 421.50,608.63 421.75,608.58 422.00,608.52 422.25,608.46 422.50,608.40 422.75,608.33 423.00,608.26 423.25,608.18 423.50,608.09 423.75,608.00 424.00,607.91 424.25,607.81 424.50,607.71 424.75,607.61 425.00,607.50 425.25,607.35 425.50,607.12 425.75,606.82 426.00,606.47 426.25,606.08 426.50,605.66 426.75,605.21 427.00,604.76 427.25,604.32 427.50,603.89 427.75,603.49 428.00,603.13 428.25,602.82 428.50,602.57 428.75,602.40 429.00,602.31 429.25,602.32 429.50,602.44 429.75,602.65 430.00,602.95 430.25,603.31 430.50,603.72 430.75,604.16 431.00,604.63 431.25,605.11 431.50,605.58 431.75,606.04 432.00,606.46 432.25,606.83 432.50,607.13 432.75,607.36 433.00,607.50 433.25,607.59 433.50,607.67 433.75,607.75 434.00,607.83 434.25,607.91 434.50,607.98 434.75,608.05 435.00,608.12 435.25,608.18 435.50,608.24 435.75,608.30 436.00,608.36 436.25,608.41 436.50,608.46 436.75,608.50 437.00,608.55 437.25,608.59 437.50,608.62 437.75,608.66 438.00,608.69 438.25,608.71 438.50,608.74 438.75,608.75 439.00,608.77 439.25,608.78 439.50,608.79 439.75,608.80 440.00,608.80 440.25,608.80 440.50,608.80 440.75,608.80 441.00,608.79 441.25,608.79 441.50,608.79 441.75,608.78 442.00,608.78 442.25,608.77 442.50,608.77 442.75,608.76 443.00,608.76 443.25,608.75 443.50,608.74 443.75,608.73 444.00,608.72 444.25,608.71 444.50,608.70 444.75,608.69 445.00,608.68 445.25,608.67 445.50,608.65 445.75,608.64 446.00,608.63 446.25,608.61 446.50,608.60 446.75,608.58 447.00,608.57 447.25,608.55 447.50,608.54 447.75,608.52 448.00,608.50 448.25,608.47 448.50,608.41 448.75,608.33 449.00,608.23 449.25,608.11 449.50,607.98 449.75,607.83 450.00,607.66 450.25,607.49 450.50,607.31 450.75,607.12 451.00,606.93 451.25,606.74 451.50,606.55 451.75,606.36 452.00,606.18 452.25,606.00 452.50,605.84 452.75,605.68 453.00,605.54 453.25,605.41 453.50,605.31 453.75,605.22 454.00,605.15 454.25,605.11 454.50,605.10 454.75,605.12 455.00,605.16 455.25,605.23 455.50,605.33 455.75,605.45 456.00,605.59 456.25,605.74 456.50,605.90 456.75,606.08 457.00,606.26 457.25,606.45 457.50,606.64 457.75,606.83 458.00,607.01 458.25,607.19 458.50,607.36 458.75,607.51 459.00,607.65 459.25,607.77 459.50,607.87 459.75,607.95 460.00,608.00 460.25,608.04 460.50,608.07 460.75,608.11 461.00,608.14 461.25,608.17 461.50,608.20 461.75,608.23 462.00,608.26 462.25,608.29 462.50,608.31 462.75,608.34 463.00,608.36 463.25,608.38 463.50,608.40 463.75,608.42 464.00,608.44 464.25,608.45 464.50,608.46 464.75,608.47 465.00,608.48 465.25,608.49 465.50,608.50 465.75,608.50 466.00,608.50 466.25,608.48 466.50,608.41 466.75,608.30 467.00,608.17 467.25,608.00 467.50,607.81 467.75,607.60 468.00,607.37 468.25,607.14 468.50,606.90 468.75,606.66 469.00,606.43 469.25,606.21 469.50,606.00 469.75,605.78 470.00,605.52 470.25,605.23 470.50,604.94 470.75,604.65 471.00,604.38 471.25,604.15 471.50,603.97 471.75,603.84 472.00,603.80 472.25,603.88 472.50,604.09 472.75,604.40 473.00,604.79 473.25,605.22 473.50,605.67 473.75,606.10 474.00,606.49 474.25,606.80 474.50,607.00 474.75,607.14 475.00,607.27 475.25,607.41 475.50,607.53 475.75,607.66 476.00,607.78 476.25,607.89 476.50,608.00 476.75,608.10 477.00,608.20 477.25,608.29 477.50,608.37 477.75,608.45 478.00,608.52 478.25,608.58 478.50,608.64 478.75,608.69 479.00,608.73 479.25,608.76 479.50,608.78 479.75,608.80 480.00,608.80 480.25,608.80 480.50,608.80 480.75,608.80 481.00,608.79 481.25,608.79 481.50,608.78 481.75,608.78 482.00,608.77 482.25,608.76 482.50,608.75 482.75,608.74 483.00,608.73 483.25,608.72 483.50,608.70 483.75,608.69 484.00,608.68 484.25,608.66 484.50,608.64 484.75,608.62 485.00,608.60 485.25,608.58 485.50,608.56 485.75,608.54 486.00,608.52 486.25,608.49 486.50,608.47 486.75,608.44 487.00,608.41 487.25,608.38 487.50,608.35 487.75,608.32 488.00,608.29 488.25,608.26 488.50,608.23 488.75,608.19 489.00,608.15 489.25,608.12 489.50,608.08 489.75,608.04 490.00,608.00 490.25,607.94 490.50,607.85 490.75,607.74 491.00,607.59 491.25,607.43 491.50,607.24 491.75,607.04 492.00,606.83 492.25,606.60 492.50,606.37 492.75,606.14 493.00,605.90 493.25,605.66 493.50,605.43 493.75,605.21 494.00,605.00 494.25,604.78 494.50,604.53 494.75,604.26 495.00,603.98 495.25,603.68 495.50,603.38 495.75,603.08 496.00,602.79 496.25,602.51 496.50,602.25 496.75,602.02 497.00,601.81 497.25,601.64 497.50,601.51 497.75,601.43 498.00,601.40 498.25,601.43 498.50,601.50 498.75,601.60 499.00,601.74 499.25,601.89 499.50,602.05 499.75,602.21 500.00,602.36 500.25,602.50 500.50,602.60 500.75,602.67 501.00,602.70 501.25,602.68 501.50,602.61 501.75,602.52 502.00,602.40 502.25,602.26 502.50,602.11 502.75,601.96 503.00,601.81 503.25,601.68 503.50,601.56 503.75,601.47 504.00,601.41 504.25,601.40 504.50,601.46 504.75,601.60 505.00,601.81 505.25,602.07 505.50,602.37 505.75,602.71 506.00,603.06 506.25,603.43 506.50,603.79 506.75,604.14 507.00,604.47 507.25,604.76 507.50,605.00 507.75,605.22 508.00,605.46 508.25,605.70 508.50,605.94 508.75,606.17 509.00,606.38 509.25,606.58 509.50,606.74 509.75,606.87 510.00,606.96 510.25,607.00 510.50,606.99 510.75,606.96 511.00,606.90 511.25,606.81 511.50,606.71 511.75,606.59 512.00,606.45 512.25,606.29 512.50,606.12 512.75,605.94 513.00,605.74 513.25,605.54 513.50,605.33 513.75,605.12 514.00,604.90 514.25,604.69 514.50,604.47 514.75,604.26 515.00,604.04 515.25,603.84 515.50,603.64 515.75,603.43 516.00,603.22 516.25,602.99 516.50,602.77 516.75,602.53 517.00,602.28 517.25,602.03 517.50,601.77 517.75,601.50 518.00,601.22 518.25,600.93 518.50,600.63 518.75,600.32 519.00,600.00 519.25,599.63 519.50,599.17 519.75,598.66 520.00,598.10 520.25,597.51 520.50,596.92 520.75,596.33 521.00,595.77 521.25,595.26 521.50,594.81 521.75,594.44 522.00,594.18 522.25,594.03 522.50,594.01 522.75,594.11 523.00,594.32 523.25,594.59 523.50,594.93 523.75,595.30 524.00,595.69 524.25,596.08 524.50,596.44 524.75,596.75 525.00,597.00 525.25,597.20 525.50,597.37 525.75,597.52 526.00,597.67 526.25,597.81 526.50,597.95 526.75,598.11 527.00,598.28 527.25,598.47 527.50,598.69 527.75,598.96 528.00,599.27 528.25,599.62 528.50,600.00 528.75,600.40 529.00,600.82 529.25,601.25 529.50,601.68 529.75,602.11 530.00,602.53 530.25,602.94 530.50,603.32 530.75,603.68 531.00,604.00 531.25,604.31 531.50,604.63 531.75,604.97 532.00,605.30 532.25,605.64 532.50,605.97 532.75,606.29 533.00,606.60 533.25,606.88 533.50,607.14 533.75,607.37 534.00,607.57 534.25,607.72 534.50,607.83 534.75,607.89 535.00,607.89 535.25,607.73 535.50,607.44 535.75,607.05 536.00,606.60 536.25,606.13 536.50,605.68 536.75,605.29 537.00,605.00 537.25,604.77 537.50,604.53 537.75,604.29 538.00,604.07 538.25,603.86 538.50,603.68 538.75,603.52 539.00,603.40 539.25,603.33 539.50,603.30 539.75,603.37 540.00,603.57 540.25,603.86 540.50,604.23 540.75,604.64 541.00,605.08 541.25,605.51 541.50,605.91 541.75,606.24 542.00,606.50 542.25,606.70 542.50,606.91 542.75,607.11 543.00,607.31 543.25,607.50 543.50,607.69 543.75,607.87 544.00,608.03 544.25,608.19 544.50,608.33 544.75,608.46 545.00,608.57 545.25,608.66 545.50,608.73 545.75,608.78 546.00,608.80 546.25,608.81 546.50,608.82 546.75,608.83 547.00,608.85 547.25,608.86 547.50,608.87 547.75,608.87 548.00,608.88 548.25,608.89 548.50,608.90 548.75,608.91 549.00,608.92 549.25,608.92 549.50,608.93 549.75,608.94 550.00,608.94 550.25,608.95 550.50,608.95 550.75,608.96 551.00,608.96 551.25,608.97 551.50,608.97 551.75,608.98 552.00,608.98 552.25,608.98 552.50,608.99 552.75,608.99 553.00,608.99 553.25,608.99 553.50,609.00 553.75,609.00 554.00,609.00 554.25,609.00 554.50,609.00 554.75,609.00 555.00,609.00 555.25,609.00 555.50,608.98 555.75,608.97 556.00,608.94 556.25,608.91 556.50,608.87 556.75,608.83 557.00,608.78 557.25,608.73 557.50,608.67 557.75,608.61 558.00,608.55 558.25,608.49 558.50,608.42 558.75,608.35 559.00,608.28 559.25,608.21 559.50,608.14 559.75,608.07 560.00,608.01 560.25,607.94 560.50,607.87 560.75,607.81 561.00,607.75 561.25,607.69 561.50,607.64 561.75,607.59 562.00,607.55 562.25,607.51 562.50,607.47 562.75,607.44 563.00,607.42 563.25,607.41 563.50,607.40 563.75,607.40 564.00,607.42 564.25,607.45 564.50,607.49 564.75,607.54 565.00,607.60 565.25,607.66 565.50,607.74 565.75,607.82 566.00,607.91 566.25,608.00 566.50,608.09 566.75,608.18 567.00,608.27 567.25,608.37 567.50,608.46 567.75,608.55 568.00,608.63 568.25,608.71 568.50,608.78 568.75,608.84 569.00,608.90 569.25,608.94 569.50,608.97 569.75,608.99 570.00,609.00 570.25,608.99 570.50,608.98 570.75,608.95 571.00,608.91 571.25,608.86 571.50,608.80 571.75,608.74 572.00,608.67 572.25,608.59 572.50,608.51 572.75,608.42 573.00,608.33 573.25,608.24 573.50,608.14 573.75,608.05 574.00,607.96 574.25,607.86 574.50,607.77 574.75,607.68 575.00,607.59 575.25,607.51 575.50,607.43 575.75,607.36 576.00,607.30 576.25,607.24 576.50,607.19 576.75,607.15 577.00,607.12 577.25,607.11 577.50,607.10 577.75,607.11 578.00,607.12 578.25,607.15 578.50,607.19 578.75,607.24 579.00,607.30 579.25,607.36 579.50,607.43 579.75,607.51 580.00,607.59 580.25,607.68 580.50,607.77 580.75,607.86 581.00,607.96 581.25,608.05 581.50,608.14 581.75,608.24 582.00,608.33 582.25,608.42 582.50,608.51 582.75,608.59 583.00,608.67 583.25,608.74 583.50,608.80 583.75,608.86 584.00,608.91 584.25,608.95 584.50,608.98 584.75,608.99 585.00,609.00 585.25,609.00 585.50,608.99 585.75,608.98 586.00,608.97 586.25,608.96 586.50,608.94 586.75,608.92 587.00,608.90 587.25,608.87 587.50,608.84 587.75,608.81 588.00,608.78 588.25,608.74 588.50,608.71 588.75,608.67 589.00,608.63 589.25,608.59 589.50,608.55 589.75,608.50 590.00,608.46 590.25,608.41 590.50,608.37 590.75,608.32 591.00,608.27 591.25,608.23 591.50,608.18 591.75,608.13 592.00,608.09 592.25,608.04 592.50,608.00 592.75,607.95 593.00,607.91 593.25,607.86 593.50,607.82 593.75,607.78 594.00,607.74 594.25,607.70 594.50,607.66 594.75,607.63 595.00,607.60 595.25,607.57 595.50,607.54 595.75,607.51 596.00,607.49 596.25,607.46 596.50,607.45 596.75,607.43 597.00,607.42 597.25,607.41 597.50,607.40 597.75,607.40 598.00,607.40 598.25,607.42 598.50,607.44 598.75,607.47 599.00,607.52 599.25,607.56 599.50,607.62 599.75,607.68 600.00,607.75 600.25,607.82 600.50,607.90 600.75,607.97 601.00,608.05 601.25,608.14 601.50,608.22 601.75,608.30 602.00,608.38 602.25,608.46 602.50,608.54 602.75,608.61 603.00,608.68 603.25,608.75 603.50,608.81 603.75,608.86 604.00,608.90 604.25,608.94 604.50,608.97 604.75,608.99 605.00,609.00 605.25,609.00 605.50,609.01 605.75,609.01 606.00,609.02 606.25,609.02 606.50,609.02 606.75,609.03 607.00,609.03 607.25,609.03 607.50,609.04 607.75,609.04 608.00,609.04 608.25,609.05 608.50,609.05 608.75,609.05 609.00,609.06 609.25,609.06 609.50,609.06 609.75,609.07 610.00,609.07 610.25,609.07 610.50,609.07 610.75,609.08 611.00,609.08 611.25,609.08 611.50,609.09 611.75,609.09 612.00,609.09 612.25,609.09 612.50,609.10 612.75,609.10 613.00,609.10 613.25,609.10 613.50,609.11 613.75,609.11 614.00,609.11 614.25,609.11 614.50,609.12 614.75,609.12 615.00,609.12 615.25,609.12 615.50,609.12 615.75,609.13 616.00,609.13 616.25,609.13 616.50,609.13 616.75,609.14 617.00,609.14 617.25,609.14 617.50,609.14 617.75,609.14 618.00,609.14 618.25,609.15 618.50,609.15 618.75,609.15 619.00,609.15 619.25,609.15 619.50,609.15 619.75,609.16 620.00,609.16 620.25,609.16 620.50,609.16 620.75,609.16 621.00,609.16 621.25,609.16 621.50,609.17 621.75,609.17 622.00,609.17 622.25,609.17 622.50,609.17 622.75,609.17 623.00,609.17 623.25,609.17 623.50,609.18 623.75,609.18 624.00,609.18 624.25,609.18 624.50,609.18 624.75,609.18 625.00,609.18 625.25,609.18 625.50,609.18 625.75,609.18 626.00,609.19 626.25,609.19 626.50,609.19 626.75,609.19 627.00,609.19 627.25,609.19 627.50,609.19 627.75,609.19 628.00,609.19 628.25,609.19 628.50,609.19 628.75,609.19 629.00,609.19 629.25,609.19 629.50,609.19 629.75,609.19 630.00,609.20 630.25,609.20 630.50,609.20 630.75,609.20 631.00,609.20 631.25,609.20 631.50,609.20 631.75,609.20 632.00,609.20 632.25,609.20 632.50,609.20 632.75,609.20 633.00,609.20 633.25,609.20 633.50,609.20 633.75,609.20 634.00,609.20 634.25,609.20 634.50,609.20 634.75,609.20 635.00,609.20 635.25,609.20 635.50,609.20 635.75,609.20 636.00,609.20" fill="none" stroke="#1d8a86" stroke-width="1.8" stroke-linejoin="round"/></g>
</g>
<rect x="90.2" y="163.8" width="68.9" height="83.9" fill="#fff" stroke="#111" stroke-width="2"/>
<rect x="101.9" y="171.8" width="18.3" height="18.3" fill="#000"/>
<rect x="101.9" y="197.1" width="18.3" height="18.3" fill="#d35a22"/>
<rect x="101.9" y="222.3" width="18.3" height="18.3" fill="#cbbfb0"/>
<text transform="translate(128.7,184.1) scale(0.95,1)" font-size="14.3" font-weight="bold" font-family='"Liberation Sans", sans-serif'>Pt</text>
<text transform="translate(128.7,209.6) scale(0.95,1)" font-size="14.3" font-weight="bold" font-family='"Liberation Sans", sans-serif'>Au</text>
<text transform="translate(128.7,234.7) scale(0.95,1)" font-size="14.3" font-weight="bold" font-family='"Liberation Sans", sans-serif'>Re</text>
<text x="629.5" y="238" text-anchor="end" font-size="24" font-family='"Liberation Sans", sans-serif'><tspan font-weight="bold">414</tspan>(1)<tspan font-weight="bold"> GPa</tspan></text>
<text x="629.5" y="354" text-anchor="end" font-size="24" font-family='"Liberation Sans", sans-serif'><tspan font-weight="bold">275.1</tspan>(6)<tspan font-weight="bold"> GPa</tspan></text>
<text x="629.5" y="461.7" text-anchor="end" font-size="24" font-family='"Liberation Sans", sans-serif'><tspan font-weight="bold">95.3</tspan>(5)<tspan font-weight="bold"> GPa</tspan></text>
<text x="629.5" y="577.7" text-anchor="end" font-size="24" font-family='"Liberation Sans", sans-serif'><tspan font-weight="bold">20.08</tspan>(9)<tspan font-weight="bold"> GPa</tspan></text>
<path d="M83.1,148 V666.3 H640.8 V148" fill="none" stroke="#000" stroke-width="2.1"/>
<line x1="104.00" y1="666" x2="104.00" y2="677.5" stroke="#000" stroke-width="2"/>
<text x="104.00" y="704.2" text-anchor="middle" font-size="24" font-family='"Liberation Sans", sans-serif'>6</text>
<line x1="135.53" y1="666" x2="135.53" y2="672" stroke="#000" stroke-width="2"/>
<line x1="167.06" y1="666" x2="167.06" y2="677.5" stroke="#000" stroke-width="2"/>
<text x="167.06" y="704.2" text-anchor="middle" font-size="24" font-family='"Liberation Sans", sans-serif'>8</text>
<line x1="198.59" y1="666" x2="198.59" y2="672" stroke="#000" stroke-width="2"/>
<line x1="230.12" y1="666" x2="230.12" y2="677.5" stroke="#000" stroke-width="2"/>
<text x="230.12" y="704.2" text-anchor="middle" font-size="24" font-family='"Liberation Sans", sans-serif'>10</text>
<line x1="261.65" y1="666" x2="261.65" y2="672" stroke="#000" stroke-width="2"/>
<line x1="293.18" y1="666" x2="293.18" y2="677.5" stroke="#000" stroke-width="2"/>
<text x="293.18" y="704.2" text-anchor="middle" font-size="24" font-family='"Liberation Sans", sans-serif'>12</text>
<line x1="324.71" y1="666" x2="324.71" y2="672" stroke="#000" stroke-width="2"/>
<line x1="356.24" y1="666" x2="356.24" y2="677.5" stroke="#000" stroke-width="2"/>
<text x="356.24" y="704.2" text-anchor="middle" font-size="24" font-family='"Liberation Sans", sans-serif'>14</text>
<line x1="387.77" y1="666" x2="387.77" y2="672" stroke="#000" stroke-width="2"/>
<line x1="419.30" y1="666" x2="419.30" y2="677.5" stroke="#000" stroke-width="2"/>
<text x="419.30" y="704.2" text-anchor="middle" font-size="24" font-family='"Liberation Sans", sans-serif'>16</text>
<line x1="450.83" y1="666" x2="450.83" y2="672" stroke="#000" stroke-width="2"/>
<line x1="482.36" y1="666" x2="482.36" y2="677.5" stroke="#000" stroke-width="2"/>
<text x="482.36" y="704.2" text-anchor="middle" font-size="24" font-family='"Liberation Sans", sans-serif'>18</text>
<line x1="513.89" y1="666" x2="513.89" y2="672" stroke="#000" stroke-width="2"/>
<line x1="545.42" y1="666" x2="545.42" y2="677.5" stroke="#000" stroke-width="2"/>
<text x="545.42" y="704.2" text-anchor="middle" font-size="24" font-family='"Liberation Sans", sans-serif'>20</text>
<line x1="576.95" y1="666" x2="576.95" y2="672" stroke="#000" stroke-width="2"/>
<line x1="608.48" y1="666" x2="608.48" y2="677.5" stroke="#000" stroke-width="2"/>
<text x="608.48" y="704.2" text-anchor="middle" font-size="24" font-family='"Liberation Sans", sans-serif'>22</text>
<text x="360.5" y="738.6" text-anchor="middle" font-size="24" font-weight="bold" font-family='"Liberation Sans", sans-serif'>2θ (°)</text>
<text x="1" y="31" font-size="32" font-weight="bold" font-family='"Liberation Sans", sans-serif'>a)</text>
<text x="1.2" y="189" font-size="32" font-weight="bold" letter-spacing="0.8" font-family='"Liberation Sans", sans-serif'>b)</text>
<text transform="translate(59.9,76.3) rotate(-90)" text-anchor="middle" font-size="24.4" font-weight="bold" font-family='"Liberation Sans", sans-serif'>Azimuthal</text>
<text transform="translate(59.8,433) rotate(-90)" text-anchor="middle" font-size="24" font-weight="bold" font-family='"Liberation Sans", sans-serif'>Intensity</text>
</svg>
</body></html>
